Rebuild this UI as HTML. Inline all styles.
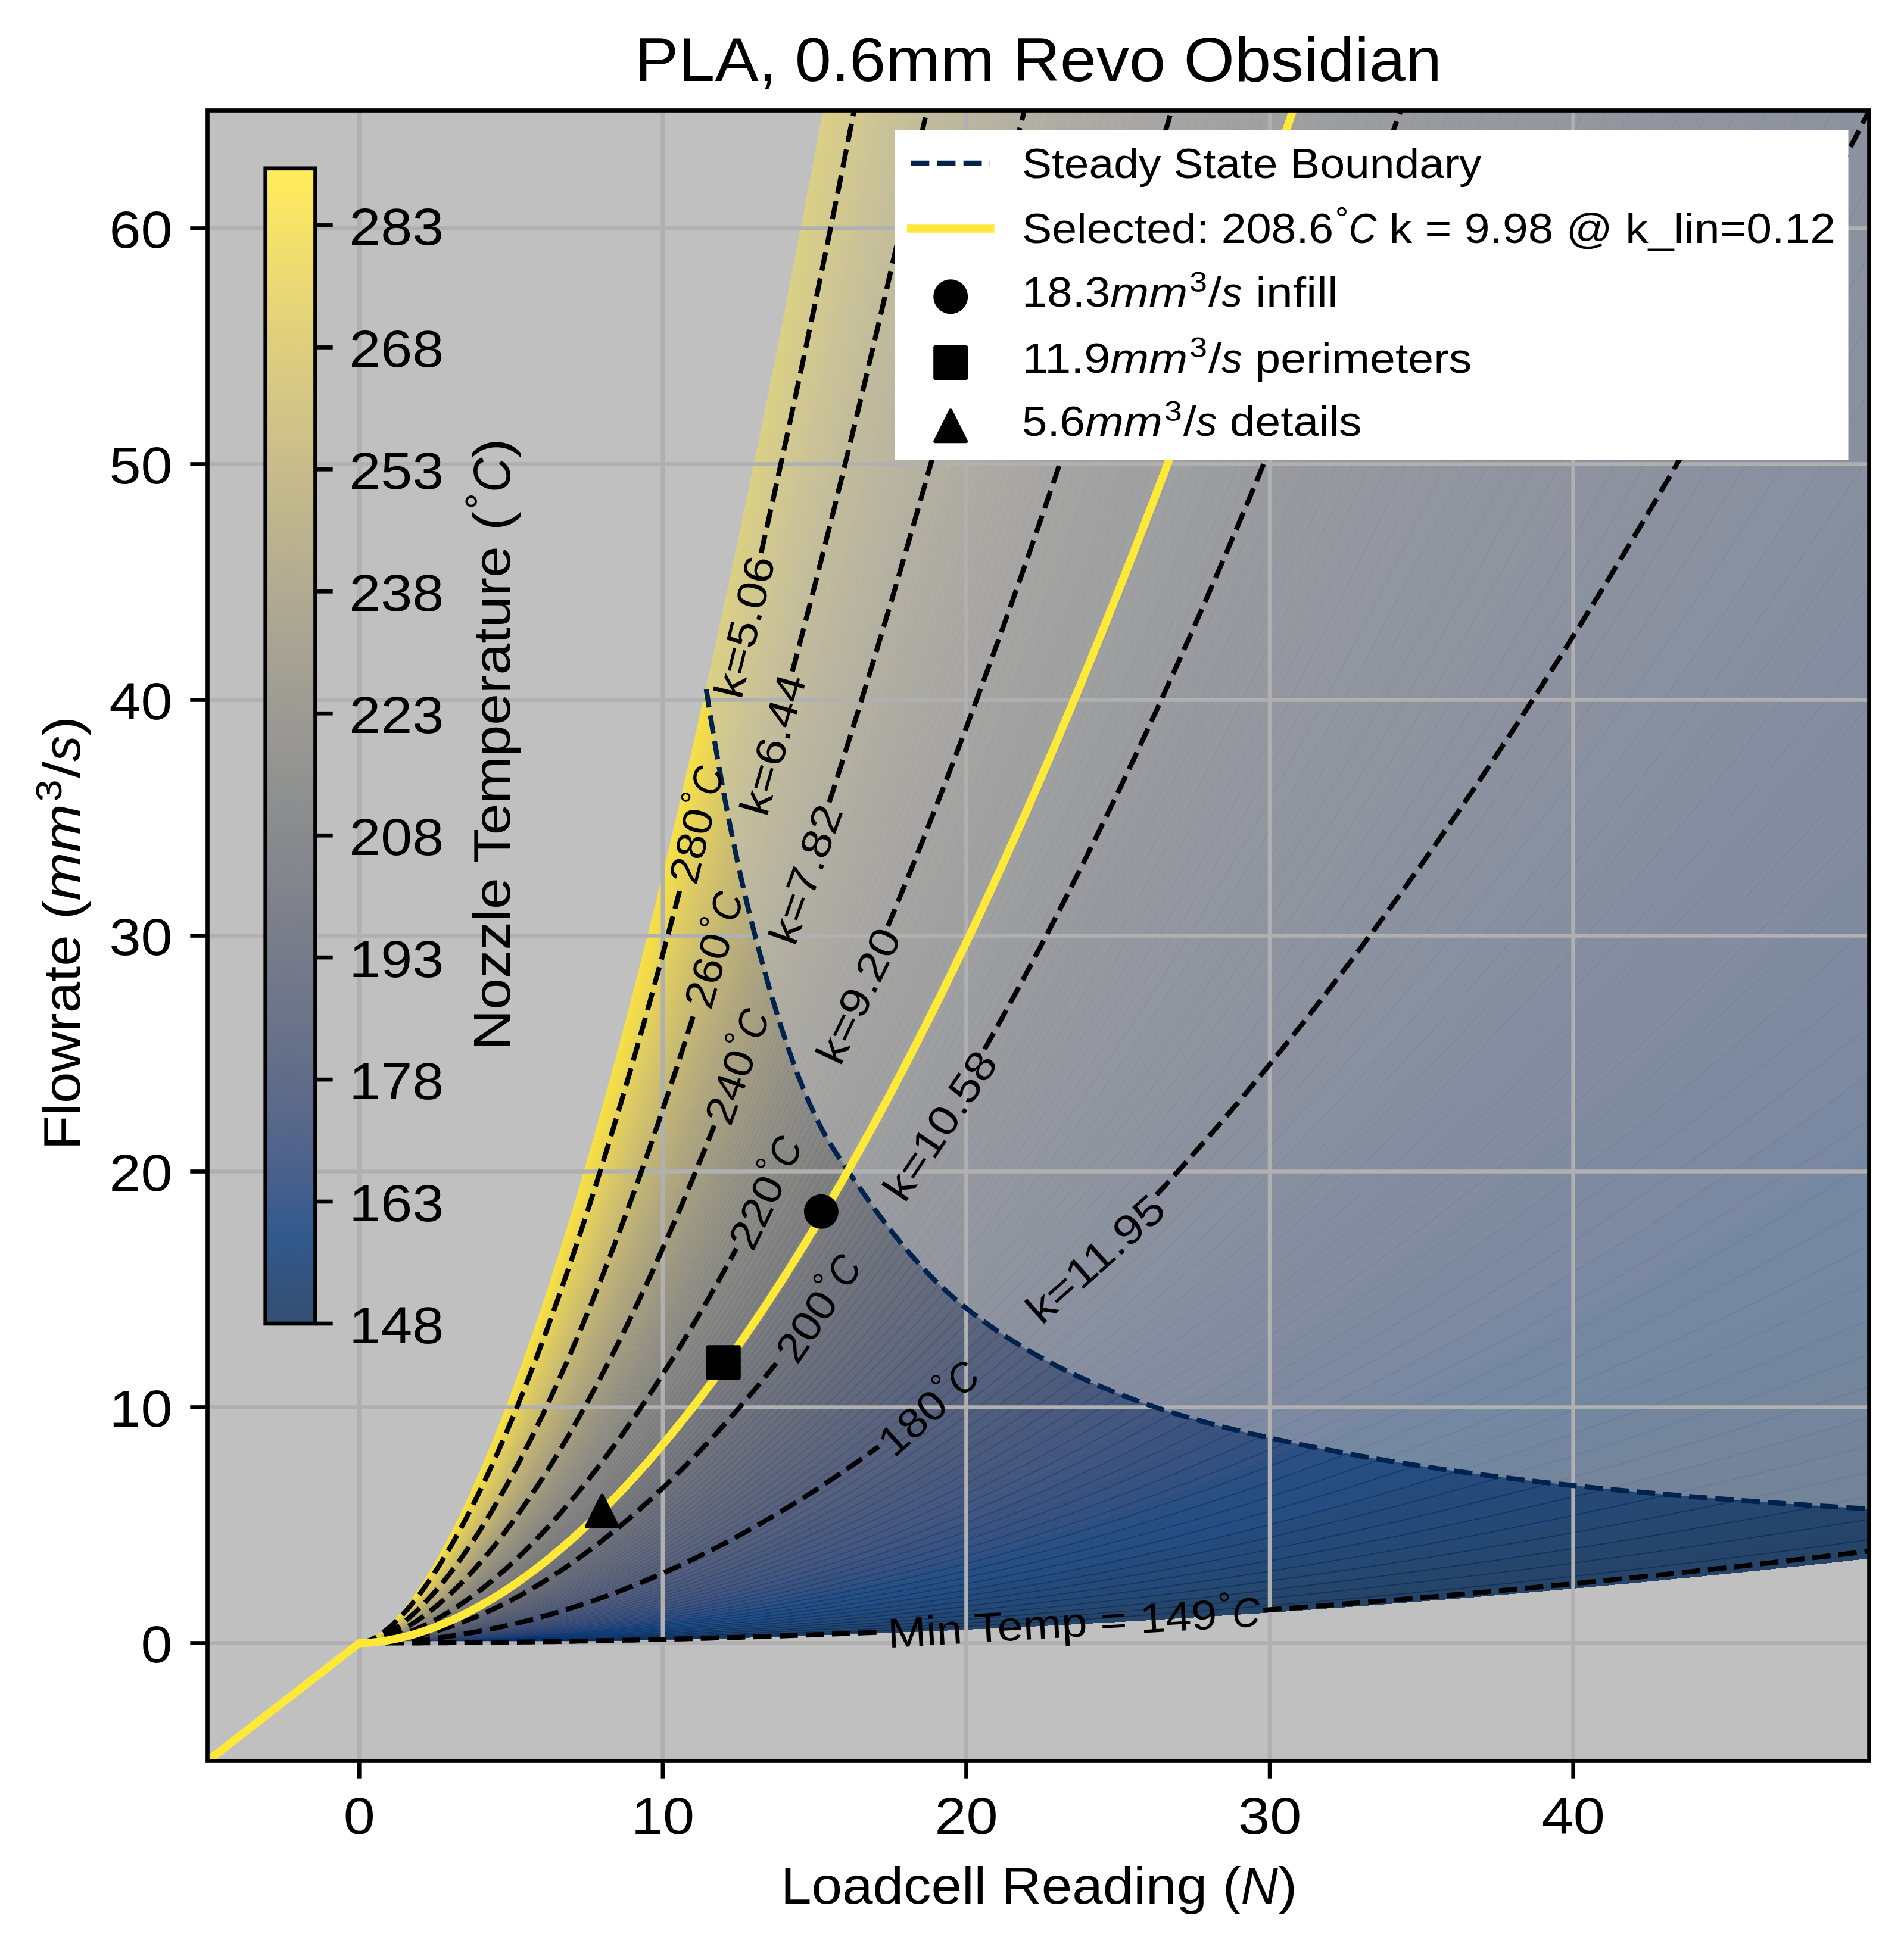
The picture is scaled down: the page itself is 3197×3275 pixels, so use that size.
<!DOCTYPE html>
<html><head><meta charset="utf-8"><title>PLA, 0.6mm Revo Obsidian</title>
<style>html,body{margin:0;padding:0;background:#fff}svg{display:block}text{font-family:"Liberation Sans", sans-serif;white-space:pre}</style></head><body>
<svg width="3197" height="3275" viewBox="0 0 3197 3275">
<rect x="0" y="0" width="3197" height="3275" fill="#fff"/>
<rect x="348.5" y="185.5" width="2790.0" height="2772.0" fill="#c0c0c0"/>
<defs>
<clipPath id="axclip"><rect x="348.5" y="185.5" width="2790.0" height="2772.0"/></clipPath>
<clipPath id="fillclip"><polygon points="603.3,2759.5 607.5,2759 613.2,2757.3 619.7,2754.6 626.6,2750.8 634,2746 641.8,2740 649.8,2733 658.1,2724.9 666.7,2715.7 675.5,2705.4 684.4,2694.1 693.6,2681.6 703,2668.1 712.5,2653.5 722.2,2637.9 732,2621.1 742,2603.3 752.1,2584.3 762.4,2564.3 772.7,2543.2 783.2,2521.1 793.8,2497.8 804.5,2473.5 815.4,2448.1 826.3,2421.6 837.3,2394 848.5,2365.4 859.7,2335.6 871,2304.8 882.4,2272.9 894,2239.9 905.5,2205.9 917.2,2170.7 929,2134.5 940.8,2097.2 952.7,2058.8 964.7,2019.4 976.8,1978.8 988.9,1937.2 1001.1,1894.5 1013.4,1850.7 1025.8,1805.8 1038.2,1759.9 1050.7,1712.8 1063.2,1664.7 1075.8,1615.5 1088.5,1565.2 1101.3,1513.9 1114.1,1461.4 1126.9,1407.9 1139.9,1353.3 1152.8,1297.6 1165.9,1240.8 1179,1183 1192.1,1124.1 1205.4,1064 1218.6,1003 1231.9,940.8 1245.3,877.5 1258.7,813.2 1272.2,747.8 1285.8,681.3 1299.3,613.7 1313,545 1326.6,475.3 1340.4,404.5 1354.1,332.6 1368,259.6 1381.8,185.5 3138.5,185.5 3138.5,2617.1 3101.9,2621.2 3065.2,2625.2 3028.6,2629.2 2991.9,2633.1 2955.2,2637 2918.6,2640.8 2881.9,2644.5 2845.3,2648.2 2808.6,2651.8 2772,2655.4 2735.3,2658.9 2698.6,2662.3 2662,2665.7 2625.3,2669 2588.6,2672.3 2551.9,2675.5 2515.3,2678.6 2478.6,2681.7 2441.9,2684.7 2405.2,2687.7 2368.6,2690.6 2331.9,2693.4 2295.2,2696.2 2258.5,2698.9 2221.8,2701.6 2185.1,2704.2 2148.4,2706.7 2111.7,2709.2 2075,2711.6 2038.3,2714 2001.6,2716.3 1964.9,2718.6 1928.2,2720.7 1891.5,2722.9 1854.8,2724.9 1818.1,2726.9 1781.4,2728.9 1744.6,2730.8 1707.9,2732.6 1671.2,2734.3 1634.5,2736.1 1597.7,2737.7 1561,2739.3 1524.3,2740.8 1487.5,2742.3 1450.8,2743.7 1414,2745 1377.2,2746.3 1340.5,2747.5 1303.7,2748.7 1266.9,2749.8 1230.2,2750.9 1193.4,2751.8 1156.6,2752.8 1119.8,2753.6 1083,2754.4 1046.2,2755.2 1009.4,2755.9 972.6,2756.5 935.7,2757.1 898.9,2757.6 862,2758 825.1,2758.4 788.3,2758.8 751.3,2759 714.4,2759.2 677.5,2759.4 640.4,2759.5 603.3,2759.5"/></clipPath>
</defs>
<g clip-path="url(#axclip)"><g clip-path="url(#fillclip)">
<rect x="348.5" y="185.5" width="2790.0" height="2772.0" fill="#f1df52"/>
<polygon points="603.3,2759.5 612,2757.8 623.6,2752.7 636.8,2744.3 651,2732.4 666.1,2717.2 681.9,2698.6 698.3,2676.6 715.2,2651.2 732.7,2622.4 750.6,2590.3 768.9,2554.7 787.6,2515.8 806.7,2473.5 826.1,2427.8 845.9,2378.7 865.9,2326.3 886.3,2270.4 906.9,2211.2 927.8,2148.6 948.9,2082.6 970.3,2013.2 991.9,1940.4 1013.8,1864.3 1035.8,1784.7 1058.1,1701.8 1080.6,1615.5 1103.3,1525.8 1126.2,1432.7 1149.2,1336.3 1172.5,1236.4 1195.9,1133.2 1219.5,1026.6 1243.3,916.6 1267.3,803.2 1291.4,686.4 1315.6,566.3 1340,442.7 1364.6,315.8 1389.3,185.5 3143.5,180.5 3143.5,2957.5 603.3,2957.5" fill="#f1dc50"/>
<polygon points="603.3,2759.5 612.1,2757.8 623.9,2752.7 637.2,2744.3 651.6,2732.4 666.8,2717.2 682.8,2698.6 699.4,2676.6 716.5,2651.2 734.2,2622.4 752.3,2590.3 770.8,2554.7 789.7,2515.8 809,2473.5 828.6,2427.8 848.5,2378.7 868.8,2326.3 889.3,2270.4 910.1,2211.2 931.2,2148.6 952.5,2082.6 974.1,2013.2 995.9,1940.4 1018,1864.3 1040.3,1784.7 1062.7,1701.8 1085.4,1615.5 1108.3,1525.8 1131.4,1432.7 1154.7,1336.3 1178.2,1236.4 1201.8,1133.2 1225.6,1026.6 1249.6,916.6 1273.8,803.2 1298.1,686.4 1322.6,566.3 1347.2,442.7 1372,315.8 1396.9,185.5 3143.5,180.5 3143.5,2957.5 603.3,2957.5" fill="#efda53"/>
<polygon points="603.3,2759.5 612.2,2757.8 624.2,2752.7 637.7,2744.3 652.2,2732.4 667.6,2717.2 683.8,2698.6 700.5,2676.6 717.9,2651.2 735.7,2622.4 754,2590.3 772.7,2554.7 791.8,2515.8 811.2,2473.5 831.1,2427.8 851.2,2378.7 871.6,2326.3 892.4,2270.4 913.4,2211.2 934.7,2148.6 956.2,2082.6 978,2013.2 1000,1940.4 1022.3,1864.3 1044.8,1784.7 1067.5,1701.8 1090.4,1615.5 1113.5,1525.8 1136.8,1432.7 1160.3,1336.3 1183.9,1236.4 1207.8,1133.2 1231.8,1026.6 1256,916.6 1280.4,803.2 1304.9,686.4 1329.6,566.3 1354.5,442.7 1379.5,315.8 1404.6,185.5 3143.5,180.5 3143.5,2957.5 603.3,2957.5" fill="#ecd858"/>
<polygon points="603.3,2759.5 612.3,2757.8 624.5,2752.7 638.1,2744.3 652.8,2732.4 668.4,2717.2 684.8,2698.6 701.7,2676.6 719.2,2651.2 737.3,2622.4 755.7,2590.3 774.6,2554.7 793.9,2515.8 813.6,2473.5 833.6,2427.8 853.9,2378.7 874.6,2326.3 895.5,2270.4 916.8,2211.2 938.3,2148.6 960,2082.6 982,2013.2 1004.2,1940.4 1026.7,1864.3 1049.4,1784.7 1072.3,1701.8 1095.4,1615.5 1118.7,1525.8 1142.2,1432.7 1165.9,1336.3 1189.8,1236.4 1213.9,1133.2 1238.1,1026.6 1262.6,916.6 1287.1,803.2 1311.9,686.4 1336.8,566.3 1361.9,442.7 1387.1,315.8 1412.5,185.5 3143.5,180.5 3143.5,2957.5 603.3,2957.5" fill="#e9d65b"/>
<polygon points="603.3,2759.5 612.5,2757.8 624.8,2752.7 638.6,2744.3 653.5,2732.4 669.3,2717.2 685.8,2698.6 702.9,2676.6 720.7,2651.2 738.9,2622.4 757.5,2590.3 776.7,2554.7 796.2,2515.8 816,2473.5 836.2,2427.8 856.8,2378.7 877.6,2326.3 898.8,2270.4 920.2,2211.2 941.9,2148.6 963.9,2082.6 986.1,2013.2 1008.5,1940.4 1031.2,1864.3 1054.1,1784.7 1077.2,1701.8 1100.6,1615.5 1124.1,1525.8 1147.8,1432.7 1171.7,1336.3 1195.8,1236.4 1220.1,1133.2 1244.6,1026.6 1269.2,916.6 1294,803.2 1319,686.4 1344.1,566.3 1369.4,442.7 1394.9,315.8 1420.5,185.5 3143.5,180.5 3143.5,2957.5 603.3,2957.5" fill="#e7d45e"/>
<polygon points="603.3,2759.5 612.6,2757.8 625.1,2752.7 639.1,2744.3 654.2,2732.4 670.2,2717.2 686.9,2698.6 704.2,2676.6 722.1,2651.2 740.5,2622.4 759.4,2590.3 778.7,2554.7 798.4,2515.8 818.5,2473.5 838.9,2427.8 859.7,2378.7 880.8,2326.3 902.1,2270.4 923.8,2211.2 945.7,2148.6 967.9,2082.6 990.3,2013.2 1013,1940.4 1035.9,1864.3 1059,1784.7 1082.3,1701.8 1105.9,1615.5 1129.6,1525.8 1153.5,1432.7 1177.7,1336.3 1202,1236.4 1226.5,1133.2 1251.2,1026.6 1276.1,916.6 1301.1,803.2 1326.3,686.4 1351.6,566.3 1377.1,442.7 1402.8,315.8 1428.6,185.5 3143.5,180.5 3143.5,2957.5 603.3,2957.5" fill="#e5d261"/>
<polygon points="603.3,2759.5 612.8,2757.8 625.4,2752.7 639.6,2744.3 654.9,2732.4 671.1,2717.2 688,2698.6 705.5,2676.6 723.7,2651.2 742.3,2622.4 761.4,2590.3 780.9,2554.7 800.8,2515.8 821.1,2473.5 841.8,2427.8 862.7,2378.7 884,2326.3 905.6,2270.4 927.4,2211.2 949.6,2148.6 972,2082.6 994.6,2013.2 1017.5,1940.4 1040.6,1864.3 1064,1784.7 1087.5,1701.8 1111.3,1615.5 1135.3,1525.8 1159.4,1432.7 1183.8,1336.3 1208.3,1236.4 1233.1,1133.2 1258,1026.6 1283,916.6 1308.3,803.2 1333.7,686.4 1359.3,566.3 1385,442.7 1410.9,315.8 1437,185.5 3143.5,180.5 3143.5,2957.5 603.3,2957.5" fill="#e2d064"/>
<polygon points="603.3,2759.5 613,2757.8 625.8,2752.7 640.2,2744.3 655.7,2732.4 672,2717.2 689.2,2698.6 706.9,2676.6 725.3,2651.2 744.1,2622.4 763.4,2590.3 783.1,2554.7 803.3,2515.8 823.8,2473.5 844.7,2427.8 865.8,2378.7 887.3,2326.3 909.1,2270.4 931.2,2211.2 953.6,2148.6 976.2,2082.6 999.1,2013.2 1022.2,1940.4 1045.5,1864.3 1069.1,1784.7 1092.8,1701.8 1116.8,1615.5 1141,1525.8 1165.4,1432.7 1190,1336.3 1214.8,1236.4 1239.7,1133.2 1264.8,1026.6 1290.1,916.6 1315.6,803.2 1341.3,686.4 1367.1,566.3 1393,442.7 1419.1,315.8 1445.4,185.5 3143.5,180.5 3143.5,2957.5 603.3,2957.5" fill="#e0ce65"/>
<polygon points="603.3,2759.5 613.1,2757.8 626.2,2752.7 640.8,2744.3 656.5,2732.4 673.1,2717.2 690.4,2698.6 708.4,2676.6 726.9,2651.2 746,2622.4 765.5,2590.3 785.5,2554.7 805.8,2515.8 826.6,2473.5 847.6,2427.8 869,2378.7 890.8,2326.3 912.8,2270.4 935.1,2211.2 957.7,2148.6 980.5,2082.6 1003.6,2013.2 1026.9,1940.4 1050.5,1864.3 1074.3,1784.7 1098.3,1701.8 1122.5,1615.5 1146.9,1525.8 1171.5,1432.7 1196.3,1336.3 1221.3,1236.4 1246.5,1133.2 1271.8,1026.6 1297.3,916.6 1323,803.2 1348.9,686.4 1374.9,566.3 1401.1,442.7 1427.4,315.8 1453.9,185.5 3143.5,180.5 3143.5,2957.5 603.3,2957.5" fill="#ddcc68"/>
<polygon points="603.3,2759.5 613.3,2757.8 626.6,2752.7 641.4,2744.3 657.3,2732.4 674.1,2717.2 691.7,2698.6 709.9,2676.6 728.6,2651.2 747.9,2622.4 767.7,2590.3 787.9,2554.7 808.5,2515.8 829.4,2473.5 850.7,2427.8 872.4,2378.7 894.3,2326.3 916.5,2270.4 939.1,2211.2 961.9,2148.6 984.9,2082.6 1008.2,2013.2 1031.8,1940.4 1055.6,1864.3 1079.6,1784.7 1103.8,1701.8 1128.2,1615.5 1152.9,1525.8 1177.7,1432.7 1202.7,1336.3 1227.9,1236.4 1253.3,1133.2 1278.9,1026.6 1304.6,916.6 1330.5,803.2 1356.6,686.4 1382.8,566.3 1409.2,442.7 1435.8,315.8 1462.4,185.5 3143.5,180.5 3143.5,2957.5 603.3,2957.5" fill="#dbca6a"/>
<polygon points="603.3,2759.5 613.5,2757.8 627,2752.7 642,2744.3 658.2,2732.4 675.2,2717.2 693,2698.6 711.4,2676.6 730.4,2651.2 750,2622.4 769.9,2590.3 790.4,2554.7 811.2,2515.8 832.3,2473.5 853.9,2427.8 875.7,2378.7 897.9,2326.3 920.4,2270.4 943.1,2211.2 966.2,2148.6 989.5,2082.6 1013,2013.2 1036.8,1940.4 1060.8,1864.3 1085,1784.7 1109.4,1701.8 1134.1,1615.5 1158.9,1525.8 1184,1432.7 1209.2,1336.3 1234.6,1236.4 1260.3,1133.2 1286,1026.6 1312,916.6 1338.1,803.2 1364.4,686.4 1390.8,566.3 1417.4,442.7 1444.2,315.8 1471.1,185.5 3143.5,180.5 3143.5,2957.5 603.3,2957.5" fill="#d8c76c"/>
<polygon points="603.3,2759.5 613.7,2757.8 627.4,2752.7 642.7,2744.3 659.1,2732.4 676.3,2717.2 694.4,2698.6 713,2676.6 732.3,2651.2 752,2622.4 772.3,2590.3 792.9,2554.7 814,2515.8 835.4,2473.5 857.1,2427.8 879.2,2378.7 901.6,2326.3 924.3,2270.4 947.3,2211.2 970.6,2148.6 994.1,2082.6 1017.8,2013.2 1041.8,1940.4 1066.1,1864.3 1090.5,1784.7 1115.2,1701.8 1140,1615.5 1165.1,1525.8 1190.4,1432.7 1215.8,1336.3 1241.5,1236.4 1267.3,1133.2 1293.3,1026.6 1319.5,916.6 1345.8,803.2 1372.3,686.4 1399,566.3 1425.8,442.7 1452.8,315.8 1479.9,185.5 3143.5,180.5 3143.5,2957.5 603.3,2957.5" fill="#d6c66e"/>
<polygon points="603.3,2759.5 613.9,2757.8 627.9,2752.7 643.4,2744.3 660,2732.4 677.5,2717.2 695.8,2698.6 714.7,2676.6 734.2,2651.2 754.2,2622.4 774.6,2590.3 795.5,2554.7 816.8,2515.8 838.5,2473.5 860.5,2427.8 882.8,2378.7 905.4,2326.3 928.4,2270.4 951.6,2211.2 975.1,2148.6 998.8,2082.6 1022.8,2013.2 1047,1940.4 1071.5,1864.3 1096.1,1784.7 1121,1701.8 1146.1,1615.5 1171.4,1525.8 1196.9,1432.7 1222.6,1336.3 1248.5,1236.4 1274.5,1133.2 1300.7,1026.6 1327.1,916.6 1353.7,803.2 1380.4,686.4 1407.2,566.3 1434.3,442.7 1461.4,315.8 1488.8,185.5 3143.5,180.5 3143.5,2957.5 603.3,2957.5" fill="#d4c470"/>
<polygon points="603.3,2759.5 614.2,2757.8 628.3,2752.7 644.1,2744.3 661,2732.4 678.7,2717.2 697.3,2698.6 716.4,2676.6 736.2,2651.2 756.4,2622.4 777.1,2590.3 798.2,2554.7 819.8,2515.8 841.6,2473.5 863.9,2427.8 886.5,2378.7 909.3,2326.3 932.5,2270.4 955.9,2211.2 979.7,2148.6 1003.6,2082.6 1027.9,2013.2 1052.3,1940.4 1077,1864.3 1101.9,1784.7 1127,1701.8 1152.3,1615.5 1177.8,1525.8 1203.6,1432.7 1229.5,1336.3 1255.5,1236.4 1281.8,1133.2 1308.2,1026.6 1334.8,916.6 1361.6,803.2 1388.5,686.4 1415.6,566.3 1442.9,442.7 1470.3,315.8 1497.8,185.5 3143.5,180.5 3143.5,2957.5 603.3,2957.5" fill="#d1c272"/>
<polygon points="603.3,2759.5 614.4,2757.8 628.8,2752.7 644.8,2744.3 662,2732.4 680,2717.2 698.8,2698.6 718.2,2676.6 738.2,2651.2 758.7,2622.4 779.6,2590.3 801,2554.7 822.8,2515.8 844.9,2473.5 867.4,2427.8 890.2,2378.7 913.3,2326.3 936.7,2270.4 960.4,2211.2 984.4,2148.6 1008.6,2082.6 1033,2013.2 1057.7,1940.4 1082.6,1864.3 1107.8,1784.7 1133.1,1701.8 1158.7,1615.5 1184.4,1525.8 1210.3,1432.7 1236.5,1336.3 1262.8,1236.4 1289.3,1133.2 1315.9,1026.6 1342.7,916.6 1369.7,803.2 1396.9,686.4 1424.2,566.3 1451.6,442.7 1479.2,315.8 1507,185.5 3143.5,180.5 3143.5,2957.5 603.3,2957.5" fill="#cfc073"/>
<polygon points="603.3,2759.5 614.6,2757.8 629.3,2752.7 645.6,2744.3 663,2732.4 681.3,2717.2 700.3,2698.6 720,2676.6 740.2,2651.2 761,2622.4 782.2,2590.3 803.8,2554.7 825.8,2515.8 848.2,2473.5 870.9,2427.8 894,2378.7 917.4,2326.3 941,2270.4 965,2211.2 989.2,2148.6 1013.6,2082.6 1038.3,2013.2 1063.2,1940.4 1088.4,1864.3 1113.7,1784.7 1139.3,1701.8 1165.1,1615.5 1191.1,1525.8 1217.3,1432.7 1243.6,1336.3 1270.2,1236.4 1296.9,1133.2 1323.7,1026.6 1350.8,916.6 1378,803.2 1405.4,686.4 1432.9,566.3 1460.6,442.7 1488.4,315.8 1516.4,185.5 3143.5,180.5 3143.5,2957.5 603.3,2957.5" fill="#cdbe74"/>
<polygon points="603.3,2759.5 614.9,2757.8 629.8,2752.7 646.4,2744.3 664,2732.4 682.6,2717.2 701.9,2698.6 721.8,2676.6 742.3,2651.2 763.3,2622.4 784.8,2590.3 806.7,2554.7 829,2515.8 851.6,2473.5 874.6,2427.8 897.9,2378.7 921.5,2326.3 945.4,2270.4 969.6,2211.2 994,2148.6 1018.7,2082.6 1043.7,2013.2 1068.9,1940.4 1094.2,1864.3 1119.9,1784.7 1145.7,1701.8 1171.7,1615.5 1197.9,1525.8 1224.3,1432.7 1250.9,1336.3 1277.7,1236.4 1304.6,1133.2 1331.7,1026.6 1359,916.6 1386.5,803.2 1414.1,686.4 1441.8,566.3 1469.7,442.7 1497.8,315.8 1526,185.5 3143.5,180.5 3143.5,2957.5 603.3,2957.5" fill="#cabc76"/>
<polygon points="603.3,2759.5 615.1,2757.8 630.3,2752.7 647.1,2744.3 665.1,2732.4 683.9,2717.2 703.5,2698.6 723.7,2676.6 744.4,2651.2 765.7,2622.4 787.4,2590.3 809.6,2554.7 832.1,2515.8 855,2473.5 878.3,2427.8 901.9,2378.7 925.7,2326.3 949.9,2270.4 974.3,2211.2 999,2148.6 1024,2082.6 1049.2,2013.2 1074.6,1940.4 1100.2,1864.3 1126.1,1784.7 1152.2,1701.8 1178.4,1615.5 1204.9,1525.8 1231.5,1432.7 1258.4,1336.3 1285.4,1236.4 1312.6,1133.2 1339.9,1026.6 1367.4,916.6 1395.1,803.2 1423,686.4 1451,566.3 1479.1,442.7 1507.4,315.8 1535.8,185.5 3143.5,180.5 3143.5,2957.5 603.3,2957.5" fill="#c8ba77"/>
<polygon points="603.3,2759.5 615.4,2757.8 630.9,2752.7 647.9,2744.3 666.1,2732.4 685.2,2717.2 705.1,2698.6 725.5,2676.6 746.6,2651.2 768.1,2622.4 790.1,2590.3 812.5,2554.7 835.4,2515.8 858.5,2473.5 882,2427.8 905.9,2378.7 930,2326.3 954.4,2270.4 979.1,2211.2 1004.1,2148.6 1029.3,2082.6 1054.8,2013.2 1080.4,1940.4 1106.3,1864.3 1132.5,1784.7 1158.8,1701.8 1185.3,1615.5 1212,1525.8 1238.9,1432.7 1266,1336.3 1293.3,1236.4 1320.7,1133.2 1348.3,1026.6 1376.1,916.6 1404,803.2 1432.1,686.4 1460.3,566.3 1488.7,442.7 1517.2,315.8 1545.9,185.5 3143.5,180.5 3143.5,2957.5 603.3,2957.5" fill="#c6b978"/>
<polygon points="603.3,2759.5 615.6,2757.8 631.4,2752.7 648.7,2744.3 667.2,2732.4 686.6,2717.2 706.7,2698.6 727.4,2676.6 748.7,2651.2 770.6,2622.4 792.8,2590.3 815.5,2554.7 838.6,2515.8 862.1,2473.5 885.9,2427.8 910,2378.7 934.4,2326.3 959.1,2270.4 984,2211.2 1009.3,2148.6 1034.7,2082.6 1060.5,2013.2 1086.4,1940.4 1112.6,1864.3 1139,1784.7 1165.5,1701.8 1192.3,1615.5 1219.3,1525.8 1246.5,1432.7 1273.8,1336.3 1301.3,1236.4 1329,1133.2 1356.9,1026.6 1384.9,916.6 1413.1,803.2 1441.5,686.4 1470,566.3 1498.6,442.7 1527.4,315.8 1556.3,185.5 3143.5,180.5 3143.5,2957.5 603.3,2957.5" fill="#c3b77a"/>
<polygon points="603.3,2759.5 615.9,2757.8 631.9,2752.7 649.5,2744.3 668.3,2732.4 687.9,2717.2 708.3,2698.6 729.3,2676.6 750.9,2651.2 773,2622.4 795.6,2590.3 818.6,2554.7 841.9,2515.8 865.7,2473.5 889.7,2427.8 914.1,2378.7 938.8,2326.3 963.8,2270.4 989,2211.2 1014.5,2148.6 1040.3,2082.6 1066.3,2013.2 1092.5,1940.4 1118.9,1864.3 1145.6,1784.7 1172.4,1701.8 1199.5,1615.5 1226.7,1525.8 1254.2,1432.7 1281.8,1336.3 1309.6,1236.4 1337.6,1133.2 1365.7,1026.6 1394,916.6 1422.4,803.2 1451.1,686.4 1479.8,566.3 1508.7,442.7 1537.8,315.8 1567,185.5 3143.5,180.5 3143.5,2957.5 603.3,2957.5" fill="#c1b57b"/>
<polygon points="603.3,2759.5 616.1,2757.8 632.4,2752.7 650.3,2744.3 669.4,2732.4 689.3,2717.2 710,2698.6 731.3,2676.6 753.2,2651.2 775.5,2622.4 798.4,2590.3 821.6,2554.7 845.3,2515.8 869.3,2473.5 893.6,2427.8 918.3,2378.7 943.3,2326.3 968.5,2270.4 994.1,2211.2 1019.8,2148.6 1045.9,2082.6 1072.1,2013.2 1098.6,1940.4 1125.4,1864.3 1152.3,1784.7 1179.4,1701.8 1206.8,1615.5 1234.3,1525.8 1262,1432.7 1289.9,1336.3 1318,1236.4 1346.2,1133.2 1374.6,1026.6 1403.2,916.6 1431.9,803.2 1460.8,686.4 1489.8,566.3 1519,442.7 1548.3,315.8 1577.8,185.5 3143.5,180.5 3143.5,2957.5 603.3,2957.5" fill="#bfb37c"/>
<polygon points="603.3,2759.5 616.4,2757.8 632.9,2752.7 651.1,2744.3 670.5,2732.4 690.7,2717.2 711.6,2698.6 733.2,2676.6 755.4,2651.2 778.1,2622.4 801.2,2590.3 824.8,2554.7 848.7,2515.8 873,2473.5 897.6,2427.8 922.6,2378.7 947.8,2326.3 973.4,2270.4 999.2,2211.2 1025.3,2148.6 1051.6,2082.6 1078.1,2013.2 1104.9,1940.4 1131.9,1864.3 1159.1,1784.7 1186.6,1701.8 1214.2,1615.5 1242,1525.8 1270,1432.7 1298.1,1336.3 1326.5,1236.4 1355,1133.2 1383.7,1026.6 1412.5,916.6 1441.5,803.2 1470.7,686.4 1500,566.3 1529.5,442.7 1559.1,315.8 1588.8,185.5 3143.5,180.5 3143.5,2957.5 603.3,2957.5" fill="#bdb17d"/>
<polygon points="603.3,2759.5 616.7,2757.8 633.5,2752.7 652,2744.3 671.6,2732.4 692.1,2717.2 713.4,2698.6 735.3,2676.6 757.7,2651.2 780.7,2622.4 804.1,2590.3 827.9,2554.7 852.2,2515.8 876.8,2473.5 901.7,2427.8 926.9,2378.7 952.5,2326.3 978.3,2270.4 1004.4,2211.2 1030.8,2148.6 1057.4,2082.6 1084.2,2013.2 1111.3,1940.4 1138.6,1864.3 1166.1,1784.7 1193.8,1701.8 1221.7,1615.5 1249.8,1525.8 1278.1,1432.7 1306.5,1336.3 1335.2,1236.4 1364,1133.2 1392.9,1026.6 1422.1,916.6 1451.4,803.2 1480.8,686.4 1510.4,566.3 1540.1,442.7 1570,315.8 1600,185.5 3143.5,180.5 3143.5,2957.5 603.3,2957.5" fill="#baaf7e"/>
<polygon points="603.3,2759.5 616.9,2757.8 634.1,2752.7 652.8,2744.3 672.7,2732.4 693.5,2717.2 715.1,2698.6 737.3,2676.6 760.1,2651.2 783.3,2622.4 807.1,2590.3 831.2,2554.7 855.7,2515.8 880.6,2473.5 905.8,2427.8 931.4,2378.7 957.2,2326.3 983.4,2270.4 1009.8,2211.2 1036.4,2148.6 1063.3,2082.6 1090.5,2013.2 1117.8,1940.4 1145.4,1864.3 1173.2,1784.7 1201.2,1701.8 1229.4,1615.5 1257.8,1525.8 1286.4,1432.7 1315.1,1336.3 1344,1236.4 1373.1,1133.2 1402.4,1026.6 1431.8,916.6 1461.4,803.2 1491.1,686.4 1521,566.3 1551,442.7 1581.2,315.8 1611.5,185.5 3143.5,180.5 3143.5,2957.5 603.3,2957.5" fill="#b9ae7f"/>
<polygon points="603.3,2759.5 617.2,2757.8 634.6,2752.7 653.7,2744.3 673.9,2732.4 695,2717.2 716.9,2698.6 739.4,2676.6 762.5,2651.2 786,2622.4 810.1,2590.3 834.5,2554.7 859.3,2515.8 884.5,2473.5 910.1,2427.8 935.9,2378.7 962.1,2326.3 988.5,2270.4 1015.2,2211.2 1042.2,2148.6 1069.4,2082.6 1096.8,2013.2 1124.5,1940.4 1152.4,1864.3 1180.5,1784.7 1208.8,1701.8 1237.3,1615.5 1266,1525.8 1294.8,1432.7 1323.9,1336.3 1353.1,1236.4 1382.5,1133.2 1412,1026.6 1441.8,916.6 1471.6,803.2 1501.6,686.4 1531.8,566.3 1562.1,442.7 1592.6,315.8 1623.2,185.5 3143.5,180.5 3143.5,2957.5 603.3,2957.5" fill="#b6ac80"/>
<polygon points="603.3,2759.5 617.5,2757.8 635.2,2752.7 654.6,2744.3 675.1,2732.4 696.5,2717.2 718.7,2698.6 741.5,2676.6 764.9,2651.2 788.8,2622.4 813.1,2590.3 837.9,2554.7 863.1,2515.8 888.6,2473.5 914.4,2427.8 940.6,2378.7 967,2326.3 993.8,2270.4 1020.8,2211.2 1048.1,2148.6 1075.6,2082.6 1103.3,2013.2 1131.3,1940.4 1159.5,1864.3 1187.9,1784.7 1216.5,1701.8 1245.3,1615.5 1274.3,1525.8 1303.5,1432.7 1332.8,1336.3 1362.4,1236.4 1392.1,1133.2 1421.9,1026.6 1451.9,916.6 1482.1,803.2 1512.4,686.4 1542.9,566.3 1573.5,442.7 1604.3,315.8 1635.2,185.5 3143.5,180.5 3143.5,2957.5 603.3,2957.5" fill="#b4aa80"/>
<polygon points="603.3,2759.5 617.8,2757.8 635.8,2752.7 655.5,2744.3 676.3,2732.4 698.1,2717.2 720.6,2698.6 743.7,2676.6 767.4,2651.2 791.6,2622.4 816.3,2590.3 841.4,2554.7 866.8,2515.8 892.7,2473.5 918.8,2427.8 945.3,2378.7 972.1,2326.3 999.2,2270.4 1026.5,2211.2 1054.1,2148.6 1081.9,2082.6 1110,2013.2 1138.3,1940.4 1166.8,1864.3 1195.5,1784.7 1224.4,1701.8 1253.6,1615.5 1282.9,1525.8 1312.4,1432.7 1342,1336.3 1371.9,1236.4 1401.9,1133.2 1432.1,1026.6 1462.4,916.6 1492.9,803.2 1523.5,686.4 1554.3,566.3 1585.2,442.7 1616.3,315.8 1647.5,185.5 3143.5,180.5 3143.5,2957.5 603.3,2957.5" fill="#b1a881"/>
<polygon points="603.3,2759.5 618.1,2757.8 636.4,2752.7 656.4,2744.3 677.6,2732.4 699.7,2717.2 722.5,2698.6 746,2676.6 770,2651.2 794.5,2622.4 819.5,2590.3 844.9,2554.7 870.7,2515.8 896.9,2473.5 923.4,2427.8 950.2,2378.7 977.3,2326.3 1004.7,2270.4 1032.4,2211.2 1060.3,2148.6 1088.4,2082.6 1116.8,2013.2 1145.5,1940.4 1174.3,1864.3 1203.3,1784.7 1232.6,1701.8 1262,1615.5 1291.7,1525.8 1321.5,1432.7 1351.5,1336.3 1381.6,1236.4 1412,1133.2 1442.5,1026.6 1473.1,916.6 1503.9,803.2 1534.9,686.4 1566,566.3 1597.2,442.7 1628.6,315.8 1660.2,185.5 3143.5,180.5 3143.5,2957.5 603.3,2957.5" fill="#afa782"/>
<polygon points="603.3,2759.5 618.4,2757.8 637,2752.7 657.4,2744.3 678.9,2732.4 701.3,2717.2 724.5,2698.6 748.3,2676.6 772.6,2651.2 797.5,2622.4 822.8,2590.3 848.6,2554.7 874.7,2515.8 901.2,2473.5 928.1,2427.8 955.2,2378.7 982.7,2326.3 1010.4,2270.4 1038.4,2211.2 1066.6,2148.6 1095.1,2082.6 1123.9,2013.2 1152.8,1940.4 1182,1864.3 1211.4,1784.7 1241,1701.8 1270.8,1615.5 1300.7,1525.8 1330.9,1432.7 1361.2,1336.3 1391.7,1236.4 1422.4,1133.2 1453.2,1026.6 1484.2,916.6 1515.3,803.2 1546.6,686.4 1578,566.3 1609.6,442.7 1641.3,315.8 1673.2,185.5 3143.5,180.5 3143.5,2957.5 603.3,2957.5" fill="#ada583"/>
<polygon points="603.3,2759.5 618.7,2757.8 637.7,2752.7 658.4,2744.3 680.2,2732.4 703,2717.2 726.5,2698.6 750.6,2676.6 775.3,2651.2 800.6,2622.4 826.2,2590.3 852.3,2554.7 878.8,2515.8 905.7,2473.5 932.9,2427.8 960.4,2378.7 988.2,2326.3 1016.2,2270.4 1044.6,2211.2 1073.2,2148.6 1102,2082.6 1131.1,2013.2 1160.4,1940.4 1190,1864.3 1219.7,1784.7 1249.6,1701.8 1279.7,1615.5 1310.1,1525.8 1340.6,1432.7 1371.2,1336.3 1402.1,1236.4 1433.1,1133.2 1464.3,1026.6 1495.6,916.6 1527.1,803.2 1558.7,686.4 1590.5,566.3 1622.4,442.7 1654.5,315.8 1686.7,185.5 3143.5,180.5 3143.5,2957.5 603.3,2957.5" fill="#aba383"/>
<polygon points="603.3,2759.5 619,2757.8 638.3,2752.7 659.4,2744.3 681.6,2732.4 704.7,2717.2 728.5,2698.6 753.1,2676.6 778.1,2651.2 803.7,2622.4 829.8,2590.3 856.2,2554.7 883.1,2515.8 910.3,2473.5 937.8,2427.8 965.7,2378.7 993.8,2326.3 1022.3,2270.4 1051,2211.2 1080,2148.6 1109.2,2082.6 1138.6,2013.2 1168.3,1940.4 1198.2,1864.3 1228.3,1784.7 1258.5,1701.8 1289,1615.5 1319.7,1525.8 1350.6,1432.7 1381.6,1336.3 1412.8,1236.4 1444.2,1133.2 1475.7,1026.6 1507.4,916.6 1539.2,803.2 1571.2,686.4 1603.4,566.3 1635.6,442.7 1668.1,315.8 1700.6,185.5 3143.5,180.5 3143.5,2957.5 603.3,2957.5" fill="#a9a284"/>
<polygon points="603.3,2759.5 619.3,2757.8 639,2752.7 660.4,2744.3 683,2732.4 706.5,2717.2 730.7,2698.6 755.6,2676.6 781,2651.2 807,2622.4 833.4,2590.3 860.2,2554.7 887.4,2515.8 915,2473.5 942.9,2427.8 971.2,2378.7 999.7,2326.3 1028.5,2270.4 1057.6,2211.2 1087,2148.6 1116.5,2082.6 1146.4,2013.2 1176.4,1940.4 1206.7,1864.3 1237.1,1784.7 1267.8,1701.8 1298.6,1615.5 1329.7,1525.8 1360.9,1432.7 1392.3,1336.3 1423.9,1236.4 1455.6,1133.2 1487.5,1026.6 1519.6,916.6 1551.8,803.2 1584.2,686.4 1616.7,566.3 1649.3,442.7 1682.1,315.8 1715.1,185.5 3143.5,180.5 3143.5,2957.5 603.3,2957.5" fill="#a7a084"/>
<polygon points="603.3,2759.5 619.6,2757.8 639.7,2752.7 661.5,2744.3 684.4,2732.4 708.3,2717.2 732.9,2698.6 758.2,2676.6 784,2651.2 810.3,2622.4 837.1,2590.3 864.3,2554.7 892,2515.8 919.9,2473.5 948.2,2427.8 976.9,2378.7 1005.8,2326.3 1035,2270.4 1064.4,2211.2 1094.2,2148.6 1124.1,2082.6 1154.4,2013.2 1184.8,1940.4 1215.4,1864.3 1246.3,1784.7 1277.3,1701.8 1308.6,1615.5 1340,1525.8 1371.6,1432.7 1403.4,1336.3 1435.4,1236.4 1467.5,1133.2 1499.8,1026.6 1532.3,916.6 1564.9,803.2 1597.6,686.4 1630.5,566.3 1663.5,442.7 1696.7,315.8 1730,185.5 3143.5,180.5 3143.5,2957.5 603.3,2957.5" fill="#a49e85"/>
<polygon points="603.3,2759.5 620,2757.8 640.4,2752.7 662.6,2744.3 685.9,2732.4 710.1,2717.2 735.1,2698.6 760.8,2676.6 787,2651.2 813.7,2622.4 840.9,2590.3 868.6,2554.7 896.6,2515.8 924.9,2473.5 953.6,2427.8 982.6,2378.7 1012,2326.3 1041.6,2270.4 1071.4,2211.2 1101.6,2148.6 1131.9,2082.6 1162.5,2013.2 1193.4,1940.4 1224.4,1864.3 1255.7,1784.7 1287.1,1701.8 1318.8,1615.5 1350.6,1525.8 1382.6,1432.7 1414.8,1336.3 1447.2,1236.4 1479.7,1133.2 1512.4,1026.6 1545.3,916.6 1578.3,803.2 1611.4,686.4 1644.7,566.3 1678.1,442.7 1711.7,315.8 1745.4,185.5 3143.5,180.5 3143.5,2957.5 603.3,2957.5" fill="#a39d85"/>
<polygon points="603.3,2759.5 620.3,2757.8 641.1,2752.7 663.7,2744.3 687.4,2732.4 712,2717.2 737.4,2698.6 763.5,2676.6 790.1,2651.2 817.2,2622.4 844.8,2590.3 872.8,2554.7 901.3,2515.8 930,2473.5 959.1,2427.8 988.6,2378.7 1018.3,2326.3 1048.3,2270.4 1078.6,2211.2 1109.1,2148.6 1139.9,2082.6 1170.9,2013.2 1202.2,1940.4 1233.6,1864.3 1265.3,1784.7 1297.2,1701.8 1329.2,1615.5 1361.5,1525.8 1393.9,1432.7 1426.5,1336.3 1459.3,1236.4 1492.2,1133.2 1525.3,1026.6 1558.6,916.6 1592,803.2 1625.6,686.4 1659.3,566.3 1693.2,442.7 1727.2,315.8 1761.3,185.5 3143.5,180.5 3143.5,2957.5 603.3,2957.5" fill="#a09b85"/>
<polygon points="603.3,2759.5 620.7,2757.8 641.9,2752.7 664.8,2744.3 688.9,2732.4 713.9,2717.2 739.7,2698.6 766.2,2676.6 793.2,2651.2 820.8,2622.4 848.8,2590.3 877.2,2554.7 906.1,2515.8 935.3,2473.5 964.8,2427.8 994.6,2378.7 1024.8,2326.3 1055.2,2270.4 1085.9,2211.2 1116.9,2148.6 1148.1,2082.6 1179.5,2013.2 1211.2,1940.4 1243.1,1864.3 1275.2,1784.7 1307.5,1701.8 1340,1615.5 1372.6,1525.8 1405.5,1432.7 1438.5,1336.3 1471.7,1236.4 1505.1,1133.2 1538.6,1026.6 1572.3,916.6 1606.2,803.2 1640.2,686.4 1674.3,566.3 1708.6,442.7 1743,315.8 1777.6,185.5 3143.5,180.5 3143.5,2957.5 603.3,2957.5" fill="#9e9986"/>
<polygon points="603.3,2759.5 621,2757.8 642.6,2752.7 665.9,2744.3 690.4,2732.4 715.9,2717.2 742.1,2698.6 769,2676.6 796.5,2651.2 824.4,2622.4 852.9,2590.3 881.7,2554.7 911,2515.8 940.6,2473.5 970.6,2427.8 1000.9,2378.7 1031.5,2326.3 1062.3,2270.4 1093.5,2211.2 1124.9,2148.6 1156.5,2082.6 1188.4,2013.2 1220.5,1940.4 1252.8,1864.3 1285.3,1784.7 1318.1,1701.8 1351,1615.5 1384.1,1525.8 1417.4,1432.7 1450.9,1336.3 1484.6,1236.4 1518.4,1133.2 1552.3,1026.6 1586.5,916.6 1620.8,803.2 1655.2,686.4 1689.8,566.3 1724.5,442.7 1759.4,315.8 1794.4,185.5 3143.5,180.5 3143.5,2957.5 603.3,2957.5" fill="#9c9786"/>
<polygon points="603.3,2759.5 621.4,2757.8 643.4,2752.7 667.1,2744.3 692,2732.4 717.9,2717.2 744.6,2698.6 771.9,2676.6 799.8,2651.2 828.2,2622.4 857.1,2590.3 886.4,2554.7 916.1,2515.8 946.2,2473.5 976.6,2427.8 1007.3,2378.7 1038.3,2326.3 1069.6,2270.4 1101.2,2211.2 1133.1,2148.6 1165.2,2082.6 1197.5,2013.2 1230.1,1940.4 1262.8,1864.3 1295.8,1784.7 1329,1701.8 1362.4,1615.5 1396,1525.8 1429.7,1432.7 1463.7,1336.3 1497.8,1236.4 1532,1133.2 1566.5,1026.6 1601.1,916.6 1635.8,803.2 1670.7,686.4 1705.8,566.3 1740.9,442.7 1776.3,315.8 1811.7,185.5 3143.5,180.5 3143.5,2957.5 603.3,2957.5" fill="#9a9686"/>
<polygon points="603.3,2759.5 621.8,2757.8 644.2,2752.7 668.3,2744.3 693.7,2732.4 720,2717.2 747.1,2698.6 774.9,2676.6 803.2,2651.2 832.1,2622.4 861.4,2590.3 891.2,2554.7 921.3,2515.8 951.9,2473.5 982.7,2427.8 1013.9,2378.7 1045.4,2326.3 1077.2,2270.4 1109.3,2211.2 1141.6,2148.6 1174.1,2082.6 1206.9,2013.2 1240,1940.4 1273.2,1864.3 1306.7,1784.7 1340.3,1701.8 1374.2,1615.5 1408.2,1525.8 1442.4,1432.7 1476.8,1336.3 1511.4,1236.4 1546.2,1133.2 1581.1,1026.6 1616.1,916.6 1651.4,803.2 1686.7,686.4 1722.2,566.3 1757.9,442.7 1793.7,315.8 1829.7,185.5 3143.5,180.5 3143.5,2957.5 603.3,2957.5" fill="#989487"/>
<polygon points="603.3,2759.5 622.2,2757.8 645,2752.7 669.6,2744.3 695.4,2732.4 722.2,2717.2 749.7,2698.6 778,2676.6 806.8,2651.2 836.1,2622.4 865.9,2590.3 896.2,2554.7 926.8,2515.8 957.8,2473.5 989.1,2427.8 1020.8,2378.7 1052.8,2326.3 1085,2270.4 1117.6,2211.2 1150.4,2148.6 1183.4,2082.6 1216.7,2013.2 1250.2,1940.4 1283.9,1864.3 1317.9,1784.7 1352,1701.8 1386.3,1615.5 1420.9,1525.8 1455.6,1432.7 1490.5,1336.3 1525.5,1236.4 1560.8,1133.2 1596.2,1026.6 1631.7,916.6 1667.4,803.2 1703.3,686.4 1739.3,566.3 1775.5,442.7 1811.7,315.8 1848.2,185.5 3143.5,180.5 3143.5,2957.5 603.3,2957.5" fill="#959287"/>
<polygon points="603.3,2759.5 622.6,2757.8 645.9,2752.7 670.9,2744.3 697.2,2732.4 724.5,2717.2 752.5,2698.6 781.2,2676.6 810.5,2651.2 840.3,2622.4 870.6,2590.3 901.3,2554.7 932.4,2515.8 963.9,2473.5 995.8,2427.8 1027.9,2378.7 1060.4,2326.3 1093.2,2270.4 1126.2,2211.2 1159.5,2148.6 1193,2082.6 1226.8,2013.2 1260.8,1940.4 1295.1,1864.3 1329.5,1784.7 1364.1,1701.8 1399,1615.5 1434,1525.8 1469.2,1432.7 1504.6,1336.3 1540.2,1236.4 1575.9,1133.2 1611.8,1026.6 1647.9,916.6 1684.1,803.2 1720.5,686.4 1757,566.3 1793.6,442.7 1830.4,315.8 1867.4,185.5 3143.5,180.5 3143.5,2957.5 603.3,2957.5" fill="#949187"/>
<polygon points="603.3,2759.5 623,2757.8 646.8,2752.7 672.3,2744.3 699.1,2732.4 726.8,2717.2 755.4,2698.6 784.6,2676.6 814.4,2651.2 844.7,2622.4 875.5,2590.3 906.7,2554.7 938.4,2515.8 970.4,2473.5 1002.7,2427.8 1035.4,2378.7 1068.4,2326.3 1101.7,2270.4 1135.2,2211.2 1169,2148.6 1203.1,2082.6 1237.4,2013.2 1271.9,1940.4 1306.6,1864.3 1341.6,1784.7 1376.8,1701.8 1412.1,1615.5 1447.7,1525.8 1483.4,1432.7 1519.3,1336.3 1555.4,1236.4 1591.7,1133.2 1628.1,1026.6 1664.7,916.6 1701.4,803.2 1738.3,686.4 1775.3,566.3 1812.5,442.7 1849.8,315.8 1887.3,185.5 3143.5,180.5 3143.5,2957.5 603.3,2957.5" fill="#928f87"/>
<polygon points="603.3,2759.5 623.5,2757.8 647.7,2752.7 673.8,2744.3 701.1,2732.4 729.3,2717.2 758.4,2698.6 788.1,2676.6 818.4,2651.2 849.3,2622.4 880.6,2590.3 912.4,2554.7 944.6,2515.8 977.1,2473.5 1010,2427.8 1043.2,2378.7 1076.7,2326.3 1110.5,2270.4 1144.6,2211.2 1178.9,2148.6 1213.5,2082.6 1248.4,2013.2 1283.4,1940.4 1318.7,1864.3 1354.2,1784.7 1389.9,1701.8 1425.8,1615.5 1461.9,1525.8 1498.2,1432.7 1534.6,1336.3 1571.2,1236.4 1608,1133.2 1645,1026.6 1682.1,916.6 1719.4,803.2 1756.8,686.4 1794.4,566.3 1832.1,442.7 1869.9,315.8 1907.9,185.5 3143.5,180.5 3143.5,2957.5 603.3,2957.5" fill="#8f8e87"/>
<polygon points="603.3,2759.5 624,2757.8 648.8,2752.7 675.3,2744.3 703.2,2732.4 732,2717.2 761.6,2698.6 791.9,2676.6 822.8,2651.2 854.2,2622.4 886,2590.3 918.4,2554.7 951.1,2515.8 984.2,2473.5 1017.6,2427.8 1051.4,2378.7 1085.5,2326.3 1119.8,2270.4 1154.5,2211.2 1189.4,2148.6 1224.5,2082.6 1259.9,2013.2 1295.5,1940.4 1331.3,1864.3 1367.4,1784.7 1403.7,1701.8 1440.1,1615.5 1476.7,1525.8 1513.6,1432.7 1550.6,1336.3 1587.8,1236.4 1625.1,1133.2 1662.6,1026.6 1700.3,916.6 1738.1,803.2 1776.1,686.4 1814.2,566.3 1852.5,442.7 1890.9,315.8 1929.4,185.5 3143.5,180.5 3143.5,2957.5 603.3,2957.5" fill="#8d8c87"/>
<polygon points="603.3,2759.5 624.5,2757.8 649.9,2752.7 677,2744.3 705.4,2732.4 734.8,2717.2 765,2698.6 795.9,2676.6 827.3,2651.2 859.3,2622.4 891.8,2590.3 924.7,2554.7 958,2515.8 991.6,2473.5 1025.7,2427.8 1060,2378.7 1094.7,2326.3 1129.6,2270.4 1164.8,2211.2 1200.3,2148.6 1236,2082.6 1272,2013.2 1308.2,1940.4 1344.6,1864.3 1381.2,1784.7 1418.1,1701.8 1455.1,1615.5 1492.3,1525.8 1529.7,1432.7 1567.3,1336.3 1605,1236.4 1642.9,1133.2 1681,1026.6 1719.3,916.6 1757.7,803.2 1796.2,686.4 1834.9,566.3 1873.7,442.7 1912.7,315.8 1951.8,185.5 3143.5,180.5 3143.5,2957.5 603.3,2957.5" fill="#8c8b87"/>
<polygon points="603.3,2759.5 625.1,2757.8 651.1,2752.7 678.8,2744.3 707.9,2732.4 737.9,2717.2 768.7,2698.6 800.1,2676.6 832.2,2651.2 864.8,2622.4 897.9,2590.3 931.4,2554.7 965.3,2515.8 999.6,2473.5 1034.2,2427.8 1069.1,2378.7 1104.4,2326.3 1139.9,2270.4 1175.8,2211.2 1211.8,2148.6 1248.2,2082.6 1284.7,2013.2 1321.5,1940.4 1358.5,1864.3 1395.8,1784.7 1433.2,1701.8 1470.8,1615.5 1508.6,1525.8 1546.6,1432.7 1584.8,1336.3 1623.1,1236.4 1661.6,1133.2 1700.3,1026.6 1739.1,916.6 1778.1,803.2 1817.2,686.4 1856.5,566.3 1895.9,442.7 1935.5,315.8 1975.2,185.5 3143.5,180.5 3143.5,2957.5 603.3,2957.5" fill="#898986"/>
<polygon points="603.3,2759.5 625.8,2757.8 652.4,2752.7 680.8,2744.3 710.5,2732.4 741.2,2717.2 772.6,2698.6 804.8,2676.6 837.5,2651.2 870.7,2622.4 904.4,2590.3 938.6,2554.7 973.1,2515.8 1008.1,2473.5 1043.3,2427.8 1078.9,2378.7 1114.8,2326.3 1151,2270.4 1187.4,2211.2 1224.1,2148.6 1261,2082.6 1298.2,2013.2 1335.6,1940.4 1373.3,1864.3 1411.1,1784.7 1449.1,1701.8 1487.4,1615.5 1525.8,1525.8 1564.4,1432.7 1603.1,1336.3 1642.1,1236.4 1681.2,1133.2 1720.5,1026.6 1759.9,916.6 1799.5,803.2 1839.2,686.4 1879.1,566.3 1919.1,442.7 1959.2,315.8 1999.5,185.5 3143.5,180.5 3143.5,2957.5 603.3,2957.5" fill="#878786"/>
<polygon points="603.3,2759.5 626.5,2757.8 653.8,2752.7 683,2744.3 713.4,2732.4 744.8,2717.2 776.9,2698.6 809.7,2676.6 843.2,2651.2 877.1,2622.4 911.5,2590.3 946.3,2554.7 981.5,2515.8 1017.1,2473.5 1053,2427.8 1089.3,2378.7 1125.8,2326.3 1162.6,2270.4 1199.7,2211.2 1237.1,2148.6 1274.6,2082.6 1312.5,2013.2 1350.5,1940.4 1388.8,1864.3 1427.2,1784.7 1465.9,1701.8 1504.7,1615.5 1543.8,1525.8 1583,1432.7 1622.4,1336.3 1661.9,1236.4 1701.6,1133.2 1741.5,1026.6 1781.6,916.6 1821.7,803.2 1862.1,686.4 1902.5,566.3 1943.1,442.7 1983.9,315.8 2024.8,185.5 3143.5,180.5 3143.5,2957.5 603.3,2957.5" fill="#868685"/>
<polygon points="603.3,2759.5 627.3,2757.8 655.4,2752.7 685.3,2744.3 716.5,2732.4 748.6,2717.2 781.5,2698.6 815.1,2676.6 849.2,2651.2 883.8,2622.4 919,2590.3 954.5,2554.7 990.4,2515.8 1026.7,2473.5 1063.3,2427.8 1100.2,2378.7 1137.4,2326.3 1174.9,2270.4 1212.7,2211.2 1250.7,2148.6 1288.9,2082.6 1327.4,2013.2 1366.1,1940.4 1405,1864.3 1444.1,1784.7 1483.4,1701.8 1522.9,1615.5 1562.5,1525.8 1602.4,1432.7 1642.4,1336.3 1682.6,1236.4 1722.9,1133.2 1763.4,1026.6 1804,916.6 1844.8,803.2 1885.8,686.4 1926.8,566.3 1968.1,442.7 2009.4,315.8 2050.9,185.5 3143.5,180.5 3143.5,2957.5 603.3,2957.5" fill="#848484"/>
<polygon points="603.3,2759.5 628.1,2757.8 657.1,2752.7 687.8,2744.3 719.8,2732.4 752.7,2717.2 786.4,2698.6 820.7,2676.6 855.6,2651.2 891,2622.4 926.8,2590.3 963.1,2554.7 999.7,2515.8 1036.7,2473.5 1074,2427.8 1111.6,2378.7 1149.5,2326.3 1187.7,2270.4 1226.2,2211.2 1264.9,2148.6 1303.8,2082.6 1342.9,2013.2 1382.3,1940.4 1421.8,1864.3 1461.6,1784.7 1501.6,1701.8 1541.7,1615.5 1582,1525.8 1622.5,1432.7 1663.2,1336.3 1704,1236.4 1744.9,1133.2 1786.1,1026.6 1827.3,916.6 1868.7,803.2 1910.3,686.4 1952,566.3 1993.8,442.7 2035.8,315.8 2077.8,185.5 3143.5,180.5 3143.5,2957.5 603.3,2957.5" fill="#828283"/>
<polygon points="603.3,2759.5 629,2757.8 658.9,2752.7 690.5,2744.3 723.3,2732.4 757,2717.2 791.4,2698.6 826.5,2676.6 862.2,2651.2 898.4,2622.4 935,2590.3 972,2554.7 1009.4,2515.8 1047.1,2473.5 1085.1,2427.8 1123.5,2378.7 1162.1,2326.3 1201,2270.4 1240.2,2211.2 1279.5,2148.6 1319.2,2082.6 1359,2013.2 1399,1940.4 1439.3,1864.3 1479.7,1784.7 1520.3,1701.8 1561.1,1615.5 1602.1,1525.8 1643.3,1432.7 1684.6,1336.3 1726,1236.4 1767.6,1133.2 1809.4,1026.6 1851.3,916.6 1893.4,803.2 1935.5,686.4 1977.9,566.3 2020.3,442.7 2062.9,315.8 2105.6,185.5 3143.5,180.5 3143.5,2957.5 603.3,2957.5" fill="#818183"/>
<polygon points="603.3,2759.5 630,2757.8 660.7,2752.7 693.2,2744.3 726.8,2732.4 761.4,2717.2 796.7,2698.6 832.6,2676.6 869,2651.2 906,2622.4 943.4,2590.3 981.2,2554.7 1019.3,2515.8 1057.8,2473.5 1096.6,2427.8 1135.7,2378.7 1175,2326.3 1214.6,2270.4 1254.5,2211.2 1294.6,2148.6 1335,2082.6 1375.5,2013.2 1416.2,1940.4 1457.2,1864.3 1498.3,1784.7 1539.6,1701.8 1581.1,1615.5 1622.7,1525.8 1664.6,1432.7 1706.5,1336.3 1748.7,1236.4 1790.9,1133.2 1833.4,1026.6 1875.9,916.6 1918.6,803.2 1961.4,686.4 2004.4,566.3 2047.5,442.7 2090.7,315.8 2134,185.5 3143.5,180.5 3143.5,2957.5 603.3,2957.5" fill="#7e8082"/>
<polygon points="603.3,2759.5 630.9,2757.8 662.6,2752.7 695.9,2744.3 730.4,2732.4 765.8,2717.2 801.9,2698.6 838.7,2676.6 876,2651.2 913.7,2622.4 951.9,2590.3 990.5,2554.7 1029.4,2515.8 1068.6,2473.5 1108.2,2427.8 1148,2378.7 1188.2,2326.3 1228.5,2270.4 1269.1,2211.2 1310,2148.6 1351,2082.6 1392.3,2013.2 1433.7,1940.4 1475.4,1864.3 1517.2,1784.7 1559.2,1701.8 1601.4,1615.5 1643.8,1525.8 1686.3,1432.7 1728.9,1336.3 1771.7,1236.4 1814.7,1133.2 1857.8,1026.6 1901,916.6 1944.3,803.2 1987.8,686.4 2031.4,566.3 2075.2,442.7 2119,315.8 2163,185.5 3143.5,180.5 3143.5,2957.5 603.3,2957.5" fill="#7c7e82"/>
<polygon points="603.3,2759.5 631.9,2757.8 664.4,2752.7 698.7,2744.3 734,2732.4 770.3,2717.2 807.3,2698.6 844.8,2676.6 882.9,2651.2 921.5,2622.4 960.5,2590.3 999.8,2554.7 1039.5,2515.8 1079.6,2473.5 1119.9,2427.8 1160.5,2378.7 1201.4,2326.3 1242.5,2270.4 1283.8,2211.2 1325.4,2148.6 1367.2,2082.6 1409.2,2013.2 1451.4,1940.4 1493.7,1864.3 1536.3,1784.7 1579,1701.8 1621.9,1615.5 1664.9,1525.8 1708.1,1432.7 1751.5,1336.3 1795,1236.4 1838.6,1133.2 1882.4,1026.6 1926.3,916.6 1970.3,803.2 2014.5,686.4 2058.7,566.3 2103.1,442.7 2147.6,315.8 2192.3,185.5 3143.5,180.5 3143.5,2957.5 603.3,2957.5" fill="#7a7c81"/>
<polygon points="603.3,2759.5 632.9,2757.8 666.4,2752.7 701.5,2744.3 737.8,2732.4 774.9,2717.2 812.7,2698.6 851.1,2676.6 890,2651.2 929.4,2622.4 969.2,2590.3 1009.3,2554.7 1049.8,2515.8 1090.6,2473.5 1131.7,2427.8 1173.1,2378.7 1214.7,2326.3 1256.5,2270.4 1298.6,2211.2 1340.9,2148.6 1383.5,2082.6 1426.2,2013.2 1469.1,1940.4 1512.1,1864.3 1555.4,1784.7 1598.8,1701.8 1642.4,1615.5 1686.1,1525.8 1730,1432.7 1774,1336.3 1818.2,1236.4 1862.5,1133.2 1907,1026.6 1951.5,916.6 1996.2,803.2 2041,686.4 2086,566.3 2131,442.7 2176.2,315.8 2221.5,185.5 3143.5,180.5 3143.5,2957.5 603.3,2957.5" fill="#797b80"/>
<polygon points="603.3,2759.5 633.9,2757.8 668.3,2752.7 704.4,2744.3 741.6,2732.4 779.6,2717.2 818.3,2698.6 857.5,2676.6 897.3,2651.2 937.5,2622.4 978.1,2590.3 1019,2554.7 1060.3,2515.8 1101.9,2473.5 1143.8,2427.8 1185.9,2378.7 1228.3,2326.3 1270.9,2270.4 1313.8,2211.2 1356.8,2148.6 1400.1,2082.6 1443.5,2013.2 1487.1,1940.4 1530.9,1864.3 1574.9,1784.7 1619,1701.8 1663.3,1615.5 1707.8,1525.8 1752.3,1432.7 1797.1,1336.3 1841.9,1236.4 1886.9,1133.2 1932,1026.6 1977.3,916.6 2022.6,803.2 2068.1,686.4 2113.7,566.3 2159.4,442.7 2205.2,315.8 2251.2,185.5 3143.5,180.5 3143.5,2957.5 603.3,2957.5" fill="#777980"/>
<polygon points="603.3,2759.5 635,2757.8 670.4,2752.7 707.4,2744.3 745.6,2732.4 784.5,2717.2 824.1,2698.6 864.2,2676.6 904.8,2651.2 945.9,2622.4 987.3,2590.3 1029.1,2554.7 1071.2,2515.8 1113.7,2473.5 1156.3,2427.8 1199.3,2378.7 1242.5,2326.3 1285.9,2270.4 1329.5,2211.2 1373.3,2148.6 1417.3,2082.6 1461.6,2013.2 1505.9,1940.4 1550.5,1864.3 1595.2,1784.7 1640.1,1701.8 1685.1,1615.5 1730.3,1525.8 1775.6,1432.7 1821,1336.3 1866.6,1236.4 1912.3,1133.2 1958.1,1026.6 2004.1,916.6 2050.2,803.2 2096.3,686.4 2142.6,566.3 2189,442.7 2235.5,315.8 2282.1,185.5 3143.5,180.5 3143.5,2957.5 603.3,2957.5" fill="#75787f"/>
<polygon points="603.3,2759.5 636.1,2757.8 672.5,2752.7 710.6,2744.3 749.7,2732.4 789.6,2717.2 830.1,2698.6 871.2,2676.6 912.7,2651.2 954.7,2622.4 997,2590.3 1039.7,2554.7 1082.7,2515.8 1126,2473.5 1169.6,2427.8 1213.4,2378.7 1257.4,2326.3 1301.7,2270.4 1346.1,2211.2 1390.8,2148.6 1435.6,2082.6 1480.7,2013.2 1525.9,1940.4 1571.2,1864.3 1616.8,1784.7 1662.4,1701.8 1708.3,1615.5 1754.2,1525.8 1800.3,1432.7 1846.6,1336.3 1892.9,1236.4 1939.4,1133.2 1986,1026.6 2032.7,916.6 2079.6,803.2 2126.5,686.4 2173.6,566.3 2220.7,442.7 2268,315.8 2315.3,185.5 3143.5,180.5 3143.5,2957.5 603.3,2957.5" fill="#73767f"/>
<polygon points="603.3,2759.5 637.2,2757.8 674.8,2752.7 713.9,2744.3 754,2732.4 794.9,2717.2 836.5,2698.6 878.5,2676.6 921.1,2651.2 964,2622.4 1007.4,2590.3 1051,2554.7 1095,2515.8 1139.2,2473.5 1183.7,2427.8 1228.5,2378.7 1273.5,2326.3 1318.6,2270.4 1364,2211.2 1409.6,2148.6 1455.4,2082.6 1501.4,2013.2 1547.5,1940.4 1593.7,1864.3 1640.2,1784.7 1686.8,1701.8 1733.5,1615.5 1780.3,1525.8 1827.3,1432.7 1874.4,1336.3 1921.7,1236.4 1969.1,1133.2 2016.5,1026.6 2064.1,916.6 2111.8,803.2 2159.7,686.4 2207.6,566.3 2255.6,442.7 2303.7,315.8 2351.9,185.5 3143.5,180.5 3143.5,2957.5 603.3,2957.5" fill="#71757f"/>
<polygon points="603.3,2759.5 638.4,2757.8 677.1,2752.7 717.3,2744.3 758.5,2732.4 800.5,2717.2 843.2,2698.6 886.3,2676.6 929.9,2651.2 973.9,2622.4 1018.3,2590.3 1063,2554.7 1108,2515.8 1153.3,2473.5 1198.8,2427.8 1244.6,2378.7 1290.6,2326.3 1336.8,2270.4 1383.2,2211.2 1429.8,2148.6 1476.6,2082.6 1523.5,2013.2 1570.6,1940.4 1617.9,1864.3 1665.3,1784.7 1712.9,1701.8 1760.6,1615.5 1808.4,1525.8 1856.4,1432.7 1904.5,1336.3 1952.7,1236.4 2001,1133.2 2049.5,1026.6 2098,916.6 2146.7,803.2 2195.5,686.4 2244.3,566.3 2293.3,442.7 2342.4,315.8 2391.5,185.5 3143.5,180.5 3143.5,2957.5 603.3,2957.5" fill="#6f737e"/>
<polygon points="603.3,2759.5 639.6,2757.8 679.5,2752.7 720.9,2744.3 763.3,2732.4 806.4,2717.2 850.2,2698.6 894.5,2676.6 939.2,2651.2 984.3,2622.4 1029.8,2590.3 1075.6,2554.7 1121.7,2515.8 1168,2473.5 1214.6,2427.8 1261.5,2378.7 1308.5,2326.3 1355.8,2270.4 1403.3,2211.2 1450.9,2148.6 1498.7,2082.6 1546.7,2013.2 1594.9,1940.4 1643.2,1864.3 1691.6,1784.7 1740.2,1701.8 1789,1615.5 1837.8,1525.8 1886.8,1432.7 1935.9,1336.3 1985.2,1236.4 2034.5,1133.2 2084,1026.6 2133.5,916.6 2183.2,803.2 2233,686.4 2282.9,566.3 2332.8,442.7 2382.9,315.8 2433.1,185.5 3143.5,180.5 3143.5,2957.5 603.3,2957.5" fill="#6d717e"/>
<polygon points="603.3,2759.5 640.9,2757.8 682.1,2752.7 724.7,2744.3 768.3,2732.4 812.6,2717.2 857.6,2698.6 903,2676.6 948.9,2651.2 995.2,2622.4 1041.8,2590.3 1088.8,2554.7 1136,2515.8 1183.5,2473.5 1231.2,2427.8 1279.2,2378.7 1327.4,2326.3 1375.8,2270.4 1424.4,2211.2 1473.1,2148.6 1522,2082.6 1571.1,2013.2 1620.4,1940.4 1669.8,1864.3 1719.3,1784.7 1769,1701.8 1818.8,1615.5 1868.8,1525.8 1918.8,1432.7 1969,1336.3 2019.3,1236.4 2069.7,1133.2 2120.3,1026.6 2170.9,916.6 2221.6,803.2 2272.5,686.4 2323.4,566.3 2374.4,442.7 2425.5,315.8 2476.7,185.5 3143.5,180.5 3143.5,2957.5 603.3,2957.5" fill="#6b707e"/>
<polygon points="603.3,2759.5 642.3,2757.8 684.7,2752.7 728.7,2744.3 773.5,2732.4 819.2,2717.2 865.4,2698.6 912.1,2676.6 959.2,2651.2 1006.7,2622.4 1054.5,2590.3 1102.7,2554.7 1151.1,2515.8 1199.8,2473.5 1248.7,2427.8 1297.9,2378.7 1347.3,2326.3 1396.8,2270.4 1446.6,2211.2 1496.5,2148.6 1546.6,2082.6 1596.8,2013.2 1647.2,1940.4 1697.8,1864.3 1748.5,1784.7 1799.3,1701.8 1850.3,1615.5 1901.3,1525.8 1952.5,1432.7 2003.9,1336.3 2055.3,1236.4 2106.8,1133.2 2158.5,1026.6 2210.2,916.6 2262.1,803.2 2314,686.4 2366.1,566.3 2418.2,442.7 2470.5,315.8 2522.8,185.5 3143.5,180.5 3143.5,2957.5 603.3,2957.5" fill="#696f7d"/>
<polygon points="603.3,2759.5 643.7,2757.8 687.6,2752.7 732.9,2744.3 779.1,2732.4 826,2717.2 873.6,2698.6 921.6,2676.6 970,2651.2 1018.8,2622.4 1067.9,2590.3 1117.3,2554.7 1167,2515.8 1217,2473.5 1267.2,2427.8 1317.6,2378.7 1368.2,2326.3 1419,2270.4 1470,2211.2 1521.2,2148.6 1572.5,2082.6 1624,2013.2 1675.6,1940.4 1727.4,1864.3 1779.3,1784.7 1831.3,1701.8 1883.5,1615.5 1935.8,1525.8 1988.2,1432.7 2040.7,1336.3 2093.3,1236.4 2146.1,1133.2 2198.9,1026.6 2251.8,916.6 2304.9,803.2 2358,686.4 2411.2,566.3 2464.5,442.7 2517.9,315.8 2571.4,185.5 3143.5,180.5 3143.5,2957.5 603.3,2957.5" fill="#676d7d"/>
<polygon points="603.3,2759.5 645.2,2757.8 690.6,2752.7 737.3,2744.3 784.9,2732.4 833.3,2717.2 882.2,2698.6 931.6,2676.6 981.4,2651.2 1031.6,2622.4 1082.1,2590.3 1132.8,2554.7 1183.9,2515.8 1235.2,2473.5 1286.7,2427.8 1338.4,2378.7 1390.4,2326.3 1442.5,2270.4 1494.8,2211.2 1547.3,2148.6 1599.9,2082.6 1652.7,2013.2 1705.6,1940.4 1758.7,1864.3 1811.9,1784.7 1865.2,1701.8 1918.7,1615.5 1972.2,1525.8 2025.9,1432.7 2079.7,1336.3 2133.6,1236.4 2187.6,1133.2 2241.7,1026.6 2295.9,916.6 2350.2,803.2 2404.6,686.4 2459.1,566.3 2513.7,442.7 2568.3,315.8 2623.1,185.5 3143.5,180.5 3143.5,2957.5 603.3,2957.5" fill="#666c7d"/>
<polygon points="603.3,2759.5 646.8,2757.8 693.7,2752.7 742,2744.3 791.1,2732.4 841,2717.2 891.4,2698.6 942.2,2676.6 993.5,2651.2 1045.1,2622.4 1097.1,2590.3 1149.3,2554.7 1201.8,2515.8 1254.5,2473.5 1307.4,2427.8 1360.6,2378.7 1413.9,2326.3 1467.5,2270.4 1521.2,2211.2 1575,2148.6 1629,2082.6 1683.2,2013.2 1737.5,1940.4 1792,1864.3 1846.5,1784.7 1901.2,1701.8 1956.1,1615.5 2011,1525.8 2066,1432.7 2121.2,1336.3 2176.5,1236.4 2231.8,1133.2 2287.3,1026.6 2342.8,916.6 2398.5,803.2 2454.2,686.4 2510,566.3 2565.9,442.7 2621.9,315.8 2678,185.5 3143.5,180.5 3143.5,2957.5 603.3,2957.5" fill="#636a7d"/>
<polygon points="603.3,2759.5 648.5,2757.8 697.1,2752.7 746.9,2744.3 797.7,2732.4 849.1,2717.2 901.1,2698.6 953.6,2676.6 1006.4,2651.2 1059.5,2622.4 1113,2590.3 1166.8,2554.7 1220.8,2515.8 1275,2473.5 1329.5,2427.8 1384.1,2378.7 1439,2326.3 1494,2270.4 1549.2,2211.2 1604.6,2148.6 1660.1,2082.6 1715.7,2013.2 1771.5,1940.4 1827.4,1864.3 1883.5,1784.7 1939.7,1701.8 1995.9,1615.5 2052.3,1525.8 2108.8,1432.7 2165.5,1336.3 2222.2,1236.4 2279,1133.2 2335.9,1026.6 2392.9,916.6 2450,803.2 2507.2,686.4 2564.4,566.3 2621.8,442.7 2679.2,315.8 2736.7,185.5 3143.5,180.5 3143.5,2957.5 603.3,2957.5" fill="#61697d"/>
<polygon points="603.3,2759.5 650.3,2757.8 700.6,2752.7 752.2,2744.3 804.7,2732.4 857.8,2717.2 911.5,2698.6 965.6,2676.6 1020.1,2651.2 1074.9,2622.4 1130,2590.3 1185.4,2554.7 1241.1,2515.8 1296.9,2473.5 1353,2427.8 1409.3,2378.7 1465.8,2326.3 1522.4,2270.4 1579.2,2211.2 1636.2,2148.6 1693.3,2082.6 1750.5,2013.2 1807.9,1940.4 1865.4,1864.3 1923,1784.7 1980.8,1701.8 2038.6,1615.5 2096.6,1525.8 2154.7,1432.7 2212.9,1336.3 2271.1,1236.4 2329.5,1133.2 2388,1026.6 2446.5,916.6 2505.2,803.2 2563.9,686.4 2622.7,566.3 2681.6,442.7 2740.6,315.8 2799.6,185.5 3143.5,180.5 3143.5,2957.5 603.3,2957.5" fill="#5f677d"/>
<polygon points="603.3,2759.5 652.3,2757.8 704.4,2752.7 757.9,2744.3 812.2,2732.4 867.1,2717.2 922.6,2698.6 978.5,2676.6 1034.7,2651.2 1091.3,2622.4 1148.2,2590.3 1205.4,2554.7 1262.8,2515.8 1320.4,2473.5 1378.2,2427.8 1436.3,2378.7 1494.5,2326.3 1552.8,2270.4 1611.4,2211.2 1670,2148.6 1728.9,2082.6 1787.8,2013.2 1846.9,1940.4 1906.2,1864.3 1965.5,1784.7 2025,1701.8 2084.5,1615.5 2144.2,1525.8 2204,1432.7 2263.8,1336.3 2323.8,1236.4 2383.9,1133.2 2444,1026.6 2504.3,916.6 2564.6,803.2 2625,686.4 2685.5,566.3 2746.1,442.7 2806.7,315.8 2867.4,185.5 3143.5,180.5 3143.5,2957.5 603.3,2957.5" fill="#5d667d"/>
<polygon points="603.3,2759.5 654.3,2757.8 708.5,2752.7 763.9,2744.3 820.2,2732.4 877,2717.2 934.4,2698.6 992.3,2676.6 1050.5,2651.2 1109,2622.4 1167.8,2590.3 1226.8,2554.7 1286.1,2515.8 1345.7,2473.5 1405.4,2427.8 1465.3,2378.7 1525.4,2326.3 1585.6,2270.4 1646,2211.2 1706.6,2148.6 1767.3,2082.6 1828.1,2013.2 1889,1940.4 1950.1,1864.3 2011.3,1784.7 2072.6,1701.8 2134,1615.5 2195.6,1525.8 2257.2,1432.7 2318.9,1336.3 2380.7,1236.4 2442.6,1133.2 2504.6,1026.6 2566.7,916.6 2628.8,803.2 2691.1,686.4 2753.4,566.3 2815.8,442.7 2878.3,315.8 2940.8,185.5 3143.5,180.5 3143.5,2957.5 603.3,2957.5" fill="#5b647d"/>
<polygon points="603.3,2759.5 656.5,2757.8 712.8,2752.7 770.4,2744.3 828.7,2732.4 887.7,2717.2 947.2,2698.6 1007.1,2676.6 1067.4,2651.2 1128,2622.4 1188.9,2590.3 1250,2554.7 1311.3,2515.8 1372.9,2473.5 1434.7,2427.8 1496.6,2378.7 1558.8,2326.3 1621.1,2270.4 1683.5,2211.2 1746.1,2148.6 1808.8,2082.6 1871.7,2013.2 1934.7,1940.4 1997.8,1864.3 2061,1784.7 2124.3,1701.8 2187.7,1615.5 2251.3,1525.8 2314.9,1432.7 2378.7,1336.3 2442.5,1236.4 2506.4,1133.2 2570.4,1026.6 2634.5,916.6 2698.6,803.2 2762.9,686.4 2827.2,566.3 2891.6,442.7 2956,315.8 3020.6,185.5 3143.5,180.5 3143.5,2957.5 603.3,2957.5" fill="#58627d"/>
<polygon points="603.3,2759.5 658.8,2757.8 717.4,2752.7 777.3,2744.3 838,2732.4 899.2,2717.2 961,2698.6 1023.2,2676.6 1085.7,2651.2 1148.6,2622.4 1211.7,2590.3 1275.1,2554.7 1338.7,2515.8 1402.5,2473.5 1466.5,2427.8 1530.7,2378.7 1595.1,2326.3 1659.6,2270.4 1724.3,2211.2 1789.1,2148.6 1854,2082.6 1919.1,2013.2 1984.3,1940.4 2049.6,1864.3 2115.1,1784.7 2180.6,1701.8 2246.3,1615.5 2312,1525.8 2377.9,1432.7 2443.8,1336.3 2509.9,1236.4 2576,1133.2 2642.2,1026.6 2708.5,916.6 2774.8,803.2 2841.3,686.4 2907.8,566.3 2974.4,442.7 3041,315.8 3107.8,185.5 3143.5,180.5 3143.5,2957.5 603.3,2957.5" fill="#56617d"/>
<polygon points="603.3,2759.5 659.9,2757.9 719.5,2753.1 780.3,2745 841.9,2733.7 904,2719.2 966.7,2701.5 1029.7,2680.5 1093.1,2656.3 1156.8,2628.9 1220.7,2598.3 1284.9,2564.4 1349.3,2527.3 1414,2487 1478.8,2443.5 1543.8,2396.8 1608.9,2346.8 1674.2,2293.6 1739.7,2237.2 1805.2,2177.5 1871,2114.6 1936.8,2048.5 2002.8,1979.2 2068.8,1906.7 2135,1830.9 2201.3,1751.9 2267.7,1669.7 2334.2,1584.2 2400.8,1495.6 2467.4,1403.7 2534.2,1308.6 2601,1210.2 2668,1108.6 2735,1003.9 2802,895.8 2869.2,784.6 2936.4,670.1 3003.7,552.5 3071.1,431.5 3143.5,307.4 3143.5,2957.5 603.3,2957.5" fill="#54607d"/>
<polygon points="603.3,2759.5 660.3,2758 720.1,2753.5 781.1,2746 842.9,2735.6 905.2,2722.1 968,2705.7 1031.1,2686.2 1094.6,2663.8 1158.3,2638.4 1222.3,2609.9 1286.6,2578.5 1351,2544.1 1415.7,2506.8 1480.5,2466.4 1545.5,2423 1610.6,2376.6 1675.9,2327.3 1741.3,2274.9 1806.9,2219.6 1872.6,2161.3 1938.4,2100 2004.3,2035.7 2070.3,1968.4 2136.4,1898.1 2202.7,1824.8 2269,1748.5 2335.4,1669.3 2401.9,1587 2468.5,1501.8 2535.2,1413.5 2601.9,1322.3 2668.7,1228.1 2735.6,1130.9 2802.6,1030.7 2869.7,927.5 2936.8,821.3 3003.9,712.1 3071.2,599.9 3143.5,484.8 3143.5,2957.5 603.3,2957.5" fill="#515e7d"/>
<polygon points="603.3,2759.5 660.7,2758.1 720.8,2754 782,2747.1 844,2737.4 906.4,2724.9 969.3,2709.7 1032.5,2691.7 1096.1,2671 1159.9,2647.5 1224,2621.2 1288.3,2592.2 1352.7,2560.4 1417.4,2525.8 1482.2,2488.5 1547.2,2448.4 1612.4,2405.5 1677.6,2359.9 1743.1,2311.5 1808.6,2260.3 1874.2,2206.4 1940,2149.7 2005.9,2090.2 2071.8,2028 2137.9,1963 2204.1,1895.2 2270.3,1824.7 2336.6,1751.4 2403.1,1675.4 2469.6,1596.6 2536.1,1515 2602.8,1430.6 2669.5,1343.5 2736.3,1253.6 2803.2,1161 2870.1,1065.6 2937.1,967.4 3004.2,866.4 3071.3,762.7 3143.5,656.2 3143.5,2957.5 603.3,2957.5" fill="#4f5d7d"/>
<polygon points="603.3,2759.5 661.1,2758.2 721.5,2754.4 783,2748 845.1,2739.1 907.7,2727.6 970.7,2713.6 1034,2697.1 1097.7,2678 1161.5,2656.3 1225.7,2632.1 1290,2605.3 1354.5,2576 1419.2,2544.2 1484,2509.8 1549,2472.8 1614.2,2433.3 1679.4,2391.3 1744.8,2346.7 1810.3,2299.6 1875.9,2249.9 1941.7,2197.7 2007.5,2142.9 2073.4,2085.5 2139.4,2025.7 2205.5,1963.2 2271.7,1898.3 2337.9,1830.7 2404.3,1760.7 2470.7,1688 2537.2,1612.9 2603.7,1535.2 2670.3,1454.9 2737,1372.1 2803.8,1286.7 2870.6,1198.8 2937.5,1108.4 3004.4,1015.3 3071.4,919.8 3143.5,821.7 3143.5,2957.5 603.3,2957.5" fill="#4c5b7d"/>
<polygon points="603.3,2759.5 661.6,2758.3 722.3,2754.8 783.9,2749 846.2,2740.8 908.9,2730.3 972.1,2717.4 1035.5,2702.2 1099.3,2684.7 1163.2,2664.8 1227.4,2642.6 1291.8,2618 1356.3,2591.1 1421,2561.9 1485.9,2530.3 1550.9,2496.4 1616,2460.2 1681.3,2421.6 1746.6,2380.7 1812.1,2337.4 1877.7,2291.8 1943.4,2243.9 2009.1,2193.6 2075,2141 2140.9,2086 2206.9,2028.7 2273,1969.1 2339.2,1907.1 2405.5,1842.8 2471.8,1776.1 2538.2,1707.2 2604.7,1635.8 2671.2,1562.2 2737.8,1486.2 2804.4,1407.8 2871.1,1327.1 2937.9,1244.1 3004.7,1158.8 3071.6,1071.1 3143.5,981 3143.5,2957.5 603.3,2957.5" fill="#495a7e"/>
<polygon points="603.3,2759.5 662,2758.4 723,2755.2 784.9,2749.9 847.4,2742.4 910.3,2732.8 973.5,2721 1037.1,2707.1 1100.9,2691.1 1165,2672.9 1229.2,2652.6 1293.6,2630.2 1358.2,2605.6 1422.9,2578.9 1487.8,2550.1 1552.8,2519.1 1617.9,2485.9 1683.1,2450.7 1748.5,2413.3 1813.9,2373.7 1879.5,2332.1 1945.1,2288.3 2010.8,2242.3 2076.6,2194.2 2142.5,2144 2208.4,2091.6 2274.5,2037.1 2340.6,1980.5 2406.7,1921.7 2473,1860.8 2539.3,1797.8 2605.6,1732.6 2672,1665.3 2738.5,1595.8 2805.1,1524.2 2871.6,1450.5 2938.3,1374.6 3005,1296.6 3071.7,1216.5 3143.5,1134.2 3143.5,2957.5 603.3,2957.5" fill="#47587e"/>
<polygon points="603.3,2759.5 662.5,2758.5 723.8,2755.6 785.9,2750.8 848.6,2743.9 911.6,2735.2 975,2724.5 1038.7,2711.9 1102.6,2697.3 1166.7,2680.8 1231,2662.3 1295.5,2641.9 1360.1,2619.5 1424.9,2595.2 1489.7,2569 1554.7,2540.8 1619.9,2510.7 1685.1,2478.6 1750.4,2444.6 1815.8,2408.6 1881.3,2370.7 1946.9,2330.8 2012.5,2289 2078.3,2245.3 2144.1,2199.6 2210,2152 2275.9,2102.4 2341.9,2050.9 2408,1997.4 2474.2,1942 2540.4,1884.7 2606.6,1825.4 2672.9,1764.1 2739.3,1701 2805.7,1635.8 2872.2,1568.8 2938.7,1499.8 3005.2,1428.8 3071.8,1355.9 3143.5,1281 3143.5,2957.5 603.3,2957.5" fill="#44577e"/>
<polygon points="603.3,2759.5 662.9,2758.6 724.5,2756 786.9,2751.6 849.8,2745.4 913,2737.5 976.6,2727.8 1040.3,2716.4 1104.3,2703.2 1168.5,2688.2 1232.9,2671.5 1297.4,2653.1 1362.1,2632.8 1426.8,2610.8 1491.7,2587.1 1556.7,2561.6 1621.8,2534.3 1687,2505.3 1752.3,2474.5 1817.7,2441.9 1883.2,2407.6 1948.7,2371.6 2014.3,2333.7 2080,2294.2 2145.7,2252.8 2211.5,2209.7 2277.4,2164.8 2343.3,2118.2 2409.3,2069.8 2475.4,2019.7 2541.5,1967.8 2607.6,1914.1 2673.8,1858.7 2740.1,1801.5 2806.4,1742.6 2872.7,1681.9 2939.1,1619.4 3005.5,1555.2 3072,1489.2 3143.5,1421.5 3143.5,2957.5 603.3,2957.5" fill="#40557f"/>
<polygon points="603.3,2759.5 663.4,2758.7 725.4,2756.3 788,2752.4 851,2746.8 914.4,2739.7 978.1,2731 1042,2720.7 1106.1,2708.8 1170.4,2695.4 1234.8,2680.3 1299.4,2663.7 1364.1,2645.5 1428.9,2625.7 1493.8,2604.3 1558.8,2581.4 1623.9,2556.9 1689.1,2530.7 1754.3,2503 1819.7,2473.7 1885.1,2442.9 1950.6,2410.4 2016.1,2376.4 2081.7,2340.7 2147.4,2303.5 2213.1,2264.8 2278.9,2224.4 2344.8,2182.4 2410.7,2138.9 2476.6,2093.8 2542.6,2047.1 2608.7,1998.8 2674.7,1948.9 2740.9,1897.5 2807,1844.4 2873.3,1789.8 2939.5,1733.6 3005.8,1675.8 3072.1,1616.4 3143.5,1555.5 3143.5,2957.5 603.3,2957.5" fill="#3b537f"/>
<polygon points="603.3,2759.5 663.9,2758.8 726.2,2756.7 789.1,2753.1 852.3,2748.2 915.9,2741.8 979.7,2734 1043.8,2724.8 1108,2714.2 1172.3,2702.2 1236.8,2688.7 1301.4,2673.8 1366.1,2657.6 1430.9,2639.9 1495.9,2620.8 1560.9,2600.2 1626,2578.3 1691.1,2554.9 1756.4,2530.2 1821.7,2504 1887,2476.4 1952.5,2447.3 2018,2416.9 2083.5,2385 2149.1,2351.8 2214.8,2317.1 2280.5,2281 2346.2,2243.5 2412,2204.5 2477.9,2164.2 2543.8,2122.4 2609.7,2079.2 2675.7,2034.7 2741.7,1988.6 2807.7,1941.2 2873.8,1892.4 2939.9,1842.1 3006.1,1790.4 3072.3,1737.4 3143.5,1682.8 3143.5,2957.5 603.3,2957.5" fill="#385280"/>
<polygon points="603.3,2759.5 664.5,2758.9 727,2757 790.2,2753.8 853.6,2749.4 917.4,2743.8 981.4,2736.9 1045.5,2728.7 1109.8,2719.3 1174.2,2708.6 1238.8,2696.6 1303.4,2683.4 1368.2,2669 1433.1,2653.3 1498,2636.3 1563,2618.1 1628.1,2598.6 1693.2,2577.9 1758.4,2555.9 1823.7,2532.6 1889,2508.1 1954.4,2482.3 2019.8,2455.3 2085.3,2427 2150.9,2397.5 2216.4,2366.7 2282.1,2334.6 2347.7,2301.3 2413.4,2266.7 2479.2,2230.9 2545,2193.8 2610.8,2155.5 2676.6,2115.9 2742.5,2075 2808.4,2032.9 2874.4,1989.5 2940.4,1944.9 3006.4,1899 3072.4,1851.9 3143.5,1803.5 3143.5,2957.5 603.3,2957.5" fill="#325180"/>
<polygon points="603.3,2759.5 665,2758.9 727.9,2757.3 791.3,2754.5 855,2750.6 918.9,2745.7 983,2739.6 1047.3,2732.4 1111.7,2724.1 1176.2,2714.7 1240.8,2704.1 1305.5,2692.5 1370.3,2679.8 1435.2,2665.9 1500.1,2651 1565.1,2634.9 1630.2,2617.8 1695.3,2599.5 1760.5,2580.1 1825.8,2559.6 1891,2538 1956.4,2515.3 2021.7,2491.5 2087.2,2466.6 2152.6,2440.6 2218.1,2413.4 2283.7,2385.2 2349.2,2355.9 2414.8,2325.4 2480.5,2293.8 2546.1,2261.2 2611.9,2227.4 2677.6,2192.5 2743.3,2156.5 2809.1,2119.4 2875,2081.2 2940.8,2041.9 3006.7,2001.5 3072.6,1960 3143.5,1917.3 3143.5,2957.5 603.3,2957.5" fill="#2a4f80"/>
<polygon points="603.3,2759.5 665.5,2759 728.8,2757.6 792.4,2755.1 856.3,2751.8 920.4,2747.4 984.7,2742.1 1049.1,2735.8 1113.6,2728.6 1178.2,2720.3 1242.9,2711.2 1307.6,2701 1372.5,2689.9 1437.3,2677.8 1502.3,2664.7 1567.3,2650.7 1632.4,2635.7 1697.5,2619.8 1762.6,2602.9 1827.8,2585 1893.1,2566.1 1958.4,2546.3 2023.7,2525.5 2089,2503.8 2154.4,2481 2219.8,2457.4 2285.3,2432.7 2350.7,2407.1 2416.3,2380.5 2481.8,2352.9 2547.4,2324.4 2612.9,2294.9 2678.6,2264.5 2744.2,2233 2809.9,2200.7 2875.5,2167.3 2941.2,2133 3007,2097.7 3072.7,2061.4 3143.5,2024.2 3143.5,2957.5 603.3,2957.5" fill="#264e80"/>
<polygon points="603.3,2759.5 666.1,2759.1 729.7,2757.8 793.6,2755.7 857.7,2752.8 922,2749.1 986.4,2744.5 1050.9,2739 1115.5,2732.8 1180.2,2725.7 1244.9,2717.7 1309.7,2708.9 1374.6,2699.3 1439.5,2688.9 1504.5,2677.6 1569.5,2665.5 1634.5,2652.5 1699.6,2638.8 1764.8,2624.1 1829.9,2608.7 1895.1,2592.4 1960.3,2575.3 2025.6,2557.3 2090.9,2538.5 2156.2,2518.9 2221.5,2498.4 2286.9,2477.1 2352.3,2454.9 2417.7,2431.9 2483.1,2408.1 2548.6,2383.5 2614,2358 2679.5,2331.7 2745,2304.5 2810.6,2276.5 2876.1,2247.7 2941.7,2218 3007.3,2187.5 3072.9,2156.2 3143.5,2124 3143.5,2957.5 603.3,2957.5" fill="#264d7f"/>
<polygon points="603.3,2759.5 666.6,2759.1 730.5,2758.1 794.7,2756.3 859.1,2753.8 923.5,2750.6 988.1,2746.7 1052.7,2742 1117.4,2736.7 1182.2,2730.6 1247,2723.8 1311.8,2716.3 1376.7,2708.1 1441.7,2699.2 1506.6,2689.6 1571.6,2679.2 1636.7,2668.1 1701.8,2656.4 1766.8,2643.9 1832,2630.7 1897.1,2616.8 1962.3,2602.1 2027.5,2586.8 2092.7,2570.7 2157.9,2553.9 2223.2,2536.5 2288.5,2518.3 2353.8,2499.3 2419.1,2479.7 2484.4,2459.4 2549.7,2438.3 2615.1,2416.5 2680.5,2394.1 2745.9,2370.9 2811.3,2347 2876.7,2322.3 2942.1,2297 3007.6,2270.9 3073,2244.2 3143.5,2216.7 3143.5,2957.5 603.3,2957.5" fill="#264b7b"/>
<polygon points="603.3,2759.5 667.1,2759.2 731.4,2758.3 795.8,2756.8 860.4,2754.7 925,2752 989.7,2748.7 1054.5,2744.8 1119.3,2740.3 1184.1,2735.1 1249,2729.4 1313.9,2723.1 1378.8,2716.2 1443.8,2708.7 1508.7,2700.6 1573.7,2691.8 1638.8,2682.5 1703.8,2672.6 1768.9,2662.1 1834,2650.9 1899.1,2639.2 1964.2,2626.9 2029.3,2613.9 2094.5,2600.4 2159.7,2586.3 2224.8,2571.5 2290,2556.2 2355.2,2540.3 2420.4,2523.7 2485.7,2506.6 2550.9,2488.8 2616.2,2470.5 2681.4,2451.6 2746.7,2432 2812,2411.9 2877.3,2391.1 2942.6,2369.8 3007.9,2347.8 3073.2,2325.3 3143.5,2302.1 3143.5,2957.5 603.3,2957.5" fill="#264977"/>
<polygon points="603.3,2759.5 667.6,2759.3 732.2,2758.5 796.9,2757.3 861.7,2755.5 926.5,2753.3 991.3,2750.5 1056.1,2747.3 1121,2743.5 1185.9,2739.3 1250.9,2734.6 1315.8,2729.3 1380.8,2723.6 1445.8,2717.3 1510.8,2710.6 1575.8,2703.4 1640.8,2695.6 1705.8,2687.4 1770.8,2678.7 1835.9,2669.5 1901,2659.7 1966,2649.5 2031.1,2638.8 2096.2,2627.6 2161.3,2615.8 2226.4,2603.6 2291.5,2590.9 2356.6,2577.7 2421.7,2564 2486.9,2549.7 2552,2535 2617.2,2519.8 2682.3,2504.1 2747.5,2487.9 2812.6,2471.2 2877.8,2454 2943,2436.2 3008.1,2418 3073.3,2399.3 3143.5,2380.1 3143.5,2957.5 603.3,2957.5" fill="#264874"/>
<polygon points="603.3,2759.5 668.1,2759.3 733,2758.7 797.9,2757.7 862.8,2756.3 927.8,2754.4 992.7,2752.2 1057.7,2749.6 1122.7,2746.5 1187.6,2743.1 1252.6,2739.2 1317.6,2734.9 1382.6,2730.3 1447.6,2725.2 1512.6,2719.7 1577.6,2713.8 1642.6,2707.5 1707.6,2700.8 1772.6,2693.7 1837.7,2686.2 1902.7,2678.3 1967.7,2670 2032.7,2661.2 2097.8,2652.1 2162.8,2642.6 2227.8,2632.6 2292.9,2622.3 2357.9,2611.5 2422.9,2600.3 2488,2588.8 2553,2576.8 2618.1,2564.4 2683.1,2551.6 2748.2,2538.4 2813.2,2524.8 2878.3,2510.8 2943.3,2496.4 3008.4,2481.6 3073.4,2466.3 3143.5,2450.7 3143.5,2957.5 603.3,2957.5" fill="#26476f"/>
<polygon points="603.3,2759.5 668.5,2759.3 733.6,2758.9 798.7,2758 863.8,2756.9 928.9,2755.5 994,2753.7 1059,2751.6 1124,2749.2 1189.1,2746.4 1254.1,2743.3 1319.1,2739.9 1384.1,2736.2 1449.2,2732.2 1514.2,2727.8 1579.2,2723.1 1644.2,2718.1 1709.2,2712.8 1774.2,2707.1 1839.2,2701.2 1904.1,2694.9 1969.1,2688.2 2034.1,2681.3 2099.1,2674 2164.1,2666.4 2229,2658.5 2294,2650.3 2359,2641.7 2424,2632.8 2488.9,2623.6 2553.9,2614.1 2618.9,2604.2 2683.8,2594 2748.8,2583.5 2813.7,2572.7 2878.7,2561.6 2943.6,2550.1 3008.6,2538.3 3073.5,2526.2 3143.5,2513.7 3143.5,2957.5 603.3,2957.5" fill="#26456b"/>
<polygon points="603.3,2759.5 668.8,2759.4 734.1,2759 799.4,2758.4 864.6,2757.5 929.7,2756.4 994.9,2755 1060,2753.4 1125.1,2751.5 1190.1,2749.4 1255.2,2747 1320.2,2744.4 1385.3,2741.5 1450.3,2738.4 1515.3,2735 1580.3,2731.4 1645.3,2727.5 1710.3,2723.3 1775.3,2719 1840.2,2714.3 1905.2,2709.5 1970.2,2704.3 2035.1,2698.9 2100.1,2693.3 2165,2687.4 2229.9,2681.3 2294.9,2674.9 2359.8,2668.3 2424.7,2661.4 2489.6,2654.3 2554.5,2646.9 2619.4,2639.3 2684.3,2631.4 2749.2,2623.3 2814.1,2614.9 2879,2606.2 2943.9,2597.4 3008.8,2588.2 3073.6,2578.8 3143.5,2569.2 3143.5,2957.5 603.3,2957.5" fill="#264468"/>
<polygon points="603.3,2759.5 668.9,2759.4 734.3,2759.1 799.6,2758.7 864.8,2758 930,2757.2 995.2,2756.1 1060.4,2754.9 1125.5,2753.5 1190.6,2751.9 1255.6,2750.1 1320.7,2748.2 1385.7,2746 1450.8,2743.7 1515.8,2741.2 1580.8,2738.4 1645.8,2735.5 1710.8,2732.4 1775.7,2729.2 1840.7,2725.7 1905.6,2722.1 1970.6,2718.2 2035.5,2714.2 2100.5,2710 2165.4,2705.6 2230.3,2701 2295.2,2696.2 2360.1,2691.3 2425,2686.1 2489.9,2680.8 2554.8,2675.2 2619.6,2669.5 2684.5,2663.6 2749.4,2657.5 2814.3,2651.3 2879.1,2644.8 2944,2638.2 3008.8,2631.3 3073.7,2624.3 3143.5,2617.1 3143.5,2957.5 603.3,2957.5" fill="#264265"/>
<g fill="none" stroke-width="1.7" stroke-opacity="0.6">
<polyline points="603.3,2759.5 676.3,2759.4 749.1,2758.9 821.9,2758.2 894.5,2757.2 967.1,2756 1039.7,2754.4 1112.3,2752.6 1184.8,2750.4 1257.3,2748 1329.8,2745.3 1402.2,2742.4 1474.7,2739.1 1547.1,2735.6 1619.6,2731.7 1692,2727.6 1764.4,2723.2 1836.8,2718.6 1909.1,2713.6 1981.5,2708.4 2053.9,2702.9 2126.2,2697 2198.6,2691 2270.9,2684.6 2343.3,2677.9 2415.6,2671 2487.9,2663.8 2560.2,2656.3 2632.5,2648.5 2704.8,2640.4 2777.1,2632 2849.4,2623.4 2921.7,2614.5 2994,2605.3 3066.2,2595.8 3138.5,2586" stroke="#002553"/>
<polyline points="603.3,2759.5 676.2,2759.3 748.9,2758.8 821.5,2758 894.1,2756.8 966.7,2755.3 1039.2,2753.4 1111.8,2751.2 1184.3,2748.6 1256.7,2745.8 1329.2,2742.5 1401.7,2739 1474.1,2735.1 1546.6,2730.8 1619,2726.2 1691.4,2721.3 1763.8,2716 1836.2,2710.4 1908.6,2704.5 1981,2698.2 2053.4,2691.6 2125.8,2684.6 2198.1,2677.3 2270.5,2669.7 2342.9,2661.7 2415.2,2653.4 2487.6,2644.8 2559.9,2635.8 2632.2,2626.4 2704.6,2616.7 2776.9,2606.7 2849.2,2596.4 2921.6,2585.7 2993.9,2574.6 3066.2,2563.3 3138.5,2551.6" stroke="#002656"/>
<polyline points="603.3,2759.5 676,2759.3 748.5,2758.7 821.1,2757.7 893.6,2756.3 966.1,2754.5 1038.6,2752.3 1111,2749.7 1183.5,2746.7 1256,2743.2 1328.4,2739.4 1400.9,2735.2 1473.3,2730.6 1545.7,2725.6 1618.2,2720.2 1690.6,2714.4 1763,2708.1 1835.4,2701.5 1907.9,2694.5 1980.3,2687.1 2052.7,2679.3 2125.1,2671 2197.5,2662.4 2269.9,2653.4 2342.3,2643.9 2414.7,2634.1 2487.1,2623.9 2559.5,2613.2 2631.8,2602.2 2704.2,2590.8 2776.6,2578.9 2849,2566.7 2921.4,2554.1 2993.8,2541 3066.1,2527.6 3138.5,2513.7" stroke="#002859"/>
<polyline points="603.3,2759.5 675.7,2759.3 748.1,2758.6 820.5,2757.4 892.9,2755.8 965.3,2753.6 1037.7,2751.1 1110.2,2748 1182.6,2744.5 1255,2740.5 1327.4,2736.1 1399.9,2731.2 1472.3,2725.8 1544.7,2719.9 1617.2,2713.6 1689.6,2706.8 1762,2699.5 1834.5,2691.8 1906.9,2683.6 1979.4,2674.9 2051.8,2665.8 2124.2,2656.2 2196.7,2646.1 2269.1,2635.6 2341.6,2624.6 2414,2613.1 2486.5,2601.1 2558.9,2588.7 2631.4,2575.9 2703.8,2562.5 2776.3,2548.7 2848.7,2534.4 2921.1,2519.6 2993.6,2504.4 3066,2488.7 3138.5,2472.5" stroke="#00295d"/>
<polyline points="603.3,2759.5 675.4,2759.2 747.6,2758.4 819.8,2757.1 892.1,2755.2 964.4,2752.7 1036.8,2749.8 1109.1,2746.2 1181.5,2742.2 1253.9,2737.6 1326.3,2732.4 1398.7,2726.8 1471.1,2720.5 1543.6,2713.8 1616,2706.5 1688.5,2698.6 1760.9,2690.2 1833.4,2681.3 1905.8,2671.8 1978.3,2661.8 2050.8,2651.3 2123.3,2640.2 2195.8,2628.5 2268.3,2616.3 2340.8,2603.6 2413.3,2590.4 2485.8,2576.6 2558.3,2562.2 2630.8,2547.3 2703.3,2531.9 2775.8,2516 2848.4,2499.4 2920.9,2482.4 2993.4,2464.8 3066,2446.7 3138.5,2428" stroke="#002a5f"/>
<polyline points="603.3,2759.5 675,2759.2 747,2758.3 819.1,2756.7 891.3,2754.5 963.5,2751.8 1035.8,2748.4 1108,2744.3 1180.4,2739.7 1252.7,2734.4 1325.1,2728.5 1397.5,2722 1469.9,2714.9 1542.3,2707.2 1614.8,2698.8 1687.2,2689.8 1759.7,2680.2 1832.2,2670 1904.7,2659.2 1977.2,2647.7 2049.7,2635.6 2122.2,2622.9 2194.8,2609.6 2267.3,2595.7 2339.9,2581.1 2412.4,2565.9 2485,2550.1 2557.6,2533.7 2630.2,2516.7 2702.8,2499 2775.4,2480.8 2848,2461.9 2920.6,2442.4 2993.2,2422.2 3065.9,2401.5 3138.5,2380.1" stroke="#002b62"/>
<polyline points="603.3,2759.5 674.6,2759.1 746.4,2758.1 818.3,2756.3 890.4,2753.9 962.5,2750.7 1034.7,2746.8 1106.9,2742.3 1179.2,2737 1251.5,2731 1323.8,2724.4 1396.2,2717 1468.6,2708.9 1541,2700.1 1613.4,2690.6 1685.9,2680.4 1758.4,2669.5 1830.9,2657.9 1903.4,2645.6 1976,2632.6 2048.5,2618.9 2121.1,2604.5 2193.7,2589.4 2266.3,2573.6 2338.9,2557 2411.6,2539.8 2484.2,2521.9 2556.9,2503.3 2629.5,2483.9 2702.2,2463.9 2774.9,2443.2 2847.6,2421.7 2920.3,2399.6 2993,2376.7 3065.8,2353.2 3138.5,2328.9" stroke="#002c66"/>
<polyline points="603.3,2759.5 674.3,2759.1 745.8,2757.9 817.6,2755.9 889.5,2753.2 961.5,2749.6 1033.5,2745.2 1105.7,2740.1 1177.9,2734.2 1250.2,2727.4 1322.5,2719.9 1394.8,2711.6 1467.2,2702.5 1539.6,2692.6 1612.1,2681.9 1684.6,2670.4 1757.1,2658.1 1829.6,2645.1 1902.2,2631.2 1974.7,2616.6 2047.3,2601.1 2120,2584.9 2192.6,2567.9 2265.3,2550 2338,2531.4 2410.7,2512 2483.4,2491.8 2556.1,2470.8 2628.9,2449.1 2701.6,2426.5 2774.4,2403.1 2847.2,2379 2920,2354 2992.8,2328.3 3065.7,2301.8 3138.5,2274.4" stroke="#002e6a"/>
<polyline points="603.3,2759.5 673.9,2759.1 745.2,2757.7 816.8,2755.5 888.5,2752.4 960.4,2748.4 1032.4,2743.5 1104.5,2737.8 1176.6,2731.1 1248.8,2723.6 1321.1,2715.2 1393.4,2705.9 1465.8,2695.7 1538.2,2684.6 1610.7,2672.7 1683.2,2659.8 1755.7,2646.1 1828.2,2631.4 1900.8,2615.9 1973.5,2599.5 2046.1,2582.3 2118.8,2564.1 2191.5,2545 2264.2,2525.1 2337,2504.3 2409.7,2482.6 2482.5,2460 2555.3,2436.5 2628.2,2412.1 2701,2386.9 2773.9,2360.7 2846.8,2333.7 2919.7,2305.8 2992.6,2277 3065.5,2247.3 3138.5,2216.7" stroke="#002f6d"/>
<polyline points="603.3,2759.5 673.5,2759 744.6,2757.5 816,2755.1 887.6,2751.6 959.3,2747.2 1031.2,2741.8 1103.2,2735.3 1175.3,2728 1247.5,2719.6 1319.7,2710.2 1392,2699.9 1464.4,2688.5 1536.8,2676.2 1609.2,2662.9 1681.7,2648.6 1754.3,2633.3 1826.9,2617.1 1899.5,2599.8 1972.2,2581.6 2044.9,2562.3 2117.6,2542.1 2190.4,2520.9 2263.1,2498.8 2336,2475.6 2408.8,2451.5 2481.7,2426.3 2554.6,2400.2 2627.5,2373.1 2700.4,2345 2773.4,2315.9 2846.4,2285.8 2919.4,2254.8 2992.4,2222.8 3065.4,2189.7 3138.5,2155.7" stroke="#00306f"/>
<polyline points="603.3,2759.5 673.1,2759 743.9,2757.3 815.1,2754.6 886.6,2750.8 958.2,2745.9 1030,2739.9 1101.9,2732.8 1174,2724.6 1246.1,2715.3 1318.3,2705 1390.6,2693.5 1462.9,2681 1535.3,2667.3 1607.8,2652.6 1680.3,2636.8 1752.9,2619.9 1825.5,2601.9 1898.2,2582.8 1970.9,2562.7 2043.6,2541.4 2116.4,2519 2189.2,2495.6 2262,2471.1 2334.9,2445.4 2407.8,2418.7 2480.8,2390.9 2553.8,2362 2626.8,2332 2699.8,2300.9 2772.9,2268.8 2845.9,2235.5 2919,2201.1 2992.2,2165.7 3065.3,2129.2 3138.5,2091.5" stroke="#003170"/>
<polyline points="603.3,2759.5 672.7,2758.9 743.3,2757.1 814.3,2754.1 885.6,2749.9 957.1,2744.5 1028.8,2737.9 1100.7,2730.1 1172.6,2721.1 1244.7,2710.9 1316.9,2699.5 1389.1,2686.9 1461.5,2673.1 1533.9,2658.1 1606.3,2641.9 1678.9,2624.4 1751.5,2605.8 1824.1,2586 1896.8,2565 1969.5,2542.8 2042.3,2519.4 2115.2,2494.8 2188,2469 2261,2442 2333.9,2413.8 2406.9,2384.3 2479.9,2353.7 2553,2321.9 2626.1,2288.9 2699.2,2254.7 2772.3,2219.3 2845.5,2182.7 2918.7,2144.9 2992,2105.8 3065.2,2065.6 3138.5,2024.2" stroke="#013271"/>
<polyline points="603.3,2759.5 672.3,2758.8 742.7,2756.9 813.5,2753.6 884.7,2749 956.1,2743.1 1027.7,2735.8 1099.4,2727.3 1171.3,2717.4 1243.3,2706.2 1315.5,2693.7 1387.7,2679.9 1460,2664.8 1532.4,2648.3 1604.9,2630.6 1677.4,2611.5 1750,2591.1 1822.7,2569.4 1895.4,2546.4 1968.2,2522 2041.1,2496.4 2114,2469.4 2186.9,2441.1 2259.9,2411.5 2332.9,2380.6 2405.9,2348.4 2479,2314.8 2552.2,2280 2625.4,2243.8 2698.6,2206.3 2771.8,2167.5 2845.1,2127.4 2918.4,2085.9 2991.7,2043.2 3065.1,1999.1 3138.5,1953.7" stroke="#083370"/>
<polyline points="603.3,2759.5 672,2758.8 742,2756.6 812.7,2753 883.7,2748 955,2741.6 1026.5,2733.7 1098.2,2724.3 1170,2713.6 1242,2701.4 1314.1,2687.7 1386.3,2672.6 1458.6,2656.1 1531,2638.2 1603.5,2618.8 1676,2598 1748.6,2575.7 1821.3,2552 1894.1,2526.9 1966.9,2500.4 2039.8,2472.4 2112.7,2442.9 2185.7,2412.1 2258.8,2379.8 2331.9,2346 2405,2310.8 2478.2,2274.2 2551.4,2236.2 2624.6,2196.7 2697.9,2155.8 2771.3,2113.4 2844.7,2069.7 2918.1,2024.4 2991.5,1977.8 3065,1929.7 3138.5,1880.1" stroke="#0f3570"/>
<polyline points="603.3,2759.5 671.6,2758.7 741.4,2756.4 811.9,2752.5 882.8,2747 953.9,2740 1025.3,2731.4 1096.9,2721.3 1168.7,2709.6 1240.6,2696.3 1312.7,2681.5 1384.9,2665.1 1457.2,2647.1 1529.5,2627.6 1602,2606.5 1674.6,2583.9 1747.2,2559.7 1820,2534 1892.8,2506.6 1965.6,2477.8 2038.6,2447.3 2111.5,2415.3 2184.6,2381.8 2257.7,2346.7 2330.8,2310 2404,2271.7 2477.3,2231.9 2550.6,2190.6 2623.9,2147.7 2697.3,2103.2 2770.8,2057.1 2844.2,2009.5 2917.7,1960.4 2991.3,1909.6 3064.9,1857.3 3138.5,1803.5" stroke="#123570"/>
<polyline points="603.3,2759.5 671.2,2758.7 740.8,2756.1 811.1,2751.9 881.8,2746 952.9,2738.4 1024.2,2729.1 1095.7,2718.1 1167.4,2705.4 1239.3,2691 1311.3,2675 1383.5,2657.2 1455.7,2637.8 1528.1,2616.6 1600.6,2593.8 1673.2,2569.3 1745.9,2543.1 1818.6,2515.2 1891.4,2485.6 1964.3,2454.3 2037.3,2421.3 2110.3,2386.7 2183.4,2350.3 2256.6,2312.3 2329.8,2272.5 2403.1,2231.1 2476.4,2188 2549.8,2143.2 2623.2,2096.7 2696.7,2048.5 2770.2,1998.6 2843.8,1947 2917.4,1893.8 2991.1,1838.8 3064.8,1782.1 3138.5,1723.8" stroke="#163770"/>
<polyline points="603.3,2759.5 670.8,2758.6 740.2,2755.8 810.3,2751.3 880.9,2744.9 951.8,2736.7 1023,2726.6 1094.5,2714.8 1166.1,2701.1 1238,2685.6 1310,2668.2 1382.1,2649 1454.3,2628 1526.7,2605.2 1599.2,2580.6 1671.8,2554.1 1744.5,2525.8 1817.3,2495.7 1890.1,2463.7 1963.1,2429.9 2036.1,2394.3 2109.2,2356.9 2182.3,2317.6 2255.5,2276.5 2328.8,2233.6 2402.2,2188.9 2475.6,2142.3 2549,2094 2622.6,2043.7 2696.1,1991.7 2769.7,1937.8 2843.4,1882.2 2917.1,1824.6 2990.9,1765.3 3064.7,1704.1 3138.5,1641.1" stroke="#1a386f"/>
<polyline points="603.3,2759.5 670.5,2758.5 739.6,2755.6 809.6,2750.7 880,2743.8 950.8,2734.9 1021.9,2724.1 1093.3,2711.3 1164.9,2696.6 1236.7,2679.9 1308.6,2661.2 1380.7,2640.6 1453,2618 1525.3,2593.4 1597.8,2566.9 1670.4,2538.4 1743.1,2507.9 1815.9,2475.4 1888.8,2441 1961.8,2404.7 2034.9,2366.4 2108,2326.1 2181.2,2283.8 2254.5,2239.6 2327.8,2193.4 2401.3,2145.2 2474.7,2095.1 2548.3,2043 2621.9,1988.9 2695.5,1932.9 2769.2,1874.9 2843,1815 2916.8,1753 2990.6,1689.2 3064.5,1623.3 3138.5,1555.5" stroke="#1e3a6f"/>
<polyline points="603.3,2759.5 670.1,2758.4 739,2755.3 808.8,2750 879.1,2742.6 949.8,2733.1 1020.8,2721.5 1092.1,2707.8 1163.6,2692 1235.4,2674 1307.3,2654 1379.4,2631.8 1451.6,2607.6 1524,2581.2 1596.5,2552.7 1669.1,2522.1 1741.8,2489.4 1814.6,2454.6 1887.5,2417.6 1960.6,2378.6 2033.7,2337.4 2106.9,2294.2 2180.1,2248.8 2253.5,2201.3 2326.9,2151.7 2400.4,2100 2473.9,2046.2 2547.5,1990.3 2621.2,1932.2 2694.9,1872.1 2768.7,1809.8 2842.6,1745.5 2916.5,1679 2990.4,1610.4 3064.4,1539.7 3138.5,1466.9" stroke="#213b6e"/>
<polyline points="603.3,2759.5 669.8,2758.4 738.5,2755 808,2749.3 878.2,2741.4 948.8,2731.3 1019.7,2718.8 1091,2704.1 1162.4,2687.2 1234.1,2668 1306,2646.5 1378,2622.8 1450.3,2596.8 1522.6,2568.6 1595.1,2538 1667.7,2505.3 1740.5,2470.3 1813.3,2433 1886.3,2393.4 1959.3,2351.6 2032.5,2307.6 2105.7,2261.2 2179,2212.6 2252.4,2161.8 2325.9,2108.7 2399.5,2053.3 2473.1,1995.7 2546.8,1935.8 2620.5,1873.7 2694.3,1809.3 2768.2,1742.6 2842.2,1673.7 2916.2,1602.5 2990.2,1529.1 3064.3,1453.4 3138.5,1375.4" stroke="#233c6e"/>
<polyline points="603.3,2759.5 669.4,2758.3 737.9,2754.7 807.3,2748.6 877.3,2740.2 947.8,2729.3 1018.7,2716.1 1089.8,2700.4 1161.2,2682.3 1232.9,2661.7 1304.7,2638.8 1376.7,2613.5 1448.9,2585.7 1521.3,2555.5 1593.8,2522.9 1666.4,2487.9 1739.2,2450.5 1812.1,2410.7 1885,2368.5 1958.1,2323.8 2031.3,2276.7 2104.6,2227.3 2178,2175.4 2251.4,2121 2325,2064.3 2398.6,2005.2 2472.3,1943.6 2546,1879.7 2619.9,1813.3 2693.8,1744.5 2767.7,1673.3 2841.8,1599.7 2915.9,1523.6 2990,1445.2 3064.2,1364.3 3138.5,1281" stroke="#263d6e"/>
<polyline points="603.3,2759.5 669.1,2758.2 737.4,2754.4 806.6,2747.9 876.5,2738.9 946.9,2727.3 1017.6,2713.2 1088.7,2696.5 1160,2677.2 1231.6,2655.3 1303.4,2630.9 1375.5,2603.9 1447.6,2574.3 1520,2542.1 1592.5,2507.4 1665.1,2470.1 1737.9,2430.2 1810.8,2387.8 1883.8,2342.8 1956.9,2295.2 2030.2,2245 2103.5,2192.3 2176.9,2137 2250.4,2079.1 2324,2018.6 2397.7,1955.6 2471.5,1890 2545.3,1821.8 2619.2,1751.1 2693.2,1677.8 2767.3,1601.9 2841.4,1523.4 2915.6,1442.4 2989.8,1358.8 3064.1,1272.6 3138.5,1183.8" stroke="#293f6e"/>
<polyline points="603.3,2759.5 668.7,2758.1 736.8,2754 805.9,2747.2 875.6,2737.6 945.9,2725.3 1016.6,2710.3 1087.6,2692.5 1158.9,2672 1230.4,2648.7 1302.2,2622.7 1374.2,2594 1446.4,2562.5 1518.7,2528.3 1591.2,2491.4 1663.9,2451.7 1736.7,2409.3 1809.6,2364.2 1882.6,2316.3 1955.8,2265.7 2029,2212.3 2102.4,2156.3 2175.9,2097.4 2249.5,2035.9 2323.1,1971.6 2396.9,1904.6 2470.7,1834.8 2544.6,1762.3 2618.6,1687.1 2692.7,1609.1 2766.8,1528.4 2841,1445 2915.3,1358.8 2989.6,1269.9 3064,1178.2 3138.5,1083.8" stroke="#2b406d"/>
<polyline points="603.3,2759.5 668.4,2758 736.3,2753.7 805.2,2746.4 874.8,2736.3 945,2723.2 1015.6,2707.2 1086.5,2688.4 1157.7,2666.6 1229.2,2641.9 1301,2614.3 1373,2583.8 1445.1,2550.4 1517.4,2514.1 1590,2474.9 1662.6,2432.8 1735.4,2387.8 1808.4,2339.9 1881.4,2289.1 1954.6,2235.4 2027.9,2178.8 2101.3,2119.3 2174.9,2056.8 2248.5,1991.5 2322.2,1923.3 2396,1852.1 2469.9,1778.1 2543.9,1701.1 2618,1621.3 2692.1,1538.5 2766.3,1452.9 2840.6,1364.3 2915,1272.9 2989.4,1178.5 3063.9,1081.2 3138.5,981" stroke="#2e416d"/>
<polyline points="603.3,2759.5 668.1,2758 735.8,2753.3 804.5,2745.7 874,2734.9 944.1,2721.1 1014.6,2704.1 1085.4,2684.1 1156.6,2661.1 1228.1,2634.9 1299.8,2605.7 1371.7,2573.4 1443.9,2538 1516.2,2499.6 1588.7,2458.1 1661.4,2413.5 1734.2,2365.8 1807.2,2315 1880.3,2261.2 1953.5,2204.3 2026.8,2144.3 2100.3,2081.3 2173.9,2015.1 2247.5,1945.9 2321.3,1873.6 2395.2,1798.3 2469.2,1719.8 2543.2,1638.3 2617.3,1553.7 2691.6,1466.1 2765.9,1375.3 2840.2,1281.5 2914.7,1184.6 2989.2,1084.7 3063.8,981.6 3138.5,875.5" stroke="#2f426d"/>
<polyline points="603.3,2759.5 667.8,2757.9 735.2,2753 803.9,2744.9 873.2,2733.5 943.2,2718.8 1013.6,2701 1084.4,2679.8 1155.5,2655.4 1226.9,2627.8 1298.6,2596.9 1370.5,2562.7 1442.7,2525.3 1515,2484.6 1587.5,2440.7 1660.2,2393.6 1733,2343.2 1806,2289.5 1879.1,2232.6 1952.4,2172.4 2025.8,2109 2099.3,2042.3 2172.9,1972.3 2246.6,1899.2 2320.4,1822.7 2394.4,1743 2468.4,1660.1 2542.5,1573.9 2616.7,1484.4 2691,1391.7 2765.4,1295.8 2839.9,1196.6 2914.4,1094.1 2989,988.4 3063.7,879.4 3138.5,767.2" stroke="#32436d"/>
<polyline points="603.3,2759.5 667.5,2757.8 734.7,2752.6 803.2,2744 872.5,2732 942.3,2716.6 1012.6,2697.7 1083.4,2675.4 1154.4,2649.6 1225.8,2620.4 1297.5,2587.8 1369.4,2551.8 1441.5,2512.3 1513.8,2469.3 1586.3,2423 1659,2373.2 1731.8,2320 1804.8,2263.3 1878,2203.2 1951.3,2139.7 2024.7,2072.7 2098.2,2002.3 2171.9,1928.5 2245.7,1851.2 2319.6,1770.5 2393.6,1686.4 2467.7,1598.8 2541.9,1507.9 2616.1,1413.4 2690.5,1315.6 2765,1214.3 2839.5,1109.5 2914.2,1001.4 2988.9,889.8 3063.6,774.7 3138.5,656.2" stroke="#34456c"/>
<polyline points="603.3,2759.5 667.2,2757.7 734.3,2752.3 802.6,2743.2 871.7,2730.5 941.4,2714.3 1011.7,2694.4 1082.3,2670.8 1153.4,2643.7 1224.7,2612.9 1296.3,2578.5 1368.2,2540.5 1440.3,2498.9 1512.6,2453.7 1585.1,2404.8 1657.8,2352.3 1730.7,2296.2 1803.7,2236.5 1876.9,2173.2 1950.2,2106.2 2023.7,2035.6 2097.2,1961.4 2171,1883.6 2244.8,1802.2 2318.7,1717.1 2392.8,1628.4 2466.9,1536.1 2541.2,1440.2 2615.6,1340.7 2690,1237.5 2764.5,1130.8 2839.2,1020.4 2913.9,906.4 2988.7,788.7 3063.5,667.5 3138.5,542.6" stroke="#36466c"/>
<polyline points="603.3,2759.5 666.9,2757.6 733.8,2751.9 801.9,2742.4 870.9,2729 940.6,2711.9 1010.8,2690.9 1081.4,2666.2 1152.3,2637.6 1223.6,2605.2 1295.2,2569 1367.1,2529 1439.1,2485.2 1511.5,2437.6 1584,2386.2 1656.7,2331 1729.5,2271.9 1802.6,2209.1 1875.8,2142.4 1949.1,2071.9 2022.6,1997.6 2096.3,1919.6 2170,1837.7 2243.9,1751.9 2317.9,1662.4 2392,1569.1 2466.2,1472 2540.6,1371 2615,1266.3 2689.5,1157.7 2764.1,1045.3 2838.8,929.1 2913.6,809.1 2988.5,685.3 3063.5,557.7 3138.5,426.3" stroke="#39486c"/>
<polyline points="603.3,2759.5 666.6,2757.5 733.3,2751.5 801.3,2741.5 870.2,2727.5 939.8,2709.5 1009.9,2687.4 1080.4,2661.4 1151.3,2631.4 1222.6,2597.4 1294.1,2559.3 1365.9,2517.3 1438,2471.3 1510.3,2421.2 1582.8,2367.2 1655.5,2309.1 1728.4,2247.1 1801.5,2181 1874.7,2110.9 1948.1,2036.9 2021.6,1958.8 2095.3,1876.7 2169.1,1790.7 2243,1700.6 2317.1,1606.5 2391.3,1508.4 2465.5,1406.3 2539.9,1300.3 2614.4,1190.2 2689,1076.1 2763.7,958 2838.5,835.9 2913.4,709.8 2988.3,579.6 3063.4,445.5 3138.5,307.4" stroke="#3a486c"/>
<polyline points="603.3,2759.5 666.3,2757.4 732.8,2751.1 800.7,2740.6 869.5,2725.9 939,2707 1009,2683.9 1079.4,2656.6 1150.3,2625 1221.5,2589.3 1293,2549.4 1364.8,2505.3 1436.9,2457 1509.2,2404.4 1581.7,2347.7 1654.4,2286.8 1727.3,2221.7 1800.4,2152.3 1873.7,2078.8 1947.1,2001.1 2020.6,1919.1 2094.4,1833 2168.2,1742.7 2242.2,1648.1 2316.3,1549.4 2390.5,1446.4 2464.8,1339.3 2539.3,1227.9 2613.9,1112.4 2688.5,992.6 2763.3,868.7 2838.1,740.5 2913.1,608.2 2988.1,471.6 3063.3,330.9 3138.5,185.9" stroke="#3c4a6c"/>
<polyline points="603.3,2759.5 664.5,2757.4 729.3,2751.1 795.4,2740.6 862.4,2725.9 930.1,2707 998.3,2683.9 1067.1,2656.5 1136.2,2625 1205.7,2589.3 1275.4,2549.4 1345.5,2505.3 1415.8,2456.9 1486.4,2404.4 1557.2,2347.7 1628.1,2286.7 1699.3,2221.6 1770.7,2152.2 1842.2,2078.7 1913.9,2001 1985.7,1919 2057.7,1832.9 2129.8,1742.5 2202.1,1648 2274.5,1549.2 2347,1446.2 2419.6,1339.1 2492.3,1227.7 2565.2,1112.1 2638.1,992.4 2711.2,868.4 2784.3,740.2 2857.5,607.8 2930.9,471.3 3004.3,330.5 3077.8,185.5" stroke="#3e4b6c"/>
<polyline points="603.3,2759.5 662.8,2757.4 725.9,2751.1 790.3,2740.6 855.6,2725.9 921.7,2707 988.3,2683.9 1055.3,2656.5 1122.8,2625 1190.6,2589.3 1258.7,2549.4 1327.2,2505.3 1395.8,2456.9 1464.8,2404.4 1533.9,2347.7 1603.2,2286.7 1672.8,2221.6 1742.5,2152.2 1812.4,2078.7 1882.5,2001 1952.7,1919 2023,1832.9 2093.5,1742.5 2164.2,1648 2234.9,1549.2 2305.8,1446.2 2376.8,1339.1 2447.9,1227.7 2519.2,1112.1 2590.5,992.4 2661.9,868.4 2733.5,740.2 2805.1,607.8 2876.8,471.3 2948.7,330.5 3020.6,185.5" stroke="#404c6c"/>
<polyline points="603.3,2759.5 661.2,2757.4 722.6,2751.1 785.4,2740.6 849.2,2725.9 913.7,2707 978.7,2683.9 1044.2,2656.5 1110.1,2625 1176.3,2589.3 1242.9,2549.4 1309.8,2505.3 1376.9,2456.9 1444.3,2404.4 1511.9,2347.7 1579.7,2286.7 1647.7,2221.6 1715.9,2152.2 1784.3,2078.7 1852.8,2001 1921.5,1919 1990.3,1832.9 2059.3,1742.5 2128.4,1648 2197.6,1549.2 2267,1446.2 2336.5,1339.1 2406.1,1227.7 2475.8,1112.1 2545.6,992.4 2615.5,868.4 2685.6,740.2 2755.7,607.8 2825.9,471.3 2896.2,330.5 2966.6,185.5" stroke="#424e6c"/>
<polyline points="603.3,2759.5 659.6,2757.4 719.5,2751.1 780.8,2740.6 843.1,2725.9 906,2707 969.6,2683.9 1033.6,2656.5 1098,2625 1162.8,2589.3 1227.9,2549.4 1293.3,2505.3 1358.9,2456.9 1424.9,2404.4 1491,2347.7 1557.4,2286.7 1623.9,2221.6 1690.7,2152.2 1757.6,2078.7 1824.7,2001 1891.9,1919 1959.3,1832.9 2026.8,1742.5 2094.5,1648 2162.3,1549.2 2230.3,1446.2 2298.3,1339.1 2366.5,1227.7 2434.8,1112.1 2503.2,992.4 2571.7,868.4 2640.3,740.2 2709,607.8 2777.8,471.3 2846.7,330.5 2915.7,185.5" stroke="#434e6c"/>
<polyline points="603.3,2759.5 658.1,2757.4 716.5,2751.1 776.4,2740.6 837.2,2725.9 898.8,2707 960.9,2683.9 1023.5,2656.5 1086.5,2625 1149.9,2589.3 1213.6,2549.4 1277.6,2505.3 1341.9,2456.9 1406.4,2404.4 1471.2,2347.7 1536.1,2286.7 1601.3,2221.6 1666.7,2152.2 1732.2,2078.7 1798,2001 1863.8,1919 1929.9,1832.9 1996.1,1742.5 2062.4,1648 2128.8,1549.2 2195.4,1446.2 2262.1,1339.1 2329,1227.7 2395.9,1112.1 2463,992.4 2530.1,868.4 2597.4,740.2 2664.8,607.8 2732.2,471.3 2799.8,330.5 2867.4,185.5" stroke="#45506c"/>
<polyline points="603.3,2759.5 656.7,2757.4 713.7,2751.1 772.2,2740.6 831.6,2725.9 891.8,2707 952.6,2683.9 1013.8,2656.5 1075.5,2625 1137.5,2589.3 1199.9,2549.4 1262.6,2505.3 1325.6,2456.9 1388.8,2404.4 1452.3,2347.7 1515.9,2286.7 1579.8,2221.6 1643.9,2152.2 1708.1,2078.7 1772.6,2001 1837.2,1919 1901.9,1832.9 1966.8,1742.5 2031.8,1648 2097,1549.2 2162.3,1446.2 2227.8,1339.1 2293.3,1227.7 2359,1112.1 2424.8,992.4 2490.7,868.4 2556.7,740.2 2622.8,607.8 2689,471.3 2755.3,330.5 2821.7,185.5" stroke="#47516c"/>
<polyline points="603.3,2759.5 655.3,2757.4 711,2751.1 768.1,2740.6 826.3,2725.9 885.2,2707 944.6,2683.9 1004.6,2656.5 1065,2625 1125.8,2589.3 1186.9,2549.4 1248.3,2505.3 1310.1,2456.9 1372,2404.4 1434.2,2347.7 1496.7,2286.7 1559.3,2221.6 1622.2,2152.2 1685.2,2078.7 1748.4,2001 1811.7,1919 1875.3,1832.9 1938.9,1742.5 2002.8,1648 2066.7,1549.2 2130.8,1446.2 2195,1339.1 2259.4,1227.7 2323.9,1112.1 2388.4,992.4 2453.1,868.4 2517.9,740.2 2582.8,607.8 2647.8,471.3 2712.9,330.5 2778.2,185.5" stroke="#49536c"/>
<polyline points="603.3,2759.5 654,2757.4 708.4,2751.1 764.3,2740.6 821.2,2725.9 878.8,2707 937,2683.9 995.8,2656.5 1055,2625 1114.5,2589.3 1174.5,2549.4 1234.7,2505.3 1295.2,2456.9 1356,2404.4 1417,2347.7 1478.3,2286.7 1539.7,2221.6 1601.4,2152.2 1663.2,2078.7 1725.3,2001 1787.5,1919 1849.8,1832.9 1912.4,1742.5 1975,1648 2037.8,1549.2 2100.8,1446.2 2163.8,1339.1 2227,1227.7 2290.4,1112.1 2353.8,992.4 2417.3,868.4 2481,740.2 2544.8,607.8 2608.7,471.3 2672.6,330.5 2736.7,185.5" stroke="#4b546c"/>
<polyline points="603.3,2759.5 652.7,2757.4 705.9,2751.1 760.5,2740.6 816.2,2725.9 872.7,2707 929.7,2683.9 987.3,2656.5 1045.4,2625 1103.8,2589.3 1162.5,2549.4 1221.6,2505.3 1281,2456.9 1340.6,2404.4 1400.5,2347.7 1460.7,2286.7 1521,2221.6 1581.5,2152.2 1642.3,2078.7 1703.2,2001 1764.3,1919 1825.5,1832.9 1886.9,1742.5 1948.5,1648 2010.2,1549.2 2072.1,1446.2 2134,1339.1 2196.1,1227.7 2258.4,1112.1 2320.7,992.4 2383.2,868.4 2445.8,740.2 2508.4,607.8 2571.2,471.3 2634.1,330.5 2697.1,185.5" stroke="#4c556c"/>
<polyline points="603.3,2759.5 651.5,2757.4 703.5,2751.1 757,2740.6 811.5,2725.9 866.8,2707 922.8,2683.9 979.2,2656.5 1036.1,2625 1093.4,2589.3 1151.1,2549.4 1209.1,2505.3 1267.4,2456.9 1325.9,2404.4 1384.7,2347.7 1443.8,2286.7 1503.1,2221.6 1562.5,2152.2 1622.2,2078.7 1682,2001 1742.1,1919 1802.3,1832.9 1862.6,1742.5 1923.1,1648 1983.8,1549.2 2044.6,1446.2 2105.5,1339.1 2166.6,1227.7 2227.8,1112.1 2289.1,992.4 2350.5,868.4 2412,740.2 2473.7,607.8 2535.5,471.3 2597.3,330.5 2659.3,185.5" stroke="#4e566c"/>
<polyline points="603.3,2759.5 650.3,2757.4 701.1,2751.1 753.5,2740.6 807,2725.9 861.2,2707 916,2683.9 971.4,2656.5 1027.3,2625 1083.5,2589.3 1140.1,2549.4 1197.1,2505.3 1254.3,2456.9 1311.8,2404.4 1369.6,2347.7 1427.6,2286.7 1485.8,2221.6 1544.3,2152.2 1602.9,2078.7 1661.8,2001 1720.8,1919 1779.9,1832.9 1839.3,1742.5 1898.8,1648 1958.4,1549.2 2018.2,1446.2 2078.2,1339.1 2138.2,1227.7 2198.4,1112.1 2258.7,992.4 2319.2,868.4 2379.7,740.2 2440.4,607.8 2501.2,471.3 2562.1,330.5 2623.1,185.5" stroke="#50576c"/>
<polyline points="603.3,2759.5 649.2,2757.4 698.9,2751.1 750.2,2740.6 802.6,2725.9 855.8,2707 909.6,2683.9 963.9,2656.5 1018.7,2625 1074,2589.3 1129.6,2549.4 1185.5,2505.3 1241.7,2456.9 1298.2,2404.4 1355,2347.7 1412,2286.7 1469.3,2221.6 1526.7,2152.2 1584.4,2078.7 1642.3,2001 1700.3,1919 1758.5,1832.9 1816.9,1742.5 1875.4,1648 1934.1,1549.2 1992.9,1446.2 2051.9,1339.1 2111,1227.7 2170.3,1112.1 2229.6,992.4 2289.1,868.4 2348.7,740.2 2408.5,607.8 2468.3,471.3 2528.2,330.5 2588.3,185.5" stroke="#52596d"/>
<polyline points="603.3,2759.5 648.1,2757.4 696.8,2751.1 747,2740.6 798.4,2725.9 850.5,2707 903.3,2683.9 956.7,2656.5 1010.5,2625 1064.8,2589.3 1119.4,2549.4 1174.3,2505.3 1229.6,2456.9 1285.2,2404.4 1341,2347.7 1397.1,2286.7 1453.4,2221.6 1509.9,2152.2 1566.6,2078.7 1623.5,2001 1680.6,1919 1737.9,1832.9 1795.3,1742.5 1853,1648 1910.7,1549.2 1968.6,1446.2 2026.7,1339.1 2084.9,1227.7 2143.2,1112.1 2201.7,992.4 2260.3,868.4 2319,740.2 2377.8,607.8 2436.7,471.3 2495.8,330.5 2554.9,185.5" stroke="#545a6d"/>
<polyline points="603.3,2759.5 647,2757.4 694.7,2751.1 744,2740.6 794.3,2725.9 845.5,2707 897.3,2683.9 949.7,2656.5 1002.6,2625 1055.9,2589.3 1109.6,2549.4 1163.6,2505.3 1218,2456.9 1272.6,2404.4 1327.5,2347.7 1382.6,2286.7 1438,2221.6 1493.6,2152.2 1549.4,2078.7 1605.5,2001 1661.7,1919 1718,1832.9 1774.6,1742.5 1831.3,1648 1888.2,1549.2 1945.2,1446.2 2002.4,1339.1 2059.7,1227.7 2117.2,1112.1 2174.7,992.4 2232.5,868.4 2290.3,740.2 2348.2,607.8 2406.3,471.3 2464.5,330.5 2522.8,185.5" stroke="#555b6d"/>
<polyline points="603.3,2759.5 646,2757.4 692.7,2751.1 741,2740.6 790.4,2725.9 840.6,2707 891.5,2683.9 943,2656.5 995,2625 1047.3,2589.3 1100.1,2549.4 1153.2,2505.3 1206.7,2456.9 1260.4,2404.4 1314.4,2347.7 1368.7,2286.7 1423.2,2221.6 1478,2152.2 1532.9,2078.7 1588,2001 1643.4,1919 1698.9,1832.9 1754.6,1742.5 1810.5,1648 1866.5,1549.2 1922.7,1446.2 1979,1339.1 2035.4,1227.7 2092.1,1112.1 2148.8,992.4 2205.7,868.4 2262.7,740.2 2319.8,607.8 2377,471.3 2434.3,330.5 2491.8,185.5" stroke="#565c6d"/>
<polyline points="603.3,2759.5 645,2757.4 690.7,2751.1 738.1,2740.6 786.6,2725.9 835.9,2707 885.9,2683.9 936.5,2656.5 987.6,2625 1039.1,2589.3 1091,2549.4 1143.2,2505.3 1195.8,2456.9 1248.7,2404.4 1301.9,2347.7 1355.3,2286.7 1408.9,2221.6 1462.8,2152.2 1516.9,2078.7 1571.2,2001 1625.7,1919 1680.4,1832.9 1735.3,1742.5 1790.3,1648 1845.5,1549.2 1900.9,1446.2 1956.4,1339.1 2012,1227.7 2067.8,1112.1 2123.7,992.4 2179.8,868.4 2236,740.2 2292.3,607.8 2348.7,471.3 2405.3,330.5 2461.9,185.5" stroke="#585e6d"/>
<polyline points="603.3,2759.5 644,2757.4 688.9,2751.1 735.3,2740.6 782.9,2725.9 831.4,2707 880.5,2683.9 930.2,2656.5 980.4,2625 1031.1,2589.3 1082.2,2549.4 1133.6,2505.3 1185.3,2456.9 1237.4,2404.4 1289.7,2347.7 1342.3,2286.7 1395.1,2221.6 1448.2,2152.2 1501.5,2078.7 1555,2001 1608.7,1919 1662.6,1832.9 1716.6,1742.5 1770.9,1648 1825.3,1549.2 1879.8,1446.2 1934.5,1339.1 1989.4,1227.7 2044.4,1112.1 2099.5,992.4 2154.8,868.4 2210.2,740.2 2265.8,607.8 2321.4,471.3 2377.2,330.5 2433.1,185.5" stroke="#5a5f6e"/>
<polyline points="603.3,2759.5 643.1,2757.4 687,2751.1 732.6,2740.6 779.4,2725.9 827,2707 875.3,2683.9 924.1,2656.5 973.5,2625 1023.4,2589.3 1073.6,2549.4 1124.2,2505.3 1175.1,2456.9 1226.4,2404.4 1277.9,2347.7 1329.7,2286.7 1381.8,2221.6 1434,2152.2 1486.5,2078.7 1539.2,2001 1592.2,1919 1645.3,1832.9 1698.6,1742.5 1752,1648 1805.7,1549.2 1859.5,1446.2 1913.4,1339.1 1967.5,1227.7 2021.8,1112.1 2076.1,992.4 2130.7,868.4 2185.3,740.2 2240.1,607.8 2295,471.3 2350,330.5 2405.2,185.5" stroke="#5c616e"/>
<polyline points="603.3,2759.5 642.2,2757.4 685.3,2751.1 730,2740.6 775.9,2725.9 822.7,2707 870.2,2683.9 918.3,2656.5 966.8,2625 1015.9,2589.3 1065.3,2549.4 1115.1,2505.3 1165.3,2456.9 1215.7,2404.4 1266.5,2347.7 1317.5,2286.7 1368.8,2221.6 1420.3,2152.2 1472.1,2078.7 1524,2001 1576.2,1919 1628.5,1832.9 1681.1,1742.5 1733.8,1648 1786.7,1549.2 1839.7,1446.2 1892.9,1339.1 1946.3,1227.7 1999.8,1112.1 2053.5,992.4 2107.3,868.4 2161.2,740.2 2215.2,607.8 2269.4,471.3 2323.7,330.5 2378.1,185.5" stroke="#5d616e"/>
<polyline points="603.3,2759.5 641.4,2757.4 683.6,2751.1 727.5,2740.6 772.6,2725.9 818.6,2707 865.3,2683.9 912.5,2656.5 960.3,2625 1008.6,2589.3 1057.3,2549.4 1106.3,2505.3 1155.7,2456.9 1205.4,2404.4 1255.4,2347.7 1305.7,2286.7 1356.2,2221.6 1407,2152.2 1458,2078.7 1509.2,2001 1560.7,1919 1612.3,1832.9 1664.1,1742.5 1716.1,1648 1768.3,1549.2 1820.6,1446.2 1873.1,1339.1 1925.7,1227.7 1978.5,1112.1 2031.5,992.4 2084.6,868.4 2137.8,740.2 2191.1,607.8 2244.6,471.3 2298.2,330.5 2351.9,185.5" stroke="#5e636f"/>
<polyline points="603.3,2759.5 640.5,2757.4 681.9,2751.1 725.1,2740.6 769.4,2725.9 814.6,2707 860.5,2683.9 907,2656.5 954.1,2625 1001.6,2589.3 1049.6,2549.4 1097.9,2505.3 1146.6,2456.9 1195.6,2404.4 1244.8,2347.7 1294.4,2286.7 1344.2,2221.6 1394.3,2152.2 1444.6,2078.7 1495.2,2001 1545.9,1919 1596.8,1832.9 1648,1742.5 1699.3,1648 1750.8,1549.2 1802.4,1446.2 1854.2,1339.1 1906.2,1227.7 1958.3,1112.1 2010.6,992.4 2063,868.4 2115.6,740.2 2168.3,607.8 2221.1,471.3 2274,330.5 2327.1,185.5" stroke="#60646f"/>
<polyline points="603.3,2759.5 639.7,2757.4 680.3,2751.1 722.7,2740.6 766.3,2725.9 810.7,2707 855.9,2683.9 901.8,2656.5 948.1,2625 995,2589.3 1042.2,2549.4 1089.8,2505.3 1137.8,2456.9 1186.2,2404.4 1234.8,2347.7 1283.7,2286.7 1332.9,2221.6 1382.3,2152.2 1432,2078.7 1481.8,2001 1531.9,1919 1582.2,1832.9 1632.7,1742.5 1683.4,1648 1734.3,1549.2 1785.3,1446.2 1836.5,1339.1 1887.9,1227.7 1939.4,1112.1 1991.1,992.4 2042.9,868.4 2094.8,740.2 2146.9,607.8 2199.1,471.3 2251.5,330.5 2304,185.5" stroke="#62656f"/>
<polyline points="603.3,2759.5 638.9,2757.4 678.8,2751.1 720.4,2740.6 763.3,2725.9 807,2707 851.5,2683.9 896.7,2656.5 942.4,2625 988.5,2589.3 1035.1,2549.4 1082.1,2505.3 1129.5,2456.9 1177.2,2404.4 1225.2,2347.7 1273.4,2286.7 1322,2221.6 1370.8,2152.2 1419.9,2078.7 1469.1,2001 1518.7,1919 1568.4,1832.9 1618.3,1742.5 1668.4,1648 1718.6,1549.2 1769.1,1446.2 1819.7,1339.1 1870.5,1227.7 1921.5,1112.1 1972.6,992.4 2023.8,868.4 2075.2,740.2 2126.7,607.8 2178.4,471.3 2230.2,330.5 2282.1,185.5" stroke="#646770"/>
<polyline points="603.3,2759.5 638.1,2757.4 677.2,2751.1 718.2,2740.6 760.3,2725.9 803.4,2707 847.2,2683.9 891.7,2656.5 936.8,2625 982.3,2589.3 1028.3,2549.4 1074.7,2505.3 1121.4,2456.9 1168.5,2404.4 1215.9,2347.7 1263.6,2286.7 1311.5,2221.6 1359.8,2152.2 1408.2,2078.7 1456.9,2001 1505.9,1919 1555,1832.9 1604.4,1742.5 1653.9,1648 1703.6,1549.2 1753.5,1446.2 1803.6,1339.1 1853.9,1227.7 1904.3,1112.1 1954.9,992.4 2005.6,868.4 2056.4,740.2 2107.5,607.8 2158.6,471.3 2209.9,330.5 2261.3,185.5" stroke="#656870"/>
<polyline points="603.3,2759.5 637.3,2757.4 675.7,2751.1 716,2740.6 757.4,2725.9 799.9,2707 843.1,2683.9 886.9,2656.5 931.3,2625 976.2,2589.3 1021.6,2549.4 1067.4,2505.3 1113.5,2456.9 1160,2404.4 1206.8,2347.7 1254,2286.7 1301.4,2221.6 1349,2152.2 1396.9,2078.7 1445.1,2001 1493.5,1919 1542.1,1832.9 1590.9,1742.5 1639.9,1648 1689.1,1549.2 1738.5,1446.2 1788,1339.1 1837.8,1227.7 1887.7,1112.1 1937.7,992.4 1987.9,868.4 2038.3,740.2 2088.8,607.8 2139.5,471.3 2190.2,330.5 2241.2,185.5" stroke="#666970"/>
<polyline points="603.3,2759.5 636.6,2757.4 674.3,2751.1 713.8,2740.6 754.6,2725.9 796.4,2707 839,2683.9 882.2,2656.5 926,2625 970.3,2589.3 1015.1,2549.4 1060.3,2505.3 1105.8,2456.9 1151.8,2404.4 1198,2347.7 1244.6,2286.7 1291.4,2221.6 1338.5,2152.2 1385.9,2078.7 1433.5,2001 1481.4,1919 1529.4,1832.9 1577.7,1742.5 1626.2,1648 1674.9,1549.2 1723.7,1446.2 1772.8,1339.1 1822,1227.7 1871.4,1112.1 1921,992.4 1970.7,868.4 2020.5,740.2 2070.6,607.8 2120.7,471.3 2171,330.5 2221.5,185.5" stroke="#686a71"/>
<polyline points="603.3,2759.5 635.8,2757.4 672.8,2751.1 711.7,2740.6 751.9,2725.9 793,2707 835,2683.9 877.6,2656.5 920.8,2625 964.5,2589.3 1008.7,2549.4 1053.3,2505.3 1098.3,2456.9 1143.6,2404.4 1189.3,2347.7 1235.3,2286.7 1281.6,2221.6 1328.2,2152.2 1375,2078.7 1422.1,2001 1469.4,1919 1516.9,1832.9 1564.7,1742.5 1612.7,1648 1660.8,1549.2 1709.2,1446.2 1757.7,1339.1 1806.4,1227.7 1855.3,1112.1 1904.4,992.4 1953.6,868.4 2003,740.2 2052.5,607.8 2102.2,471.3 2152,330.5 2202,185.5" stroke="#6a6c71"/>
<polyline points="603.3,2759.5 635.1,2757.4 671.4,2751.1 709.7,2740.6 749.2,2725.9 789.7,2707 831,2683.9 873,2656.5 915.6,2625 958.7,2589.3 1002.3,2549.4 1046.3,2505.3 1090.8,2456.9 1135.5,2404.4 1180.7,2347.7 1226.1,2286.7 1271.9,2221.6 1317.9,2152.2 1364.2,2078.7 1410.7,2001 1457.5,1919 1504.5,1832.9 1551.7,1742.5 1599.2,1648 1646.8,1549.2 1694.7,1446.2 1742.7,1339.1 1790.9,1227.7 1839.3,1112.1 1887.9,992.4 1936.6,868.4 1985.5,740.2 2034.5,607.8 2083.7,471.3 2133.1,330.5 2182.5,185.5" stroke="#6c6d72"/>
<polyline points="603.3,2759.5 634.4,2757.4 670.1,2751.1 707.6,2740.6 746.5,2725.9 786.4,2707 827.1,2683.9 868.5,2656.5 910.5,2625 953,2589.3 996,2549.4 1039.4,2505.3 1083.3,2456.9 1127.5,2404.4 1172.1,2347.7 1217,2286.7 1262.1,2221.6 1307.6,2152.2 1353.4,2078.7 1399.4,2001 1445.6,1919 1492.1,1832.9 1538.8,1742.5 1585.7,1648 1632.9,1549.2 1680.2,1446.2 1727.7,1339.1 1775.4,1227.7 1823.3,1112.1 1871.3,992.4 1919.6,868.4 1967.9,740.2 2016.5,607.8 2065.2,471.3 2114,330.5 2163,185.5" stroke="#6c6e72"/>
<polyline points="603.3,2759.5 633.7,2757.4 668.7,2751.1 705.6,2740.6 743.8,2725.9 783.1,2707 823.2,2683.9 864,2656.5 905.3,2625 947.3,2589.3 989.7,2549.4 1032.6,2505.3 1075.9,2456.9 1119.5,2404.4 1163.5,2347.7 1207.8,2286.7 1252.5,2221.6 1297.4,2152.2 1342.6,2078.7 1388.1,2001 1433.8,1919 1479.7,1832.9 1525.9,1742.5 1572.3,1648 1618.9,1549.2 1665.7,1446.2 1712.7,1339.1 1759.9,1227.7 1807.3,1112.1 1854.9,992.4 1902.6,868.4 1950.5,740.2 1998.5,607.8 2046.7,471.3 2095.1,330.5 2143.6,185.5" stroke="#6e6f73"/>
<polyline points="603.3,2759.5 633,2757.4 667.3,2751.1 703.6,2740.6 741.2,2725.9 779.8,2707 819.3,2683.9 859.5,2656.5 900.3,2625 941.6,2589.3 983.5,2549.4 1025.8,2505.3 1068.5,2456.9 1111.6,2404.4 1155,2347.7 1198.8,2286.7 1242.9,2221.6 1287.3,2152.2 1331.9,2078.7 1376.9,2001 1422.1,1919 1467.5,1832.9 1513.2,1742.5 1559.1,1648 1605.2,1549.2 1651.5,1446.2 1698,1339.1 1744.7,1227.7 1791.5,1112.1 1838.6,992.4 1885.8,868.4 1933.2,740.2 1980.8,607.8 2028.5,471.3 2076.4,330.5 2124.4,185.5" stroke="#707173"/>
<polyline points="603.3,2759.5 632.3,2757.4 666,2751.1 701.6,2740.6 738.6,2725.9 776.6,2707 815.4,2683.9 855,2656.5 895.2,2625 936,2589.3 977.3,2549.4 1019,2505.3 1061.2,2456.9 1103.7,2404.4 1146.6,2347.7 1189.9,2286.7 1233.4,2221.6 1277.3,2152.2 1321.4,2078.7 1365.8,2001 1410.5,1919 1455.4,1832.9 1500.6,1742.5 1546,1648 1591.6,1549.2 1637.4,1446.2 1683.4,1339.1 1729.6,1227.7 1776,1112.1 1822.6,992.4 1869.3,868.4 1916.2,740.2 1963.3,607.8 2010.6,471.3 2058,330.5 2105.6,185.5" stroke="#727274"/>
<polyline points="603.3,2759.5 631.7,2757.4 664.6,2751.1 699.6,2740.6 736,2725.9 773.4,2707 811.7,2683.9 850.7,2656.5 890.3,2625 930.5,2589.3 971.2,2549.4 1012.4,2505.3 1054,2456.9 1096,2404.4 1138.4,2347.7 1181.1,2286.7 1224.1,2221.6 1267.5,2152.2 1311.1,2078.7 1355,2001 1399.2,1919 1443.6,1832.9 1488.2,1742.5 1533.1,1648 1578.2,1549.2 1623.5,1446.2 1669.1,1339.1 1714.8,1227.7 1760.7,1112.1 1806.8,992.4 1853.1,868.4 1899.5,740.2 1946.1,607.8 1992.9,471.3 2039.9,330.5 2087,185.5" stroke="#737475"/>
<polyline points="603.3,2759.5 631,2757.4 663.4,2751.1 697.7,2740.6 733.5,2725.9 770.3,2707 808,2683.9 846.4,2656.5 885.5,2625 925.2,2589.3 965.3,2549.4 1006,2505.3 1047,2456.9 1088.5,2404.4 1130.3,2347.7 1172.5,2286.7 1215,2221.6 1257.9,2152.2 1301,2078.7 1344.4,2001 1388,1919 1432,1832.9 1476.1,1742.5 1520.5,1648 1565.1,1549.2 1610,1446.2 1655,1339.1 1700.2,1227.7 1745.7,1112.1 1791.3,992.4 1837.1,868.4 1883.1,740.2 1929.3,607.8 1975.6,471.3 2022.1,330.5 2068.8,185.5" stroke="#747475"/>
<polyline points="603.3,2759.5 630.4,2757.4 662.1,2751.1 695.9,2740.6 731.1,2725.9 767.3,2707 804.5,2683.9 842.3,2656.5 880.9,2625 920,2589.3 959.6,2549.4 999.7,2505.3 1040.2,2456.9 1081.2,2404.4 1122.5,2347.7 1164.2,2286.7 1206.2,2221.6 1248.5,2152.2 1291.1,2078.7 1334,2001 1377.2,1919 1420.6,1832.9 1464.3,1742.5 1508.2,1648 1552.3,1549.2 1596.7,1446.2 1641.3,1339.1 1686,1227.7 1731,1112.1 1776.2,992.4 1821.5,868.4 1867,740.2 1912.8,607.8 1958.6,471.3 2004.7,330.5 2050.9,185.5" stroke="#767676"/>
<polyline points="603.3,2759.5 629.8,2757.4 660.9,2751.1 694.2,2740.6 728.8,2725.9 764.5,2707 801,2683.9 838.4,2656.5 876.3,2625 914.9,2589.3 954,2549.4 993.6,2505.3 1033.6,2456.9 1074.1,2404.4 1114.9,2347.7 1156,2286.7 1197.5,2221.6 1239.4,2152.2 1281.5,2078.7 1323.9,2001 1366.6,1919 1409.5,1832.9 1452.7,1742.5 1496.2,1648 1539.8,1549.2 1583.7,1446.2 1627.8,1339.1 1672.1,1227.7 1716.6,1112.1 1761.4,992.4 1806.2,868.4 1851.3,740.2 1896.6,607.8 1942,471.3 1987.6,330.5 2033.4,185.5" stroke="#777777"/>
<polyline points="603.3,2759.5 629.2,2757.4 659.8,2751.1 692.5,2740.6 726.5,2725.9 761.7,2707 797.7,2683.9 834.5,2656.5 872,2625 910.1,2589.3 948.7,2549.4 987.7,2505.3 1027.3,2456.9 1067.2,2404.4 1107.5,2347.7 1148.2,2286.7 1189.2,2221.6 1230.5,2152.2 1272.2,2078.7 1314.1,2001 1356.3,1919 1398.8,1832.9 1441.5,1742.5 1484.5,1648 1527.7,1549.2 1571.1,1446.2 1614.8,1339.1 1658.6,1227.7 1702.7,1112.1 1746.9,992.4 1791.4,868.4 1836,740.2 1880.8,607.8 1925.8,471.3 1970.9,330.5 2016.2,185.5" stroke="#797977"/>
<polyline points="603.3,2759.5 628.7,2757.4 658.8,2751.1 690.9,2740.6 724.4,2725.9 759.1,2707 794.6,2683.9 830.9,2656.5 867.9,2625 905.4,2589.3 943.5,2549.4 982.1,2505.3 1021.1,2456.9 1060.6,2404.4 1100.4,2347.7 1140.6,2286.7 1181.1,2221.6 1222,2152.2 1263.2,2078.7 1304.6,2001 1346.4,1919 1388.4,1832.9 1430.6,1742.5 1473.1,1648 1515.9,1549.2 1558.9,1446.2 1602,1339.1 1645.4,1227.7 1689,1112.1 1732.8,992.4 1776.8,868.4 1821,740.2 1865.4,607.8 1909.9,471.3 1954.6,330.5 1999.5,185.5" stroke="#7b7a78"/>
<polyline points="603.3,2759.5 628.2,2757.4 657.8,2751.1 689.4,2740.6 722.4,2725.9 756.6,2707 791.6,2683.9 827.4,2656.5 863.9,2625 901,2589.3 938.6,2549.4 976.7,2505.3 1015.2,2456.9 1054.2,2404.4 1093.6,2347.7 1133.3,2286.7 1173.4,2221.6 1213.8,2152.2 1254.5,2078.7 1295.5,2001 1336.8,1919 1378.3,1832.9 1420.1,1742.5 1462.2,1648 1504.4,1549.2 1547,1446.2 1589.7,1339.1 1632.7,1227.7 1675.8,1112.1 1719.2,992.4 1762.7,868.4 1806.5,740.2 1850.4,607.8 1894.5,471.3 1938.8,330.5 1983.2,185.5" stroke="#7d7c78"/>
<polyline points="603.3,2759.5 627.7,2757.4 656.8,2751.1 688,2740.6 720.5,2725.9 754.2,2707 788.8,2683.9 824.1,2656.5 860.1,2625 896.7,2589.3 933.9,2549.4 971.5,2505.3 1009.6,2456.9 1048.1,2404.4 1087,2347.7 1126.3,2286.7 1165.9,2221.6 1205.9,2152.2 1246.1,2078.7 1286.7,2001 1327.5,1919 1368.6,1832.9 1409.9,1742.5 1451.6,1648 1493.4,1549.2 1535.5,1446.2 1577.8,1339.1 1620.3,1227.7 1663,1112.1 1705.9,992.4 1749,868.4 1792.3,740.2 1835.8,607.8 1879.5,471.3 1923.3,330.5 1967.3,185.5" stroke="#7e7c78"/>
<polyline points="603.3,2759.5 627.3,2757.4 655.9,2751.1 686.6,2740.6 718.8,2725.9 752,2707 786.1,2683.9 821,2656.5 856.6,2625 892.7,2589.3 929.4,2549.4 966.6,2505.3 1004.2,2456.9 1042.3,2404.4 1080.8,2347.7 1119.6,2286.7 1158.8,2221.6 1198.3,2152.2 1238.1,2078.7 1278.2,2001 1318.6,1919 1359.2,1832.9 1400.1,1742.5 1441.3,1648 1482.7,1549.2 1524.3,1446.2 1566.2,1339.1 1608.3,1227.7 1650.5,1112.1 1693,992.4 1735.7,868.4 1778.6,740.2 1821.6,607.8 1864.9,471.3 1908.3,330.5 1951.8,185.5" stroke="#7f7e78"/>
<polyline points="603.3,2759.5 626.9,2757.4 655.1,2751.1 685.4,2740.6 717.1,2725.9 749.9,2707 783.5,2683.9 818,2656.5 853.1,2625 888.8,2589.3 925.1,2549.4 961.9,2505.3 999.1,2456.9 1036.7,2404.4 1074.7,2347.7 1113.1,2286.7 1151.9,2221.6 1190.9,2152.2 1230.3,2078.7 1270,2001 1309.9,1919 1350.2,1832.9 1390.6,1742.5 1431.4,1648 1472.4,1549.2 1513.6,1446.2 1555,1339.1 1596.6,1227.7 1638.5,1112.1 1680.5,992.4 1722.8,868.4 1765.2,740.2 1807.9,607.8 1850.7,471.3 1893.6,330.5 1936.8,185.5" stroke="#817f78"/>
<polyline points="603.3,2759.5 626.5,2757.4 654.3,2751.1 684.2,2740.6 715.4,2725.9 747.8,2707 781.1,2683.9 815.1,2656.5 849.8,2625 885.1,2589.3 921,2549.4 957.3,2505.3 994.1,2456.9 1031.3,2404.4 1068.9,2347.7 1106.9,2286.7 1145.2,2221.6 1183.8,2152.2 1222.8,2078.7 1262,2001 1301.6,1919 1341.4,1832.9 1381.5,1742.5 1421.8,1648 1462.3,1549.2 1503.1,1446.2 1544.1,1339.1 1585.4,1227.7 1626.8,1112.1 1668.4,992.4 1710.3,868.4 1752.3,740.2 1794.5,607.8 1836.9,471.3 1879.4,330.5 1922.2,185.5" stroke="#838179"/>
<polyline points="603.3,2759.5 626.1,2757.4 653.6,2751.1 683,2740.6 713.9,2725.9 745.8,2707 778.7,2683.9 812.3,2656.5 846.6,2625 881.5,2589.3 917,2549.4 952.9,2505.3 989.3,2456.9 1026.1,2404.4 1063.3,2347.7 1100.8,2286.7 1138.7,2221.6 1177,2152.2 1215.5,2078.7 1254.4,2001 1293.5,1919 1332.9,1832.9 1372.5,1742.5 1412.5,1648 1452.6,1549.2 1493,1446.2 1533.6,1339.1 1574.4,1227.7 1615.4,1112.1 1656.6,992.4 1698.1,868.4 1739.7,740.2 1781.5,607.8 1823.5,471.3 1865.6,330.5 1907.9,185.5" stroke="#858279"/>
<polyline points="603.3,2759.5 625.8,2757.4 652.8,2751.1 681.9,2740.6 712.4,2725.9 744,2707 776.4,2683.9 809.7,2656.5 843.6,2625 878.1,2589.3 913.1,2549.4 948.6,2505.3 984.6,2456.9 1021,2404.4 1057.8,2347.7 1095,2286.7 1132.5,2221.6 1170.3,2152.2 1208.5,2078.7 1246.9,2001 1285.6,1919 1324.6,1832.9 1363.9,1742.5 1403.4,1648 1443.1,1549.2 1483.1,1446.2 1523.3,1339.1 1563.7,1227.7 1604.4,1112.1 1645.2,992.4 1686.2,868.4 1727.4,740.2 1768.8,607.8 1810.4,471.3 1852.1,330.5 1894.1,185.5" stroke="#868379"/>
<polyline points="603.3,2759.5 625.5,2757.4 652.1,2751.1 680.8,2740.6 710.9,2725.9 742.1,2707 774.2,2683.9 807.1,2656.5 840.6,2625 874.7,2589.3 909.4,2549.4 944.5,2505.3 980.1,2456.9 1016.1,2404.4 1052.5,2347.7 1089.3,2286.7 1126.4,2221.6 1163.9,2152.2 1201.6,2078.7 1239.7,2001 1278,1919 1316.6,1832.9 1355.5,1742.5 1394.6,1648 1433.9,1549.2 1473.5,1446.2 1513.3,1339.1 1553.4,1227.7 1593.6,1112.1 1634,992.4 1674.6,868.4 1715.5,740.2 1756.5,607.8 1797.7,471.3 1839,330.5 1880.6,185.5" stroke="#888578"/>
<polyline points="603.3,2759.5 625.1,2757.4 651.5,2751.1 679.8,2740.6 709.6,2725.9 740.4,2707 772.1,2683.9 804.6,2656.5 837.7,2625 871.5,2589.3 905.7,2549.4 940.5,2505.3 975.7,2456.9 1011.4,2404.4 1047.4,2347.7 1083.8,2286.7 1120.5,2221.6 1157.6,2152.2 1195,2078.7 1232.6,2001 1270.6,1919 1308.8,1832.9 1347.3,1742.5 1386,1648 1425,1549.2 1464.2,1446.2 1503.6,1339.1 1543.2,1227.7 1583.1,1112.1 1623.1,992.4 1663.4,868.4 1703.8,740.2 1744.4,607.8 1785.2,471.3 1826.2,330.5 1867.4,185.5" stroke="#8a8678"/>
<polyline points="603.3,2759.5 624.8,2757.4 650.8,2751.1 678.8,2740.6 708.2,2725.9 738.7,2707 770,2683.9 802.2,2656.5 834.9,2625 868.3,2589.3 902.2,2549.4 936.6,2505.3 971.5,2456.9 1006.7,2404.4 1042.4,2347.7 1078.4,2286.7 1114.8,2221.6 1151.5,2152.2 1188.5,2078.7 1225.8,2001 1263.4,1919 1301.2,1832.9 1339.3,1742.5 1377.7,1648 1416.3,1549.2 1455.1,1446.2 1494.1,1339.1 1533.4,1227.7 1572.9,1112.1 1612.5,992.4 1652.4,868.4 1692.5,740.2 1732.7,607.8 1773.1,471.3 1813.7,330.5 1854.5,185.5" stroke="#8c8878"/>
<polyline points="603.3,2759.5 624.5,2757.4 650.2,2751.1 677.8,2740.6 706.9,2725.9 737,2707 768,2683.9 799.8,2656.5 832.2,2625 865.3,2589.3 898.8,2549.4 932.8,2505.3 967.3,2456.9 1002.2,2404.4 1037.5,2347.7 1073.2,2286.7 1109.2,2221.6 1145.5,2152.2 1182.2,2078.7 1219.1,2001 1256.3,1919 1293.8,1832.9 1331.5,1742.5 1369.5,1648 1407.8,1549.2 1446.2,1446.2 1484.9,1339.1 1523.8,1227.7 1562.9,1112.1 1602.2,992.4 1641.7,868.4 1681.4,740.2 1721.2,607.8 1761.3,471.3 1801.5,330.5 1841.9,185.5" stroke="#8e8978"/>
<polyline points="603.3,2759.5 624.2,2757.4 649.6,2751.1 676.9,2740.6 705.6,2725.9 735.4,2707 766.1,2683.9 797.5,2656.5 829.6,2625 862.3,2589.3 895.5,2549.4 929.2,2505.3 963.3,2456.9 997.8,2404.4 1032.8,2347.7 1068.1,2286.7 1103.7,2221.6 1139.7,2152.2 1176,2078.7 1212.6,2001 1249.4,1919 1286.6,1832.9 1323.9,1742.5 1361.6,1648 1399.4,1549.2 1437.5,1446.2 1475.9,1339.1 1514.4,1227.7 1553.1,1112.1 1592.1,992.4 1631.2,868.4 1670.5,740.2 1710.1,607.8 1749.7,471.3 1789.6,330.5 1829.7,185.5" stroke="#8f8a78"/>
<polyline points="603.3,2759.5 623.9,2757.4 649,2751.1 676,2740.6 704.4,2725.9 733.8,2707 764.2,2683.9 795.3,2656.5 827,2625 859.3,2589.3 892.2,2549.4 925.6,2505.3 959.4,2456.9 993.6,2404.4 1028.2,2347.7 1063.1,2286.7 1098.4,2221.6 1134,2152.2 1170,2078.7 1206.2,2001 1242.7,1919 1279.5,1832.9 1316.5,1742.5 1353.8,1648 1391.3,1549.2 1429.1,1446.2 1467,1339.1 1505.2,1227.7 1543.6,1112.1 1582.2,992.4 1621,868.4 1660,740.2 1699.1,607.8 1738.4,471.3 1778,330.5 1817.6,185.5" stroke="#918b78"/>
<polyline points="603.3,2759.5 623.7,2757.4 648.4,2751.1 675.1,2740.6 703.2,2725.9 732.3,2707 762.3,2683.9 793.1,2656.5 824.5,2625 856.5,2589.3 889,2549.4 922,2505.3 955.5,2456.9 989.4,2404.4 1023.6,2347.7 1058.2,2286.7 1093.2,2221.6 1128.5,2152.2 1164.1,2078.7 1200,2001 1236.1,1919 1272.6,1832.9 1309.3,1742.5 1346.2,1648 1383.4,1549.2 1420.8,1446.2 1458.4,1339.1 1496.2,1227.7 1534.3,1112.1 1572.5,992.4 1611,868.4 1649.6,740.2 1688.4,607.8 1727.4,471.3 1766.6,330.5 1805.9,185.5" stroke="#928d78"/>
<polyline points="603.3,2759.5 623.4,2757.4 647.8,2751.1 674.2,2740.6 702,2725.9 730.8,2707 760.5,2683.9 790.9,2656.5 822,2625 853.7,2589.3 885.9,2549.4 918.6,2505.3 951.7,2456.9 985.3,2404.4 1019.2,2347.7 1053.5,2286.7 1088.1,2221.6 1123.1,2152.2 1158.3,2078.7 1193.9,2001 1229.7,1919 1265.8,1832.9 1302.2,1742.5 1338.8,1648 1375.6,1549.2 1412.7,1446.2 1449.9,1339.1 1487.4,1227.7 1525.2,1112.1 1563.1,992.4 1601.2,868.4 1639.4,740.2 1677.9,607.8 1716.6,471.3 1755.4,330.5 1794.4,185.5" stroke="#948e77"/>
<polyline points="603.3,2759.5 623.1,2757.4 647.3,2751.1 673.4,2740.6 700.8,2725.9 729.3,2707 758.7,2683.9 788.8,2656.5 819.6,2625 851,2589.3 882.8,2549.4 915.2,2505.3 948,2456.9 981.2,2404.4 1014.8,2347.7 1048.8,2286.7 1083.1,2221.6 1117.7,2152.2 1152.7,2078.7 1187.9,2001 1223.4,1919 1259.2,1832.9 1295.2,1742.5 1331.5,1648 1368,1549.2 1404.7,1446.2 1441.7,1339.1 1478.8,1227.7 1516.2,1112.1 1553.8,992.4 1591.6,868.4 1629.5,740.2 1667.7,607.8 1706,471.3 1744.5,330.5 1783.1,185.5" stroke="#969077"/>
<polyline points="603.3,2759.5 622.9,2757.4 646.7,2751.1 672.5,2740.6 699.7,2725.9 727.9,2707 756.9,2683.9 786.8,2656.5 817.2,2625 848.3,2589.3 879.8,2549.4 911.9,2505.3 944.4,2456.9 977.3,2404.4 1010.6,2347.7 1044.2,2286.7 1078.2,2221.6 1112.5,2152.2 1147.1,2078.7 1182,2001 1217.2,1919 1252.7,1832.9 1288.4,1742.5 1324.3,1648 1360.5,1549.2 1396.9,1446.2 1433.5,1339.1 1470.4,1227.7 1507.4,1112.1 1544.7,992.4 1582.1,868.4 1619.8,740.2 1657.6,607.8 1695.6,471.3 1733.8,330.5 1772.1,185.5" stroke="#979177"/>
<polyline points="603.3,2759.5 622.6,2757.4 646.2,2751.1 671.7,2740.6 698.5,2725.9 726.4,2707 755.2,2683.9 784.7,2656.5 814.9,2625 845.6,2589.3 876.9,2549.4 908.6,2505.3 940.8,2456.9 973.4,2404.4 1006.4,2347.7 1039.7,2286.7 1073.4,2221.6 1107.4,2152.2 1141.7,2078.7 1176.3,2001 1211.1,1919 1246.3,1832.9 1281.7,1742.5 1317.3,1648 1353.2,1549.2 1389.3,1446.2 1425.6,1339.1 1462.1,1227.7 1498.8,1112.1 1535.8,992.4 1572.9,868.4 1610.2,740.2 1647.7,607.8 1685.4,471.3 1723.3,330.5 1761.3,185.5" stroke="#999277"/>
<polyline points="603.3,2759.5 622.3,2757.4 645.6,2751.1 670.8,2740.6 697.4,2725.9 725,2707 753.5,2683.9 782.7,2656.5 812.6,2625 843,2589.3 874,2549.4 905.4,2505.3 937.3,2456.9 969.6,2404.4 1002.2,2347.7 1035.3,2286.7 1068.6,2221.6 1102.3,2152.2 1136.3,2078.7 1170.6,2001 1205.2,1919 1240,1832.9 1275.1,1742.5 1310.4,1648 1346,1549.2 1381.7,1446.2 1417.8,1339.1 1454,1227.7 1490.4,1112.1 1527,992.4 1563.9,868.4 1600.9,740.2 1638,607.8 1675.4,471.3 1713,330.5 1750.7,185.5" stroke="#9b9476"/>
<polyline points="603.3,2759.5 622.1,2757.4 645.1,2751.1 670,2740.6 696.3,2725.9 723.6,2707 751.8,2683.9 780.7,2656.5 810.3,2625 840.4,2589.3 871.1,2549.4 902.2,2505.3 933.8,2456.9 965.8,2404.4 998.2,2347.7 1030.9,2286.7 1064,2221.6 1097.4,2152.2 1131.1,2078.7 1165,2001 1199.3,1919 1233.8,1832.9 1268.6,1742.5 1303.6,1648 1338.9,1549.2 1374.4,1446.2 1410.1,1339.1 1446,1227.7 1482.1,1112.1 1518.4,992.4 1555,868.4 1591.7,740.2 1628.5,607.8 1665.6,471.3 1702.9,330.5 1740.3,185.5" stroke="#9d9576"/>
<polyline points="603.3,2759.5 621.8,2757.4 644.6,2751.1 669.2,2740.6 695.2,2725.9 722.3,2707 750.1,2683.9 778.8,2656.5 808,2625 837.9,2589.3 868.3,2549.4 899.1,2505.3 930.4,2456.9 962.1,2404.4 994.2,2347.7 1026.6,2286.7 1059.4,2221.6 1092.5,2152.2 1125.9,2078.7 1159.6,2001 1193.5,1919 1227.7,1832.9 1262.2,1742.5 1297,1648 1331.9,1549.2 1367.1,1446.2 1402.5,1339.1 1438.1,1227.7 1474,1112.1 1510,992.4 1546.2,868.4 1582.6,740.2 1619.2,607.8 1656,471.3 1692.9,330.5 1730,185.5" stroke="#9f9775"/>
<polyline points="603.3,2759.5 621.6,2757.4 644,2751.1 668.4,2740.6 694.1,2725.9 720.9,2707 748.5,2683.9 776.8,2656.5 805.8,2625 835.4,2589.3 865.5,2549.4 896,2505.3 927,2456.9 958.4,2404.4 990.2,2347.7 1022.4,2286.7 1054.8,2221.6 1087.6,2152.2 1120.8,2078.7 1154.2,2001 1187.8,1919 1221.8,1832.9 1256,1742.5 1290.4,1648 1325.1,1549.2 1360,1446.2 1395.1,1339.1 1430.4,1227.7 1466,1112.1 1501.7,992.4 1537.6,868.4 1573.7,740.2 1610,607.8 1646.5,471.3 1683.2,330.5 1720,185.5" stroke="#a09875"/>
<polyline points="603.3,2759.5 621.3,2757.4 643.5,2751.1 667.6,2740.6 693.1,2725.9 719.5,2707 746.9,2683.9 774.9,2656.5 803.6,2625 832.9,2589.3 862.7,2549.4 893,2505.3 923.7,2456.9 954.8,2404.4 986.3,2347.7 1018.2,2286.7 1050.4,2221.6 1082.9,2152.2 1115.7,2078.7 1148.9,2001 1182.2,1919 1215.9,1832.9 1249.8,1742.5 1284,1648 1318.4,1549.2 1353,1446.2 1387.8,1339.1 1422.9,1227.7 1458.1,1112.1 1493.6,992.4 1529.2,868.4 1565,740.2 1601.1,607.8 1637.3,471.3 1673.6,330.5 1710.2,185.5" stroke="#a29975"/>
<polyline points="603.3,2759.5 621.1,2757.4 643,2751.1 666.9,2740.6 692,2725.9 718.2,2707 745.3,2683.9 773.1,2656.5 801.5,2625 830.5,2589.3 860,2549.4 890,2505.3 920.5,2456.9 951.3,2404.4 982.5,2347.7 1014.1,2286.7 1046.1,2221.6 1078.3,2152.2 1110.8,2078.7 1143.7,2001 1176.8,1919 1210.2,1832.9 1243.8,1742.5 1277.7,1648 1311.8,1549.2 1346.1,1446.2 1380.7,1339.1 1415.5,1227.7 1450.5,1112.1 1485.6,992.4 1521,868.4 1556.6,740.2 1592.3,607.8 1628.2,471.3 1664.3,330.5 1700.6,185.5" stroke="#a49b74"/>
<polyline points="603.3,2759.5 620.8,2757.4 642.5,2751.1 666.1,2740.6 691,2725.9 716.9,2707 743.7,2683.9 771.3,2656.5 799.4,2625 828.1,2589.3 857.4,2549.4 887.1,2505.3 917.3,2456.9 947.9,2404.4 978.8,2347.7 1010.1,2286.7 1041.8,2221.6 1073.8,2152.2 1106.1,2078.7 1138.6,2001 1171.5,1919 1204.6,1832.9 1237.9,1742.5 1271.5,1648 1305.4,1549.2 1339.5,1446.2 1373.8,1339.1 1408.3,1227.7 1443,1112.1 1477.9,992.4 1513,868.4 1548.3,740.2 1583.8,607.8 1619.4,471.3 1655.3,330.5 1691.3,185.5" stroke="#a69c74"/>
<polyline points="603.3,2759.5 620.6,2757.4 642,2751.1 665.4,2740.6 690,2725.9 715.7,2707 742.2,2683.9 769.5,2656.5 797.4,2625 825.8,2589.3 854.8,2549.4 884.3,2505.3 914.2,2456.9 944.5,2404.4 975.2,2347.7 1006.3,2286.7 1037.6,2221.6 1069.4,2152.2 1101.4,2078.7 1133.7,2001 1166.3,1919 1199.1,1832.9 1232.2,1742.5 1265.5,1648 1299.1,1549.2 1332.9,1446.2 1367,1339.1 1401.2,1227.7 1435.7,1112.1 1470.3,992.4 1505.2,868.4 1540.2,740.2 1575.4,607.8 1610.8,471.3 1646.4,330.5 1682.1,185.5" stroke="#a89e73"/>
<polyline points="603.3,2759.5 620.4,2757.4 641.6,2751.1 664.6,2740.6 689,2725.9 714.4,2707 740.7,2683.9 767.7,2656.5 795.4,2625 823.6,2589.3 852.3,2549.4 881.5,2505.3 911.2,2456.9 941.2,2404.4 971.6,2347.7 1002.4,2286.7 1033.6,2221.6 1065,2152.2 1096.8,2078.7 1128.8,2001 1161.1,1919 1193.7,1832.9 1226.6,1742.5 1259.7,1648 1293,1549.2 1326.6,1446.2 1360.3,1339.1 1394.3,1227.7 1428.5,1112.1 1462.9,992.4 1497.5,868.4 1532.3,740.2 1567.2,607.8 1602.4,471.3 1637.7,330.5 1673.2,185.5" stroke="#a99f73"/>
<polyline points="603.3,2759.5 620.2,2757.4 641.1,2751.1 663.9,2740.6 688.1,2725.9 713.2,2707 739.2,2683.9 766,2656.5 793.4,2625 821.3,2589.3 849.8,2549.4 878.8,2505.3 908.2,2456.9 938,2404.4 968.1,2347.7 998.7,2286.7 1029.6,2221.6 1060.8,2152.2 1092.3,2078.7 1124.1,2001 1156.1,1919 1188.5,1832.9 1221.1,1742.5 1253.9,1648 1287,1549.2 1320.3,1446.2 1353.8,1339.1 1387.6,1227.7 1421.5,1112.1 1455.7,992.4 1490,868.4 1524.5,740.2 1559.3,607.8 1594.1,471.3 1629.2,330.5 1664.5,185.5" stroke="#aba072"/>
<polyline points="603.3,2759.5 619.9,2757.4 640.6,2751.1 663.2,2740.6 687.1,2725.9 712,2707 737.8,2683.9 764.3,2656.5 791.4,2625 819.2,2589.3 847.4,2549.4 876.1,2505.3 905.2,2456.9 934.8,2404.4 964.7,2347.7 995,2286.7 1025.6,2221.6 1056.6,2152.2 1087.9,2078.7 1119.4,2001 1151.2,1919 1183.3,1832.9 1215.7,1742.5 1248.3,1648 1281.1,1549.2 1314.2,1446.2 1347.4,1339.1 1380.9,1227.7 1414.6,1112.1 1448.5,992.4 1482.6,868.4 1516.9,740.2 1551.4,607.8 1586.1,471.3 1620.9,330.5 1655.9,185.5" stroke="#ada272"/>
<polyline points="603.3,2759.5 619.7,2757.4 640.2,2751.1 662.5,2740.6 686.2,2725.9 710.9,2707 736.4,2683.9 762.6,2656.5 789.5,2625 817,2589.3 845,2549.4 873.5,2505.3 902.4,2456.9 931.7,2404.4 961.4,2347.7 991.4,2286.7 1021.8,2221.6 1052.5,2152.2 1083.5,2078.7 1114.8,2001 1146.4,1919 1178.3,1832.9 1210.4,1742.5 1242.7,1648 1275.3,1549.2 1308.1,1446.2 1341.2,1339.1 1374.4,1227.7 1407.9,1112.1 1441.6,992.4 1475.4,868.4 1509.5,740.2 1543.7,607.8 1578.1,471.3 1612.7,330.5 1647.5,185.5" stroke="#afa471"/>
<polyline points="603.3,2759.5 619.5,2757.4 639.7,2751.1 661.8,2740.6 685.3,2725.9 709.7,2707 735,2683.9 761,2656.5 787.7,2625 814.9,2589.3 842.6,2549.4 870.9,2505.3 899.5,2456.9 928.6,2404.4 958,2347.7 987.9,2286.7 1018,2221.6 1048.5,2152.2 1079.3,2078.7 1110.3,2001 1141.7,1919 1173.3,1832.9 1205.2,1742.5 1237.3,1648 1269.6,1549.2 1302.2,1446.2 1335,1339.1 1368.1,1227.7 1401.3,1112.1 1434.7,992.4 1468.3,868.4 1502.2,740.2 1536.2,607.8 1570.4,471.3 1604.7,330.5 1639.3,185.5" stroke="#b1a570"/>
<polyline points="603.3,2759.5 619.3,2757.4 639.3,2751.1 661.2,2740.6 684.4,2725.9 708.6,2707 733.6,2683.9 759.4,2656.5 785.8,2625 812.8,2589.3 840.3,2549.4 868.3,2505.3 896.7,2456.9 925.6,2404.4 954.8,2347.7 984.4,2286.7 1014.3,2221.6 1044.5,2152.2 1075.1,2078.7 1105.9,2001 1137,1919 1168.4,1832.9 1200,1742.5 1231.9,1648 1264.1,1549.2 1296.4,1446.2 1329,1339.1 1361.8,1227.7 1394.8,1112.1 1428,992.4 1461.4,868.4 1495,740.2 1528.8,607.8 1562.7,471.3 1596.8,330.5 1631.2,185.5" stroke="#b3a670"/>
<polyline points="603.3,2759.5 619.1,2757.4 638.9,2751.1 660.5,2740.6 683.5,2725.9 707.4,2707 732.3,2683.9 757.8,2656.5 784,2625 810.8,2589.3 838,2549.4 865.8,2505.3 894,2456.9 922.6,2404.4 951.6,2347.7 980.9,2286.7 1010.6,2221.6 1040.6,2152.2 1070.9,2078.7 1101.5,2001 1132.4,1919 1163.6,1832.9 1195,1742.5 1226.7,1648 1258.6,1549.2 1290.7,1446.2 1323,1339.1 1355.6,1227.7 1388.4,1112.1 1421.4,992.4 1454.5,868.4 1487.9,740.2 1521.5,607.8 1555.2,471.3 1589.1,330.5 1623.2,185.5" stroke="#b5a86f"/>
<polyline points="603.3,2759.5 618.9,2757.4 638.4,2751.1 659.9,2740.6 682.6,2725.9 706.3,2707 730.9,2683.9 756.2,2656.5 782.2,2625 808.7,2589.3 835.8,2549.4 863.3,2505.3 891.3,2456.9 919.7,2404.4 948.4,2347.7 977.5,2286.7 1007,2221.6 1036.8,2152.2 1066.9,2078.7 1097.3,2001 1127.9,1919 1158.9,1832.9 1190,1742.5 1221.5,1648 1253.2,1549.2 1285.1,1446.2 1317.2,1339.1 1349.5,1227.7 1382.1,1112.1 1414.8,992.4 1447.8,868.4 1480.9,740.2 1514.3,607.8 1547.8,471.3 1581.5,330.5 1615.3,185.5" stroke="#b7a96e"/>
<polyline points="603.3,2759.5 618.7,2757.4 638,2751.1 659.2,2740.6 681.7,2725.9 705.2,2707 729.6,2683.9 754.7,2656.5 780.4,2625 806.7,2589.3 833.6,2549.4 860.9,2505.3 888.6,2456.9 916.8,2404.4 945.3,2347.7 974.2,2286.7 1003.4,2221.6 1033,2152.2 1062.9,2078.7 1093,2001 1123.5,1919 1154.2,1832.9 1185.1,1742.5 1216.4,1648 1247.8,1549.2 1279.5,1446.2 1311.4,1339.1 1343.5,1227.7 1375.9,1112.1 1408.4,992.4 1441.2,868.4 1474.1,740.2 1507.2,607.8 1540.5,471.3 1574,330.5 1607.6,185.5" stroke="#b9ab6d"/>
<polyline points="603.3,2759.5 618.5,2757.4 637.6,2751.1 658.6,2740.6 680.9,2725.9 704.2,2707 728.3,2683.9 753.2,2656.5 778.7,2625 804.8,2589.3 831.4,2549.4 858.5,2505.3 886,2456.9 913.9,2404.4 942.2,2347.7 970.9,2286.7 999.9,2221.6 1029.3,2152.2 1058.9,2078.7 1088.9,2001 1119.1,1919 1149.6,1832.9 1180.3,1742.5 1211.3,1648 1242.6,1549.2 1274,1446.2 1305.7,1339.1 1337.6,1227.7 1369.8,1112.1 1402.1,992.4 1434.6,868.4 1467.3,740.2 1500.2,607.8 1533.3,471.3 1566.6,330.5 1600,185.5" stroke="#bbad6d"/>
<polyline points="603.3,2759.5 618.3,2757.4 637.2,2751.1 658,2740.6 680,2725.9 703.1,2707 727,2683.9 751.7,2656.5 777,2625 802.8,2589.3 829.2,2549.4 856.1,2505.3 883.4,2456.9 911.1,2404.4 939.2,2347.7 967.7,2286.7 996.5,2221.6 1025.6,2152.2 1055,2078.7 1084.7,2001 1114.8,1919 1145,1832.9 1175.6,1742.5 1206.4,1648 1237.4,1549.2 1268.6,1446.2 1300.1,1339.1 1331.8,1227.7 1363.7,1112.1 1395.8,992.4 1428.1,868.4 1460.7,740.2 1493.3,607.8 1526.2,471.3 1559.3,330.5 1592.5,185.5" stroke="#bcae6c"/>
<polyline points="603.3,2759.5 618.1,2757.4 636.8,2751.1 657.3,2740.6 679.2,2725.9 702.1,2707 725.8,2683.9 750.2,2656.5 775.3,2625 800.9,2589.3 827.1,2549.4 853.7,2505.3 880.8,2456.9 908.3,2404.4 936.2,2347.7 964.5,2286.7 993,2221.6 1022,2152.2 1051.2,2078.7 1080.7,2001 1110.5,1919 1140.5,1832.9 1170.9,1742.5 1201.4,1648 1232.3,1549.2 1263.3,1446.2 1294.6,1339.1 1326.1,1227.7 1357.8,1112.1 1389.7,992.4 1421.8,868.4 1454.1,740.2 1486.6,607.8 1519.2,471.3 1552.1,330.5 1585.1,185.5" stroke="#beaf6b"/>
<polyline points="603.3,2759.5 617.9,2757.4 636.4,2751.1 656.7,2740.6 678.4,2725.9 701,2707 724.5,2683.9 748.7,2656.5 773.6,2625 799,2589.3 825,2549.4 851.4,2505.3 878.3,2456.9 905.6,2404.4 933.3,2347.7 961.3,2286.7 989.7,2221.6 1018.4,2152.2 1047.4,2078.7 1076.7,2001 1106.3,1919 1136.1,1832.9 1166.2,1742.5 1196.6,1648 1227.2,1549.2 1258,1446.2 1289.1,1339.1 1320.4,1227.7 1351.9,1112.1 1383.6,992.4 1415.5,868.4 1447.6,740.2 1479.9,607.8 1512.3,471.3 1545,330.5 1577.8,185.5" stroke="#c0b16a"/>
<polyline points="603.3,2759.5 617.7,2757.4 636,2751.1 656.1,2740.6 677.5,2725.9 700,2707 723.3,2683.9 747.3,2656.5 771.9,2625 797.2,2589.3 822.9,2549.4 849.1,2505.3 875.8,2456.9 902.9,2404.4 930.3,2347.7 958.2,2286.7 986.3,2221.6 1014.8,2152.2 1043.6,2078.7 1072.7,2001 1102.1,1919 1131.7,1832.9 1161.6,1742.5 1191.8,1648 1222.2,1549.2 1252.8,1446.2 1283.7,1339.1 1314.8,1227.7 1346.1,1112.1 1377.6,992.4 1409.3,868.4 1441.1,740.2 1473.2,607.8 1505.5,471.3 1537.9,330.5 1570.5,185.5" stroke="#c2b369"/>
<polyline points="603.3,2759.5 617.5,2757.4 635.6,2751.1 655.5,2740.6 676.7,2725.9 699,2707 722.1,2683.9 745.9,2656.5 770.3,2625 795.3,2589.3 820.8,2549.4 846.9,2505.3 873.3,2456.9 900.2,2404.4 927.4,2347.7 955.1,2286.7 983,2221.6 1011.3,2152.2 1039.9,2078.7 1068.8,2001 1097.9,1919 1127.4,1832.9 1157.1,1742.5 1187.1,1648 1217.2,1549.2 1247.7,1446.2 1278.3,1339.1 1309.2,1227.7 1340.3,1112.1 1371.6,992.4 1403.1,868.4 1434.8,740.2 1466.7,607.8 1498.7,471.3 1531,330.5 1563.4,185.5" stroke="#c4b468"/>
<polyline points="603.3,2759.5 617.3,2757.4 635.2,2751.1 654.9,2740.6 676,2725.9 698,2707 720.8,2683.9 744.4,2656.5 768.7,2625 793.5,2589.3 818.8,2549.4 844.6,2505.3 870.9,2456.9 897.5,2404.4 924.6,2347.7 952,2286.7 979.7,2221.6 1007.8,2152.2 1036.2,2078.7 1064.9,2001 1093.9,1919 1123.1,1832.9 1152.6,1742.5 1182.4,1648 1212.4,1549.2 1242.6,1446.2 1273,1339.1 1303.7,1227.7 1334.6,1112.1 1365.7,992.4 1397,868.4 1428.5,740.2 1460.2,607.8 1492,471.3 1524.1,330.5 1556.3,185.5" stroke="#c5b568"/>
<polyline points="603.3,2759.5 617.1,2757.4 634.8,2751.1 654.4,2740.6 675.2,2725.9 697,2707 719.6,2683.9 743,2656.5 767.1,2625 791.7,2589.3 816.8,2549.4 842.4,2505.3 868.4,2456.9 894.9,2404.4 921.7,2347.7 948.9,2286.7 976.5,2221.6 1004.4,2152.2 1032.6,2078.7 1061,2001 1089.8,1919 1118.9,1832.9 1148.2,1742.5 1177.7,1648 1207.5,1549.2 1237.6,1446.2 1267.8,1339.1 1298.3,1227.7 1329,1112.1 1359.9,992.4 1391,868.4 1422.3,740.2 1453.8,607.8 1485.5,471.3 1517.3,330.5 1549.3,185.5" stroke="#c7b767"/>
<polyline points="603.3,2759.5 617,2757.4 634.4,2751.1 653.8,2740.6 674.4,2725.9 696,2707 718.4,2683.9 741.6,2656.5 765.5,2625 789.9,2589.3 814.8,2549.4 840.2,2505.3 866,2456.9 892.3,2404.4 918.9,2347.7 945.9,2286.7 973.3,2221.6 1001,2152.2 1029,2078.7 1057.3,2001 1085.8,1919 1114.7,1832.9 1143.8,1742.5 1173.2,1648 1202.8,1549.2 1232.6,1446.2 1262.7,1339.1 1293,1227.7 1323.5,1112.1 1354.2,992.4 1385.1,868.4 1416.2,740.2 1447.5,607.8 1479,471.3 1510.7,330.5 1542.5,185.5" stroke="#c9b965"/>
<polyline points="603.3,2759.5 616.8,2757.4 634.1,2751.1 653.2,2740.6 673.6,2725.9 695,2707 717.3,2683.9 740.2,2656.5 763.9,2625 788.1,2589.3 812.8,2549.4 838,2505.3 863.6,2456.9 889.7,2404.4 916.1,2347.7 943,2286.7 970.1,2221.6 997.6,2152.2 1025.4,2078.7 1053.5,2001 1081.9,1919 1110.6,1832.9 1139.5,1742.5 1168.6,1648 1198.1,1549.2 1227.7,1446.2 1257.6,1339.1 1287.7,1227.7 1318,1112.1 1348.6,992.4 1379.3,868.4 1410.2,740.2 1441.3,607.8 1472.6,471.3 1504.1,330.5 1535.8,185.5" stroke="#ccba64"/>
<polyline points="603.3,2759.5 616.6,2757.4 633.7,2751.1 652.6,2740.6 672.8,2725.9 694,2707 716.1,2683.9 738.9,2656.5 762.3,2625 786.3,2589.3 810.8,2549.4 835.8,2505.3 861.3,2456.9 887.1,2404.4 913.4,2347.7 940,2286.7 967,2221.6 994.3,2152.2 1021.9,2078.7 1049.8,2001 1078,1919 1106.5,1832.9 1135.2,1742.5 1164.2,1648 1193.4,1549.2 1222.9,1446.2 1252.6,1339.1 1282.5,1227.7 1312.7,1112.1 1343,992.4 1373.6,868.4 1404.3,740.2 1435.3,607.8 1466.4,471.3 1497.7,330.5 1529.2,185.5" stroke="#cebc63"/>
<polyline points="603.3,2759.5 616.4,2757.4 633.3,2751.1 652,2740.6 672,2725.9 693,2707 714.9,2683.9 737.5,2656.5 760.7,2625 784.5,2589.3 808.9,2549.4 833.7,2505.3 858.9,2456.9 884.6,2404.4 910.7,2347.7 937.1,2286.7 963.9,2221.6 991,2152.2 1018.4,2078.7 1046.2,2001 1074.2,1919 1102.5,1832.9 1131,1742.5 1159.8,1648 1188.9,1549.2 1218.2,1446.2 1247.7,1339.1 1277.5,1227.7 1307.4,1112.1 1337.6,992.4 1368,868.4 1398.5,740.2 1429.3,607.8 1460.3,471.3 1491.4,330.5 1522.8,185.5" stroke="#cfbd62"/>
<polyline points="603.3,2759.5 616.2,2757.4 632.9,2751.1 651.4,2740.6 671.2,2725.9 692.1,2707 713.7,2683.9 736.1,2656.5 759.2,2625 782.8,2589.3 806.9,2549.4 831.5,2505.3 856.6,2456.9 882.1,2404.4 908,2347.7 934.2,2286.7 960.8,2221.6 987.8,2152.2 1015,2078.7 1042.6,2001 1070.4,1919 1098.5,1832.9 1126.9,1742.5 1155.5,1648 1184.4,1549.2 1213.5,1446.2 1242.9,1339.1 1272.4,1227.7 1302.2,1112.1 1332.2,992.4 1362.4,868.4 1392.8,740.2 1423.5,607.8 1454.2,471.3 1485.2,330.5 1516.4,185.5" stroke="#d1bf61"/>
<polyline points="603.3,2759.5 616,2757.4 632.5,2751.1 650.9,2740.6 670.5,2725.9 691.1,2707 712.6,2683.9 734.8,2656.5 757.6,2625 781.1,2589.3 805,2549.4 829.5,2505.3 854.3,2456.9 879.6,2404.4 905.3,2347.7 931.4,2286.7 957.8,2221.6 984.6,2152.2 1011.6,2078.7 1039,2001 1066.7,1919 1094.6,1832.9 1122.8,1742.5 1151.2,1648 1180,1549.2 1208.9,1446.2 1238.1,1339.1 1267.5,1227.7 1297.1,1112.1 1326.9,992.4 1357,868.4 1387.2,740.2 1417.7,607.8 1448.3,471.3 1479.1,330.5 1510.1,185.5" stroke="#d3c05f"/>
<polyline points="603.3,2759.5 615.9,2757.4 632.2,2751.1 650.3,2740.6 669.7,2725.9 690.2,2707 711.5,2683.9 733.5,2656.5 756.1,2625 779.4,2589.3 803.1,2549.4 827.4,2505.3 852.1,2456.9 877.2,2404.4 902.7,2347.7 928.6,2286.7 954.8,2221.6 981.4,2152.2 1008.3,2078.7 1035.5,2001 1063,1919 1090.7,1832.9 1118.8,1742.5 1147,1648 1175.6,1549.2 1204.4,1446.2 1233.4,1339.1 1262.6,1227.7 1292.1,1112.1 1321.7,992.4 1351.6,868.4 1381.7,740.2 1412,607.8 1442.4,471.3 1473.1,330.5 1503.9,185.5" stroke="#d5c25e"/>
<polyline points="603.3,2759.5 615.7,2757.4 631.8,2751.1 649.8,2740.6 669,2725.9 689.2,2707 710.3,2683.9 732.2,2656.5 754.6,2625 777.7,2589.3 801.3,2549.4 825.3,2505.3 849.9,2456.9 874.8,2404.4 900.1,2347.7 925.9,2286.7 951.9,2221.6 978.3,2152.2 1005,2078.7 1032,2001 1059.3,1919 1086.9,1832.9 1114.8,1742.5 1142.9,1648 1171.3,1549.2 1199.9,1446.2 1228.7,1339.1 1257.8,1227.7 1287.1,1112.1 1316.6,992.4 1346.3,868.4 1376.2,740.2 1406.3,607.8 1436.6,471.3 1467.1,330.5 1497.8,185.5" stroke="#d7c45c"/>
<polyline points="603.3,2759.5 615.5,2757.4 631.5,2751.1 649.2,2740.6 668.3,2725.9 688.3,2707 709.2,2683.9 730.9,2656.5 753.2,2625 776,2589.3 799.4,2549.4 823.3,2505.3 847.7,2456.9 872.4,2404.4 897.6,2347.7 923.1,2286.7 949,2221.6 975.2,2152.2 1001.8,2078.7 1028.6,2001 1055.8,1919 1083.2,1832.9 1110.9,1742.5 1138.8,1648 1167,1549.2 1195.5,1446.2 1224.1,1339.1 1253,1227.7 1282.2,1112.1 1311.5,992.4 1341.1,868.4 1370.8,740.2 1400.8,607.8 1430.9,471.3 1461.2,330.5 1491.8,185.5" stroke="#d9c55c"/>
<polyline points="603.3,2759.5 615.3,2757.4 631.1,2751.1 648.7,2740.6 667.6,2725.9 687.4,2707 708.2,2683.9 729.6,2656.5 751.7,2625 774.4,2589.3 797.7,2549.4 821.4,2505.3 845.5,2456.9 870.1,2404.4 895.1,2347.7 920.5,2286.7 946.2,2221.6 972.2,2152.2 998.6,2078.7 1025.3,2001 1052.2,1919 1079.5,1832.9 1107,1742.5 1134.8,1648 1162.8,1549.2 1191.1,1446.2 1219.6,1339.1 1248.3,1227.7 1277.3,1112.1 1306.5,992.4 1335.9,868.4 1365.5,740.2 1395.3,607.8 1425.2,471.3 1455.4,330.5 1485.8,185.5" stroke="#dbc75a"/>
<polyline points="603.3,2759.5 615.2,2757.4 630.8,2751.1 648.2,2740.6 666.9,2725.9 686.6,2707 707.1,2683.9 728.4,2656.5 750.3,2625 772.8,2589.3 795.9,2549.4 819.4,2505.3 843.4,2456.9 867.8,2404.4 892.6,2347.7 917.8,2286.7 943.4,2221.6 969.2,2152.2 995.4,2078.7 1021.9,2001 1048.7,1919 1075.8,1832.9 1103.2,1742.5 1130.8,1648 1158.7,1549.2 1186.8,1446.2 1215.1,1339.1 1243.7,1227.7 1272.5,1112.1 1301.5,992.4 1330.8,868.4 1360.2,740.2 1389.8,607.8 1419.7,471.3 1449.7,330.5 1479.9,185.5" stroke="#ddc858"/>
<polyline points="603.3,2759.5 615,2757.4 630.5,2751.1 647.7,2740.6 666.2,2725.9 685.7,2707 706.1,2683.9 727.2,2656.5 748.9,2625 771.3,2589.3 794.2,2549.4 817.5,2505.3 841.3,2456.9 865.6,2404.4 890.2,2347.7 915.2,2286.7 940.6,2221.6 966.3,2152.2 992.3,2078.7 1018.7,2001 1045.3,1919 1072.2,1832.9 1099.4,1742.5 1126.9,1648 1154.6,1549.2 1182.5,1446.2 1210.7,1339.1 1239.1,1227.7 1267.8,1112.1 1296.6,992.4 1325.7,868.4 1355,740.2 1384.4,607.8 1414.1,471.3 1444,330.5 1474,185.5" stroke="#dfca57"/>
<polyline points="603.3,2759.5 614.9,2757.4 630.1,2751.1 647.2,2740.6 665.5,2725.9 684.9,2707 705.1,2683.9 726,2656.5 747.6,2625 769.8,2589.3 792.5,2549.4 815.6,2505.3 839.3,2456.9 863.4,2404.4 887.8,2347.7 912.7,2286.7 937.9,2221.6 963.4,2152.2 989.3,2078.7 1015.4,2001 1041.9,1919 1068.7,1832.9 1095.7,1742.5 1123,1648 1150.5,1549.2 1178.3,1446.2 1206.3,1339.1 1234.6,1227.7 1263.1,1112.1 1291.8,992.4 1320.7,868.4 1349.8,740.2 1379.1,607.8 1408.6,471.3 1438.3,330.5 1468.2,185.5" stroke="#e1cc55"/>
<polyline points="603.3,2759.5 614.7,2757.4 629.8,2751.1 646.7,2740.6 664.9,2725.9 684.1,2707 704.1,2683.9 724.8,2656.5 746.3,2625 768.3,2589.3 790.8,2549.4 813.8,2505.3 837.3,2456.9 861.2,2404.4 885.5,2347.7 910.2,2286.7 935.2,2221.6 960.6,2152.2 986.3,2078.7 1012.3,2001 1038.6,1919 1065.1,1832.9 1092,1742.5 1119.1,1648 1146.5,1549.2 1174.1,1446.2 1202,1339.1 1230.1,1227.7 1258.4,1112.1 1286.9,992.4 1315.7,868.4 1344.7,740.2 1373.8,607.8 1403.2,471.3 1432.7,330.5 1462.4,185.5" stroke="#e2cd54"/>
<polyline points="603.3,2759.5 614.6,2757.4 629.5,2751.1 646.3,2740.6 664.3,2725.9 683.3,2707 703.1,2683.9 723.7,2656.5 745,2625 766.8,2589.3 789.2,2549.4 812,2505.3 835.3,2456.9 859.1,2404.4 883.2,2347.7 907.7,2286.7 932.6,2221.6 957.8,2152.2 983.3,2078.7 1009.1,2001 1035.3,1919 1061.7,1832.9 1088.4,1742.5 1115.3,1648 1142.6,1549.2 1170,1446.2 1197.7,1339.1 1225.6,1227.7 1253.8,1112.1 1282.2,992.4 1310.8,868.4 1339.6,740.2 1368.6,607.8 1397.8,471.3 1427.1,330.5 1456.7,185.5" stroke="#e5cf52"/>
<polyline points="603.3,2759.5 614.4,2757.4 629.2,2751.1 645.8,2740.6 663.6,2725.9 682.5,2707 702.2,2683.9 722.6,2656.5 743.7,2625 765.4,2589.3 787.6,2549.4 810.2,2505.3 833.4,2456.9 857,2404.4 880.9,2347.7 905.3,2286.7 930,2221.6 955,2152.2 980.4,2078.7 1006,2001 1032,1919 1058.3,1832.9 1084.8,1742.5 1111.6,1648 1138.6,1549.2 1165.9,1446.2 1193.5,1339.1 1221.3,1227.7 1249.2,1112.1 1277.5,992.4 1305.9,868.4 1334.5,740.2 1363.4,607.8 1392.4,471.3 1421.6,330.5 1451,185.5" stroke="#e7d150"/>
<polyline points="603.3,2759.5 614.3,2757.4 629,2751.1 645.4,2740.6 663.1,2725.9 681.7,2707 701.3,2683.9 721.5,2656.5 742.5,2625 764,2589.3 786,2549.4 808.5,2505.3 831.5,2456.9 854.9,2404.4 878.7,2347.7 902.9,2286.7 927.4,2221.6 952.3,2152.2 977.5,2078.7 1003,2001 1028.8,1919 1054.9,1832.9 1081.3,1742.5 1107.9,1648 1134.8,1549.2 1161.9,1446.2 1189.3,1339.1 1216.9,1227.7 1244.7,1112.1 1272.8,992.4 1301,868.4 1329.5,740.2 1358.2,607.8 1387.1,471.3 1416.1,330.5 1445.4,185.5" stroke="#e9d34e"/>
<polyline points="603.3,2759.5 614.2,2757.4 628.7,2751.1 645,2740.6 662.5,2725.9 681,2707 700.4,2683.9 720.5,2656.5 741.3,2625 762.6,2589.3 784.5,2549.4 806.8,2505.3 829.6,2456.9 852.9,2404.4 876.5,2347.7 900.5,2286.7 924.9,2221.6 949.6,2152.2 974.7,2078.7 1000,2001 1025.7,1919 1051.6,1832.9 1077.8,1742.5 1104.2,1648 1131,1549.2 1157.9,1446.2 1185.1,1339.1 1212.6,1227.7 1240.3,1112.1 1268.1,992.4 1296.2,868.4 1324.5,740.2 1353.1,607.8 1381.8,471.3 1410.7,330.5 1439.8,185.5" stroke="#ebd44b"/>
<polyline points="603.3,2759.5 614.1,2757.4 628.4,2751.1 644.5,2740.6 661.9,2725.9 680.3,2707 699.5,2683.9 719.5,2656.5 740.1,2625 761.3,2589.3 783,2549.4 805.2,2505.3 827.8,2456.9 850.9,2404.4 874.4,2347.7 898.2,2286.7 922.5,2221.6 947,2152.2 971.9,2078.7 997.1,2001 1022.5,1919 1048.3,1832.9 1074.3,1742.5 1100.6,1648 1127.2,1549.2 1154,1446.2 1181,1339.1 1208.3,1227.7 1235.8,1112.1 1263.5,992.4 1291.5,868.4 1319.6,740.2 1348,607.8 1376.5,471.3 1405.2,330.5 1434.2,185.5" stroke="#edd54a"/>
<polyline points="603.3,2759.5 614,2757.4 628.2,2751.1 644.2,2740.6 661.4,2725.9 679.6,2707 698.7,2683.9 718.5,2656.5 739,2625 760,2589.3 781.5,2549.4 803.6,2505.3 826.1,2456.9 849,2404.4 872.3,2347.7 896,2286.7 920,2221.6 944.4,2152.2 969.1,2078.7 994.2,2001 1019.5,1919 1045.1,1832.9 1070.9,1742.5 1097.1,1648 1123.5,1549.2 1150.1,1446.2 1177,1339.1 1204.1,1227.7 1231.4,1112.1 1259,992.4 1286.8,868.4 1314.7,740.2 1342.9,607.8 1371.3,471.3 1399.9,330.5 1428.6,185.5" stroke="#efd748"/>
<polyline points="603.3,2759.5 613.8,2757.4 627.9,2751.1 643.8,2740.6 660.9,2725.9 679,2707 697.9,2683.9 717.5,2656.5 737.8,2625 758.7,2589.3 780.1,2549.4 802,2505.3 824.3,2456.9 847.1,2404.4 870.3,2347.7 893.8,2286.7 917.7,2221.6 941.9,2152.2 966.5,2078.7 991.3,2001 1016.5,1919 1041.9,1832.9 1067.6,1742.5 1093.6,1648 1119.8,1549.2 1146.3,1446.2 1173,1339.1 1200,1227.7 1227.1,1112.1 1254.5,992.4 1282.1,868.4 1309.9,740.2 1337.9,607.8 1366.2,471.3 1394.6,330.5 1423.2,185.5" stroke="#f1d945"/>
<polyline points="603.3,2759.5 613.7,2757.4 627.7,2751.1 643.4,2740.6 660.4,2725.9 678.3,2707 697.1,2683.9 716.6,2656.5 736.8,2625 757.5,2589.3 778.7,2549.4 800.5,2505.3 822.6,2456.9 845.3,2404.4 868.3,2347.7 891.6,2286.7 915.4,2221.6 939.4,2152.2 963.8,2078.7 988.5,2001 1013.5,1919 1038.8,1832.9 1064.4,1742.5 1090.2,1648 1116.2,1549.2 1142.6,1446.2 1169.1,1339.1 1195.9,1227.7 1222.9,1112.1 1250.1,992.4 1277.6,868.4 1305.2,740.2 1333.1,607.8 1361.1,471.3 1389.4,330.5 1417.8,185.5" stroke="#f3db42"/>
<polyline points="603.3,2759.5 613.6,2757.4 627.5,2751.1 643.1,2740.6 659.9,2725.9 677.7,2707 696.3,2683.9 715.7,2656.5 735.7,2625 756.3,2589.3 777.4,2549.4 799,2505.3 821,2456.9 843.4,2404.4 866.3,2347.7 889.5,2286.7 913.1,2221.6 937,2152.2 961.3,2078.7 985.8,2001 1010.6,1919 1035.8,1832.9 1061.1,1742.5 1086.8,1648 1112.7,1549.2 1138.9,1446.2 1165.3,1339.1 1191.9,1227.7 1218.7,1112.1 1245.8,992.4 1273.1,868.4 1300.6,740.2 1328.3,607.8 1356.1,471.3 1384.2,330.5 1412.5,185.5" stroke="#f6dd3f"/>
<polyline points="603.3,2759.5 613.5,2757.4 627.3,2751.1 642.7,2740.6 659.4,2725.9 677.1,2707 695.6,2683.9 714.8,2656.5 734.7,2625 755.1,2589.3 776,2549.4 797.5,2505.3 819.4,2456.9 841.7,2404.4 864.4,2347.7 887.4,2286.7 910.9,2221.6 934.6,2152.2 958.7,2078.7 983.1,2001 1007.8,1919 1032.7,1832.9 1058,1742.5 1083.5,1648 1109.2,1549.2 1135.2,1446.2 1161.5,1339.1 1187.9,1227.7 1214.6,1112.1 1241.5,992.4 1268.6,868.4 1296,740.2 1323.5,607.8 1351.2,471.3 1379.1,330.5 1407.2,185.5" stroke="#f7de3e"/>
<polyline points="603.3,2759.5 613.4,2757.4 627,2751.1 642.4,2740.6 658.9,2725.9 676.5,2707 694.8,2683.9 713.9,2656.5 733.6,2625 753.9,2589.3 774.7,2549.4 796,2505.3 817.8,2456.9 839.9,2404.4 862.5,2347.7 885.4,2286.7 908.7,2221.6 932.3,2152.2 956.2,2078.7 980.5,2001 1005,1919 1029.8,1832.9 1054.9,1742.5 1080.2,1648 1105.8,1549.2 1131.6,1446.2 1157.7,1339.1 1184,1227.7 1210.6,1112.1 1237.3,992.4 1264.3,868.4 1291.4,740.2 1318.8,607.8 1346.4,471.3 1374.1,330.5 1402.1,185.5" stroke="#f9e03a"/>
<polyline points="603.3,2759.5 613.3,2757.4 626.8,2751.1 642,2740.6 658.5,2725.9 675.9,2707 694.1,2683.9 713.1,2656.5 732.6,2625 752.8,2589.3 773.5,2549.4 794.6,2505.3 816.2,2456.9 838.2,2404.4 860.6,2347.7 883.4,2286.7 906.5,2221.6 930,2152.2 953.8,2078.7 977.8,2001 1002.2,1919 1026.9,1832.9 1051.8,1742.5 1077,1648 1102.4,1549.2 1128.1,1446.2 1154,1339.1 1180.2,1227.7 1206.6,1112.1 1233.1,992.4 1259.9,868.4 1287,740.2 1314.2,607.8 1341.6,471.3 1369.2,330.5 1396.9,185.5" stroke="#fce236"/>
<polyline points="603.3,2759.5 613.2,2757.4 626.6,2751.1 641.7,2740.6 658,2725.9 675.3,2707 693.4,2683.9 712.2,2656.5 731.7,2625 751.7,2589.3 772.2,2549.4 793.2,2505.3 814.7,2456.9 836.5,2404.4 858.8,2347.7 881.4,2286.7 904.4,2221.6 927.7,2152.2 951.3,2078.7 975.3,2001 999.5,1919 1024,1832.9 1048.8,1742.5 1073.8,1648 1099.1,1549.2 1124.6,1446.2 1150.4,1339.1 1176.4,1227.7 1202.6,1112.1 1229,992.4 1255.7,868.4 1282.5,740.2 1309.6,607.8 1336.8,471.3 1364.2,330.5 1391.9,185.5" stroke="#fee434"/>
<polyline points="603.3,2759.5 613.2,2757.4 626.4,2751.1 641.4,2740.6 657.6,2725.9 674.7,2707 692.7,2683.9 711.4,2656.5 730.7,2625 750.6,2589.3 771,2549.4 791.8,2505.3 813.1,2456.9 834.9,2404.4 857,2347.7 879.5,2286.7 902.3,2221.6 925.5,2152.2 948.9,2078.7 972.7,2001 996.8,1919 1021.2,1832.9 1045.8,1742.5 1070.7,1648 1095.8,1549.2 1121.2,1446.2 1146.8,1339.1 1172.6,1227.7 1198.7,1112.1 1224.9,992.4 1251.4,868.4 1278.1,740.2 1305,607.8 1332.1,471.3 1359.4,330.5 1386.8,185.5" stroke="#fee636"/>
</g>
<polygon points="348.5,1157.7 985.8,1157.7 1185.8,1157.7 1200.5,1248.9 1215.5,1333.7 1231,1412.3 1246.8,1485.3 1263.1,1553 1279.7,1616.4 1296.8,1676.6 1314.3,1733.1 1332.3,1785.4 1350.7,1832.9 1369.5,1875.5 1388.9,1912.6 1408.7,1943.8 1429,1973.8 1449.9,2004.3 1471.3,2034.1 1493.2,2063.1 1515.6,2091.1 1538.6,2117.7 1562.3,2142.8 1586.5,2166.3 1611.3,2188.1 1636.7,2208.2 1662.8,2227.1 1689.6,2245.2 1717,2262.3 1745.1,2278.5 1773.9,2293.9 1803.5,2308.5 1833.7,2322.4 1864.8,2335.5 1896.6,2347.9 1929.3,2359.7 1962.8,2370.8 1997.1,2381.1 2032.3,2390.9 2068.3,2400.1 2105.3,2408.9 2143.2,2417.4 2182.1,2425.7 2221.9,2433.7 2262.8,2441.4 2304.7,2448.9 2347.6,2456.1 2391.7,2463 2436.8,2469.7 2483.1,2476.1 2530.5,2482.2 2579.2,2488.1 2629.1,2493.6 2680.2,2498.9 2732.6,2504 2786.4,2508.9 2841.5,2513.6 2898,2518.1 2955.9,2522.4 3015.3,2526.5 3076.1,2530.4 3138.6,2534.2 3143.5,2534.2 3143.5,180.5 348.5,180.5" fill="#c0c0c0" fill-opacity="0.51"/>
</g></g>
<line x1="603.3" y1="185.5" x2="603.3" y2="2957.5" stroke="#b0b0b0" stroke-width="6.67"/>
<line x1="1112.9" y1="185.5" x2="1112.9" y2="2957.5" stroke="#b0b0b0" stroke-width="6.67"/>
<line x1="1622.5" y1="185.5" x2="1622.5" y2="2957.5" stroke="#b0b0b0" stroke-width="6.67"/>
<line x1="2132.1" y1="185.5" x2="2132.1" y2="2957.5" stroke="#b0b0b0" stroke-width="6.67"/>
<line x1="2641.7" y1="185.5" x2="2641.7" y2="2957.5" stroke="#b0b0b0" stroke-width="6.67"/>
<line x1="348.5" y1="2759.5" x2="3138.5" y2="2759.5" stroke="#b0b0b0" stroke-width="6.67"/>
<line x1="348.5" y1="2363.5" x2="3138.5" y2="2363.5" stroke="#b0b0b0" stroke-width="6.67"/>
<line x1="348.5" y1="1967.5" x2="3138.5" y2="1967.5" stroke="#b0b0b0" stroke-width="6.67"/>
<line x1="348.5" y1="1571.5" x2="3138.5" y2="1571.5" stroke="#b0b0b0" stroke-width="6.67"/>
<line x1="348.5" y1="1175.5" x2="3138.5" y2="1175.5" stroke="#b0b0b0" stroke-width="6.67"/>
<line x1="348.5" y1="779.5" x2="3138.5" y2="779.5" stroke="#b0b0b0" stroke-width="6.67"/>
<line x1="348.5" y1="383.5" x2="3138.5" y2="383.5" stroke="#b0b0b0" stroke-width="6.67"/>
<g clip-path="url(#axclip)" fill="none">
<polyline points="603.3,2759.5 603.8,2759.5 604.6,2759.4 605.4,2759.4 606.3,2759.2 607.2,2759.1 608.2,2758.9 609.2,2758.7 610.3,2758.5 611.4,2758.2 612.5,2757.9 613.6,2757.5 614.8,2757.2 615.9,2756.8 617.1,2756.3 618.4,2755.9 619.6,2755.4 620.9,2754.8 622.1,2754.3 623.4,2753.7 624.7,2753 626,2752.4 627.4,2751.7 628.7,2750.9 630.1,2750.2 631.4,2749.4 632.8,2748.6 634.2,2747.7 635.6,2746.8 637,2745.9 638.4,2744.9 639.9,2744 641.3,2742.9 642.8,2741.9 644.3,2740.8 645.7,2739.7 647.2,2738.5 648.7,2737.4 650.2,2736.2 651.7,2734.9 653.3,2733.6 654.8,2732.3 656.3,2731 657.9,2729.6 659.4,2728.2 661,2726.8 662.6,2725.3 664.1,2723.8 665.7,2722.2 667.3,2720.7 668.9,2719.1 670.5,2717.4 672.1,2715.8 673.8,2714.1 675.4,2712.4 677,2710.6 678.7,2708.8 680.3,2707 682,2705.1 683.6,2703.2 685.3,2701.3 687,2699.3 688.6,2697.3 690.3,2695.3 692,2693.3 693.7,2691.2 695.4,2689.1 697.1,2686.9 698.8,2684.7 700.6,2682.5 702.3,2680.3 704,2678 705.8,2675.7 707.5,2673.3 709.3,2671 711,2668.6 712.8,2666.1 714.5,2663.6 716.3,2661.1 718.1,2658.6 719.8,2656 721.6,2653.4 723.4,2650.8 725.2,2648.1 727,2645.4 728.8,2642.7 730.6,2639.9 732.4,2637.1 734.2,2634.3 736.1,2631.4 737.9,2628.5 739.7,2625.6 741.6,2622.7 743.4,2619.7 745.2,2616.6 747.1,2613.6 748.9,2610.5 750.8,2607.4 752.7,2604.2 754.5,2601 756.4,2597.8 758.3,2594.6 760.1,2591.3 762,2588 763.9,2584.6 765.8,2581.2 767.7,2577.8 769.6,2574.4 771.5,2570.9 773.4,2567.4 775.3,2563.9 777.2,2560.3 779.1,2556.7 781.1,2553 783,2549.4 784.9,2545.7 786.8,2541.9 788.8,2538.2 790.7,2534.4 792.7,2530.5 794.6,2526.7 796.6,2522.8 798.5,2518.9 800.5,2514.9 802.4,2510.9 804.4,2506.9 806.4,2502.8 808.3,2498.7 810.3,2494.6 812.3,2490.4 814.3,2486.3 816.3,2482 818.2,2477.8 820.2,2473.5 822.2,2469.2 824.2,2464.8 826.2,2460.5 828.2,2456 830.2,2451.6 832.3,2447.1 834.3,2442.6 836.3,2438.1 838.3,2433.5 840.3,2428.9 842.4,2424.2 844.4,2419.6 846.4,2414.9 848.5,2410.1 850.5,2405.4 852.6,2400.5 854.6,2395.7 856.6,2390.8 858.7,2385.9 860.8,2381 862.8,2376.1 864.9,2371.1 866.9,2366 869,2361 871.1,2355.9 873.1,2350.8 875.2,2345.6 877.3,2340.4 879.4,2335.2 881.5,2329.9 883.6,2324.6 885.6,2319.3 887.7,2314 889.8,2308.6 891.9,2303.2 894,2297.7 896.1,2292.2 898.2,2286.7 900.4,2281.2 902.5,2275.6 904.6,2270 906.7,2264.3 908.8,2258.7 910.9,2253 913.1,2247.2 915.2,2241.5 917.3,2235.6 919.5,2229.8 921.6,2223.9 923.7,2218 925.9,2212.1 928,2206.1 930.2,2200.1 932.3,2194.1 934.5,2188 936.6,2182 938.8,2175.8 940.9,2169.7 943.1,2163.5 945.3,2157.2 947.4,2151 949.6,2144.7 951.8,2138.4 954,2132 956.1,2125.6 958.3,2119.2 960.5,2112.8 962.7,2106.3 964.9,2099.8 967.1,2093.2 969.2,2086.6 971.4,2080 973.6,2073.4 975.8,2066.7 978,2060 980.2,2053.3 982.4,2046.5 984.7,2039.7 986.9,2032.8 989.1,2026 991.3,2019.1 993.5,2012.1 995.7,2005.2 997.9,1998.2 1000.2,1991.1 1002.4,1984.1 1004.6,1977 1006.9,1969.8 1009.1,1962.7 1011.3,1955.5 1013.6,1948.2 1015.8,1941 1018,1933.7 1020.3,1926.4 1022.5,1919 1024.8,1911.6 1027,1904.2 1029.3,1896.7 1031.5,1889.3 1033.8,1881.7 1036.1,1874.2 1038.3,1866.6 1040.6,1859 1042.9,1851.3 1045.1,1843.7 1047.4,1836 1049.7,1828.2 1051.9,1820.4 1054.2,1812.6 1056.5,1804.8 1058.8,1796.9 1061.1,1789 1063.3,1781.1 1065.6,1773.1 1067.9,1765.1 1070.2,1757.1 1072.5,1749 1074.8,1740.9 1077.1,1732.8 1079.4,1724.6 1081.7,1716.4 1084,1708.2 1086.3,1699.9 1088.6,1691.6 1090.9,1683.3 1093.2,1674.9 1095.5,1666.5 1097.9,1658.1 1100.2,1649.6 1102.5,1641.2 1104.8,1632.6 1107.1,1624.1 1109.5,1615.5 1111.8,1606.9 1114.1,1598.2 1116.4,1589.5 1118.8,1580.8 1121.1,1572.1 1123.4,1563.3 1125.8,1554.5 1128.1,1545.7 1130.5,1536.8 1132.8,1527.9 1135.2,1518.9 1137.5,1510 1139.9,1500.9 1142.2,1491.9 1143.2,1488.1" stroke="#000" stroke-width="8.3" stroke-dasharray="30.8 13.3"/>
<polyline points="1278,928.6 1279.2,923.3 1281.6,912.4 1284.1,901.4 1286.6,890.5 1289,879.4 1291.5,868.4 1293.9,857.3 1296.4,846.2 1298.9,835.1 1301.3,823.9 1303.8,812.7 1306.3,801.5 1308.7,790.2 1311.2,778.9 1313.7,767.6 1316.1,756.2 1318.6,744.8 1321.1,733.4 1323.6,721.9 1326.1,710.4 1328.5,698.9 1331,687.3 1333.5,675.7 1336,664.1 1338.5,652.4 1341,640.7 1343.5,629 1346,617.3 1348.5,605.5 1350.9,593.7 1353.4,581.8 1355.9,569.9 1358.4,558 1360.9,546.1 1363.5,534.1 1366,522.1 1368.5,510 1371,498 1373.5,485.8 1376,473.7 1378.5,461.5 1381,449.3 1383.5,437.1 1386.1,424.8 1388.6,412.5 1391.1,400.2 1393.6,387.8 1396.1,375.4 1398.7,363 1401.2,350.5 1403.7,338 1406.2,325.5 1408.8,312.9 1411.3,300.3 1413.8,287.7 1416.4,275 1418.9,262.3 1421.4,249.6 1424,236.9 1426.5,224.1 1429.1,211.2 1431.6,198.4 1434.2,185.5" stroke="#000" stroke-width="8.3" stroke-dasharray="30.8 13.3"/>
<polyline points="603.3,2759.5 604.1,2759.5 605.1,2759.4 606.2,2759.4 607.3,2759.2 608.6,2759.1 609.8,2758.9 611.2,2758.7 612.5,2758.5 613.9,2758.2 615.3,2757.9 616.7,2757.5 618.2,2757.2 619.7,2756.8 621.2,2756.3 622.7,2755.9 624.3,2755.4 625.8,2754.8 627.4,2754.3 629,2753.7 630.6,2753 632.2,2752.4 633.9,2751.7 635.5,2750.9 637.2,2750.2 638.9,2749.4 640.6,2748.6 642.3,2747.7 644,2746.8 645.8,2745.9 647.5,2744.9 649.3,2744 651,2742.9 652.8,2741.9 654.6,2740.8 656.4,2739.7 658.2,2738.5 660,2737.4 661.8,2736.2 663.6,2734.9 665.5,2733.6 667.3,2732.3 669.2,2731 671.1,2729.6 672.9,2728.2 674.8,2726.8 676.7,2725.3 678.6,2723.8 680.5,2722.2 682.4,2720.7 684.3,2719.1 686.3,2717.4 688.2,2715.8 690.1,2714.1 692.1,2712.4 694,2710.6 696,2708.8 698,2707 700,2705.1 701.9,2703.2 703.9,2701.3 705.9,2699.3 707.9,2697.3 709.9,2695.3 711.9,2693.3 713.9,2691.2 716,2689.1 718,2686.9 720,2684.7 722.1,2682.5 724.1,2680.3 726.2,2678 728.2,2675.7 730.3,2673.3 732.4,2671 734.4,2668.6 736.5,2666.1 738.6,2663.6 740.7,2661.1 742.8,2658.6 744.9,2656 747,2653.4 749.1,2650.8 751.2,2648.1 753.3,2645.4 755.4,2642.7 757.5,2639.9 759.7,2637.1 761.8,2634.3 764,2631.4 766.1,2628.5 768.2,2625.6 770.4,2622.7 772.6,2619.7 774.7,2616.6 776.9,2613.6 779.1,2610.5 781.2,2607.4 783.4,2604.2 785.6,2601 787.8,2597.8 790,2594.6 792.2,2591.3 794.4,2588 796.6,2584.6 798.8,2581.2 801,2577.8 803.2,2574.4 805.4,2570.9 807.6,2567.4 809.9,2563.9 812.1,2560.3 814.3,2556.7 816.6,2553 818.8,2549.4 821.1,2545.7 823.3,2541.9 825.6,2538.2 827.8,2534.4 830.1,2530.5 832.3,2526.7 834.6,2522.8 836.9,2518.9 839.1,2514.9 841.4,2510.9 843.7,2506.9 846,2502.8 848.3,2498.7 850.6,2494.6 852.9,2490.4 855.2,2486.3 857.5,2482 859.8,2477.8 862.1,2473.5 864.4,2469.2 866.7,2464.8 869,2460.5 871.3,2456 873.7,2451.6 876,2447.1 878.3,2442.6 880.6,2438.1 883,2433.5 885.3,2428.9 887.7,2424.2 890,2419.6 892.4,2414.9 894.7,2410.1 897.1,2405.4 899.4,2400.5 901.8,2395.7 904.1,2390.8 906.5,2385.9 908.9,2381 911.2,2376.1 913.6,2371.1 916,2366 918.4,2361 920.8,2355.9 923.1,2350.8 925.5,2345.6 927.9,2340.4 930.3,2335.2 932.7,2329.9 935.1,2324.6 937.5,2319.3 939.9,2314 942.3,2308.6 944.7,2303.2 947.1,2297.7 949.6,2292.2 952,2286.7 954.4,2281.2 956.8,2275.6 959.3,2270 961.7,2264.3 964.1,2258.7 966.5,2253 969,2247.2 971.4,2241.5 973.9,2235.6 976.3,2229.8 978.8,2223.9 981.2,2218 983.7,2212.1 986.1,2206.1 988.6,2200.1 991,2194.1 993.5,2188 996,2182 998.4,2175.8 1000.9,2169.7 1003.4,2163.5 1005.8,2157.2 1008.3,2151 1010.8,2144.7 1013.3,2138.4 1015.8,2132 1018.2,2125.6 1020.7,2119.2 1023.2,2112.8 1025.7,2106.3 1028.2,2099.8 1030.7,2093.2 1033.2,2086.6 1035.7,2080 1038.2,2073.4 1040.7,2066.7 1043.2,2060 1045.7,2053.3 1048.2,2046.5 1050.8,2039.7 1053.3,2032.8 1055.8,2026 1058.3,2019.1 1060.8,2012.1 1063.4,2005.2 1065.9,1998.2 1068.4,1991.1 1071,1984.1 1073.5,1977 1076,1969.8 1078.6,1962.7 1081.1,1955.5 1083.7,1948.2 1086.2,1941 1088.8,1933.7 1091.3,1926.4 1093.9,1919 1096.4,1911.6 1099,1904.2 1101.5,1896.7 1104.1,1889.3 1106.7,1881.7 1109.2,1874.2 1111.8,1866.6 1114.4,1859 1116.9,1851.3 1119.5,1843.7 1122.1,1836 1124.6,1828.2 1127.2,1820.4 1129.8,1812.6 1132.4,1804.8 1135,1796.9 1137.6,1789 1140.2,1781.1 1142.7,1773.1 1145.3,1765.1 1147.9,1757.1 1150.5,1749 1153.1,1740.9 1155.7,1732.8 1158.3,1724.6 1160.9,1716.4 1163.5,1708.2 1166.1,1699.9 1167.2,1696.5" stroke="#000" stroke-width="8.3" stroke-dasharray="30.8 13.3"/>
<polyline points="1330.5,1127.7 1331.3,1124.5 1334.1,1114.2 1336.8,1103.9 1339.5,1093.5 1342.2,1083.1 1344.9,1072.7 1347.7,1062.2 1350.4,1051.7 1353.1,1041.2 1355.9,1030.6 1358.6,1020.1 1361.3,1009.4 1364.1,998.8 1366.8,988.1 1369.5,977.4 1372.3,966.6 1375,955.8 1377.8,945 1380.5,934.2 1383.2,923.3 1386,912.4 1388.7,901.4 1391.5,890.5 1394.2,879.4 1397,868.4 1399.8,857.3 1402.5,846.2 1405.3,835.1 1408,823.9 1410.8,812.7 1413.5,801.5 1416.3,790.2 1419.1,778.9 1421.8,767.6 1424.6,756.2 1427.4,744.8 1430.2,733.4 1432.9,721.9 1435.7,710.4 1438.5,698.9 1441.3,687.3 1444,675.7 1446.8,664.1 1449.6,652.4 1452.4,640.7 1455.2,629 1457.9,617.3 1460.7,605.5 1463.5,593.7 1466.3,581.8 1469.1,569.9 1471.9,558 1474.7,546.1 1477.5,534.1 1480.3,522.1 1483.1,510 1485.9,498 1488.7,485.8 1491.5,473.7 1494.3,461.5 1497.1,449.3 1499.9,437.1 1502.7,424.8 1505.5,412.5 1508.3,400.2 1511.1,387.8 1513.9,375.4 1516.8,363 1519.6,350.5 1522.4,338 1525.2,325.5 1528,312.9 1530.9,300.3 1533.7,287.7 1536.5,275 1539.3,262.3 1542.2,249.6 1545,236.9 1547.8,224.1 1550.6,211.2 1553.5,198.4 1556.3,185.5" stroke="#000" stroke-width="8.3" stroke-dasharray="30.8 13.3"/>
<polyline points="603.3,2759.5 604.4,2759.5 605.7,2759.4 607.2,2759.4 608.7,2759.2 610.3,2759.1 612,2758.9 613.7,2758.7 615.4,2758.5 617.2,2758.2 619,2757.9 620.8,2757.5 622.7,2757.2 624.6,2756.8 626.5,2756.3 628.4,2755.9 630.3,2755.4 632.3,2754.8 634.3,2754.3 636.3,2753.7 638.3,2753 640.3,2752.4 642.4,2751.7 644.5,2750.9 646.5,2750.2 648.6,2749.4 650.7,2748.6 652.8,2747.7 655,2746.8 657.1,2745.9 659.3,2744.9 661.4,2744 663.6,2742.9 665.8,2741.9 668,2740.8 670.2,2739.7 672.4,2738.5 674.6,2737.4 676.9,2736.2 679.1,2734.9 681.4,2733.6 683.6,2732.3 685.9,2731 688.2,2729.6 690.5,2728.2 692.8,2726.8 695.1,2725.3 697.4,2723.8 699.7,2722.2 702,2720.7 704.4,2719.1 706.7,2717.4 709,2715.8 711.4,2714.1 713.8,2712.4 716.1,2710.6 718.5,2708.8 720.9,2707 723.3,2705.1 725.7,2703.2 728.1,2701.3 730.5,2699.3 732.9,2697.3 735.3,2695.3 737.7,2693.3 740.2,2691.2 742.6,2689.1 745.1,2686.9 747.5,2684.7 750,2682.5 752.4,2680.3 754.9,2678 757.4,2675.7 759.9,2673.3 762.3,2671 764.8,2668.6 767.3,2666.1 769.8,2663.6 772.3,2661.1 774.8,2658.6 777.3,2656 779.9,2653.4 782.4,2650.8 784.9,2648.1 787.4,2645.4 790,2642.7 792.5,2639.9 795.1,2637.1 797.6,2634.3 800.2,2631.4 802.7,2628.5 805.3,2625.6 807.9,2622.7 810.5,2619.7 813,2616.6 815.6,2613.6 818.2,2610.5 820.8,2607.4 823.4,2604.2 826,2601 828.6,2597.8 831.2,2594.6 833.8,2591.3 836.4,2588 839.1,2584.6 841.7,2581.2 844.3,2577.8 846.9,2574.4 849.6,2570.9 852.2,2567.4 854.9,2563.9 857.5,2560.3 860.2,2556.7 862.8,2553 865.5,2549.4 868.1,2545.7 870.8,2541.9 873.5,2538.2 876.1,2534.4 878.8,2530.5 881.5,2526.7 884.2,2522.8 886.9,2518.9 889.6,2514.9 892.3,2510.9 895,2506.9 897.7,2502.8 900.4,2498.7 903.1,2494.6 905.8,2490.4 908.5,2486.3 911.2,2482 913.9,2477.8 916.6,2473.5 919.4,2469.2 922.1,2464.8 924.8,2460.5 927.6,2456 930.3,2451.6 933.1,2447.1 935.8,2442.6 938.6,2438.1 941.3,2433.5 944.1,2428.9 946.8,2424.2 949.6,2419.6 952.3,2414.9 955.1,2410.1 957.9,2405.4 960.7,2400.5 963.4,2395.7 966.2,2390.8 969,2385.9 971.8,2381 974.6,2376.1 977.3,2371.1 980.1,2366 982.9,2361 985.7,2355.9 988.5,2350.8 991.3,2345.6 994.1,2340.4 997,2335.2 999.8,2329.9 1002.6,2324.6 1005.4,2319.3 1008.2,2314 1011,2308.6 1013.9,2303.2 1016.7,2297.7 1019.5,2292.2 1022.4,2286.7 1025.2,2281.2 1028,2275.6 1030.9,2270 1033.7,2264.3 1036.6,2258.7 1039.4,2253 1042.3,2247.2 1045.1,2241.5 1048,2235.6 1050.8,2229.8 1053.7,2223.9 1056.6,2218 1059.4,2212.1 1062.3,2206.1 1065.2,2200.1 1068,2194.1 1070.9,2188 1073.8,2182 1076.7,2175.8 1079.6,2169.7 1082.4,2163.5 1085.3,2157.2 1088.2,2151 1091.1,2144.7 1094,2138.4 1096.9,2132 1099.8,2125.6 1102.7,2119.2 1105.6,2112.8 1108.5,2106.3 1111.4,2099.8 1114.3,2093.2 1117.3,2086.6 1120.2,2080 1123.1,2073.4 1126,2066.7 1128.9,2060 1131.9,2053.3 1134.8,2046.5 1137.7,2039.7 1140.6,2032.8 1143.6,2026 1146.5,2019.1 1149.4,2012.1 1152.4,2005.2 1155.3,1998.2 1158.3,1991.1 1161.2,1984.1 1164.2,1977 1167.1,1969.8 1170.1,1962.7 1173,1955.5 1176,1948.2 1178.9,1941 1181.9,1933.7 1184.9,1926.4 1187.8,1919 1190.8,1911.6 1193.8,1904.2 1196.7,1896.7 1199.4,1890.1" stroke="#000" stroke-width="8.3" stroke-dasharray="30.8 13.3"/>
<polyline points="1392.3,1347.6 1393.8,1342.9 1396.9,1333.3 1400,1323.7 1403.1,1314 1406.2,1304.4 1409.3,1294.6 1412.4,1284.9 1415.5,1275.1 1418.6,1265.3 1421.7,1255.4 1424.8,1245.6 1427.9,1235.7 1431,1225.7 1434.1,1215.7 1437.3,1205.7 1440.4,1195.7 1443.5,1185.6 1446.6,1175.5 1449.7,1165.4 1452.8,1155.2 1456,1145 1459.1,1134.8 1462.2,1124.5 1465.3,1114.2 1468.5,1103.9 1471.6,1093.5 1474.7,1083.1 1477.8,1072.7 1481,1062.2 1484.1,1051.7 1487.2,1041.2 1490.4,1030.6 1493.5,1020.1 1496.7,1009.4 1499.8,998.8 1503,988.1 1506.1,977.4 1509.2,966.6 1512.4,955.8 1515.5,945 1518.7,934.2 1521.8,923.3 1525,912.4 1528.1,901.4 1531.3,890.5 1534.5,879.4 1537.6,868.4 1540.8,857.3 1543.9,846.2 1547.1,835.1 1550.3,823.9 1553.4,812.7 1556.6,801.5 1559.8,790.2 1563,778.9 1566.1,767.6 1569.3,756.2 1572.5,744.8 1575.6,733.4 1578.8,721.9 1582,710.4 1585.2,698.9 1588.4,687.3 1591.6,675.7 1594.7,664.1 1597.9,652.4 1601.1,640.7 1604.3,629 1607.5,617.3 1610.7,605.5 1613.9,593.7 1617.1,581.8 1620.3,569.9 1623.5,558 1626.7,546.1 1629.9,534.1 1633.1,522.1 1636.3,510 1639.5,498 1642.7,485.8 1645.9,473.7 1649.1,461.5 1652.3,449.3 1655.5,437.1 1658.7,424.8 1661.9,412.5 1665.2,400.2 1668.4,387.8 1671.6,375.4 1674.8,363 1678,350.5 1681.2,338 1684.5,325.5 1687.7,312.9 1690.9,300.3 1694.1,287.7 1697.4,275 1700.6,262.3 1703.8,249.6 1707.1,236.9 1710.3,224.1 1713.5,211.2 1716.8,198.4 1720,185.5" stroke="#000" stroke-width="8.3" stroke-dasharray="30.8 13.3"/>
<polyline points="603.3,2759.5 604.9,2759.5 606.7,2759.4 608.7,2759.4 610.8,2759.2 612.9,2759.1 615.1,2758.9 617.4,2758.7 619.7,2758.5 622,2758.2 624.4,2757.9 626.8,2757.5 629.2,2757.2 631.6,2756.8 634.1,2756.3 636.6,2755.9 639.2,2755.4 641.7,2754.8 644.3,2754.3 646.8,2753.7 649.4,2753 652.1,2752.4 654.7,2751.7 657.4,2750.9 660,2750.2 662.7,2749.4 665.4,2748.6 668.1,2747.7 670.8,2746.8 673.6,2745.9 676.3,2744.9 679.1,2744 681.8,2742.9 684.6,2741.9 687.4,2740.8 690.2,2739.7 693,2738.5 695.9,2737.4 698.7,2736.2 701.5,2734.9 704.4,2733.6 707.3,2732.3 710.1,2731 713,2729.6 715.9,2728.2 718.8,2726.8 721.7,2725.3 724.6,2723.8 727.5,2722.2 730.5,2720.7 733.4,2719.1 736.4,2717.4 739.3,2715.8 742.3,2714.1 745.3,2712.4 748.2,2710.6 751.2,2708.8 754.2,2707 757.2,2705.1 760.2,2703.2 763.2,2701.3 766.2,2699.3 769.3,2697.3 772.3,2695.3 775.3,2693.3 778.4,2691.2 781.4,2689.1 784.5,2686.9 787.6,2684.7 790.6,2682.5 793.7,2680.3 796.8,2678 799.9,2675.7 803,2673.3 806.1,2671 809.2,2668.6 812.3,2666.1 815.4,2663.6 818.5,2661.1 821.6,2658.6 824.7,2656 827.9,2653.4 831,2650.8 834.2,2648.1 837.3,2645.4 840.5,2642.7 843.6,2639.9 846.8,2637.1 850,2634.3 853.1,2631.4 856.3,2628.5 859.5,2625.6 862.7,2622.7 865.9,2619.7 869.1,2616.6 872.3,2613.6 875.5,2610.5 878.7,2607.4 881.9,2604.2 885.1,2601 888.3,2597.8 891.6,2594.6 894.8,2591.3 898,2588 901.3,2584.6 904.5,2581.2 907.8,2577.8 911,2574.4 914.3,2570.9 917.5,2567.4 920.8,2563.9 924.1,2560.3 927.3,2556.7 930.6,2553 933.9,2549.4 937.2,2545.7 940.5,2541.9 943.7,2538.2 947,2534.4 950.3,2530.5 953.6,2526.7 956.9,2522.8 960.3,2518.9 963.6,2514.9 966.9,2510.9 970.2,2506.9 973.5,2502.8 976.8,2498.7 980.2,2494.6 983.5,2490.4 986.8,2486.3 990.2,2482 993.5,2477.8 996.9,2473.5 1000.2,2469.2 1003.6,2464.8 1006.9,2460.5 1010.3,2456 1013.7,2451.6 1017,2447.1 1020.4,2442.6 1023.8,2438.1 1027.1,2433.5 1030.5,2428.9 1033.9,2424.2 1037.3,2419.6 1040.7,2414.9 1044.1,2410.1 1047.5,2405.4 1050.8,2400.5 1054.2,2395.7 1057.7,2390.8 1061.1,2385.9 1064.5,2381 1067.9,2376.1 1071.3,2371.1 1074.7,2366 1078.1,2361 1081.6,2355.9 1085,2350.8 1088.4,2345.6 1091.8,2340.4 1095.3,2335.2 1098.7,2329.9 1102.2,2324.6 1105.6,2319.3 1109,2314 1112.5,2308.6 1115.9,2303.2 1119.4,2297.7 1122.8,2292.2 1126.3,2286.7 1129.8,2281.2 1133.2,2275.6 1136.7,2270 1140.2,2264.3 1143.6,2258.7 1147.1,2253 1150.6,2247.2 1154.1,2241.5 1157.6,2235.6 1161,2229.8 1164.5,2223.9 1168,2218 1171.5,2212.1 1175,2206.1 1178.5,2200.1 1182,2194.1 1185.5,2188 1189,2182 1192.5,2175.8 1196,2169.7 1199.5,2163.5 1203.1,2157.2 1206.6,2151 1210.1,2144.7 1213.6,2138.4 1217.1,2132 1220.7,2125.6 1224.2,2119.2 1227.7,2112.8 1231.3,2106.3 1234.8,2099.8 1236.3,2097" stroke="#000" stroke-width="8.3" stroke-dasharray="30.8 13.3"/>
<polyline points="1490.8,1555.3 1491.2,1554.5 1494.9,1545.7 1498.5,1536.8 1502.2,1527.9 1505.9,1518.9 1509.6,1510 1513.3,1500.9 1517,1491.9 1520.7,1482.8 1524.4,1473.7 1528.1,1464.6 1531.8,1455.4 1535.5,1446.2 1539.2,1437 1542.9,1427.7 1546.6,1418.4 1550.3,1409.1 1554,1399.8 1557.7,1390.4 1561.4,1380.9 1565.1,1371.5 1568.8,1362 1572.6,1352.5 1576.3,1342.9 1580,1333.3 1583.7,1323.7 1587.4,1314 1591.2,1304.4 1594.9,1294.6 1598.6,1284.9 1602.3,1275.1 1606.1,1265.3 1609.8,1255.4 1613.5,1245.6 1617.3,1235.7 1621,1225.7 1624.8,1215.7 1628.5,1205.7 1632.2,1195.7 1636,1185.6 1639.7,1175.5 1643.5,1165.4 1647.2,1155.2 1651,1145 1654.7,1134.8 1658.5,1124.5 1662.2,1114.2 1666,1103.9 1669.7,1093.5 1673.5,1083.1 1677.3,1072.7 1681,1062.2 1684.8,1051.7 1688.6,1041.2 1692.3,1030.6 1696.1,1020.1 1699.9,1009.4 1703.6,998.8 1707.4,988.1 1711.2,977.4 1715,966.6 1718.7,955.8 1722.5,945 1726.3,934.2 1730.1,923.3 1733.9,912.4 1737.6,901.4 1741.4,890.5 1745.2,879.4 1749,868.4 1752.8,857.3 1756.6,846.2 1760.4,835.1 1764.2,823.9 1768,812.7 1771.8,801.5 1775.6,790.2 1779.4,778.9 1783.2,767.6 1787,756.2 1790.8,744.8 1794.6,733.4 1798.4,721.9 1802.2,710.4 1806,698.9 1809.8,687.3 1813.6,675.7 1817.5,664.1 1821.3,652.4 1825.1,640.7 1828.9,629 1832.7,617.3 1836.6,605.5 1840.4,593.7 1844.2,581.8 1848,569.9 1851.9,558 1855.7,546.1 1859.5,534.1 1863.3,522.1 1867.2,510 1871,498 1874.8,485.8 1878.7,473.7 1882.5,461.5 1886.4,449.3 1890.2,437.1 1894,424.8 1897.9,412.5 1901.7,400.2 1905.6,387.8 1909.4,375.4 1913.3,363 1917.1,350.5 1921,338 1924.8,325.5 1928.7,312.9 1932.5,300.3 1936.4,287.7 1940.3,275 1944.1,262.3 1948,249.6 1951.8,236.9 1955.7,224.1 1959.6,211.2 1963.4,198.4 1967.3,185.5" stroke="#000" stroke-width="8.3" stroke-dasharray="30.8 13.3"/>
<polyline points="603.3,2759.5 606.1,2759.5 609.1,2759.4 612.3,2759.4 615.6,2759.2 619,2759.1 622.4,2758.9 625.8,2758.7 629.3,2758.5 632.8,2758.2 636.4,2757.9 639.9,2757.5 643.5,2757.2 647.2,2756.8 650.8,2756.3 654.5,2755.9 658.1,2755.4 661.8,2754.8 665.5,2754.3 669.3,2753.7 673,2753 676.8,2752.4 680.6,2751.7 684.3,2750.9 688.1,2750.2 692,2749.4 695.8,2748.6 699.6,2747.7 703.5,2746.8 707.3,2745.9 711.2,2744.9 715.1,2744 718.9,2742.9 722.8,2741.9 726.7,2740.8 730.7,2739.7 734.6,2738.5 738.5,2737.4 742.4,2736.2 746.4,2734.9 750.3,2733.6 754.3,2732.3 758.3,2731 762.2,2729.6 766.2,2728.2 770.2,2726.8 774.2,2725.3 778.2,2723.8 782.2,2722.2 786.2,2720.7 790.3,2719.1 794.3,2717.4 798.3,2715.8 802.4,2714.1 806.4,2712.4 810.5,2710.6 814.5,2708.8 818.6,2707 822.6,2705.1 826.7,2703.2 830.8,2701.3 834.9,2699.3 839,2697.3 843.1,2695.3 847.2,2693.3 851.3,2691.2 855.4,2689.1 859.5,2686.9 863.6,2684.7 867.7,2682.5 871.9,2680.3 876,2678 880.1,2675.7 884.3,2673.3 888.4,2671 892.6,2668.6 896.7,2666.1 900.9,2663.6 905,2661.1 909.2,2658.6 913.4,2656 917.6,2653.4 921.7,2650.8 925.9,2648.1 930.1,2645.4 934.3,2642.7 938.5,2639.9 942.7,2637.1 946.9,2634.3 951.1,2631.4 955.3,2628.5 959.5,2625.6 963.7,2622.7 967.9,2619.7 972.2,2616.6 976.4,2613.6 980.6,2610.5 984.8,2607.4 989.1,2604.2 993.3,2601 997.6,2597.8 1001.8,2594.6 1006.1,2591.3 1010.3,2588 1014.6,2584.6 1018.8,2581.2 1023.1,2577.8 1027.4,2574.4 1031.6,2570.9 1035.9,2567.4 1040.2,2563.9 1044.4,2560.3 1048.7,2556.7 1053,2553 1057.3,2549.4 1061.6,2545.7 1065.9,2541.9 1070.2,2538.2 1074.5,2534.4 1078.8,2530.5 1083.1,2526.7 1087.4,2522.8 1091.7,2518.9 1096,2514.9 1100.3,2510.9 1104.6,2506.9 1108.9,2502.8 1113.2,2498.7 1117.6,2494.6 1121.9,2490.4 1126.2,2486.3 1130.6,2482 1134.9,2477.8 1139.2,2473.5 1143.6,2469.2 1147.9,2464.8 1152.3,2460.5 1156.6,2456 1160.9,2451.6 1165.3,2447.1 1169.7,2442.6 1174,2438.1 1178.4,2433.5 1182.7,2428.9 1187.1,2424.2 1191.5,2419.6 1195.8,2414.9 1200.2,2410.1 1204.6,2405.4 1208.9,2400.5 1213.3,2395.7 1217.7,2390.8 1222.1,2385.9 1226.5,2381 1230.8,2376.1 1235.2,2371.1 1239.6,2366 1244,2361 1248.4,2355.9 1252.8,2350.8 1257.2,2345.6 1261.6,2340.4 1266,2335.2 1270.4,2329.9 1274.8,2324.6 1279.2,2319.3 1283.6,2314 1288,2308.6 1292.5,2303.2 1296.9,2297.7 1301.3,2292.2 1305.7,2286.7 1310,2281.3" stroke="#000" stroke-width="8.3" stroke-dasharray="30.8 13.3"/>
<polyline points="1653.1,1762 1655.9,1757.1 1660.5,1749 1665,1740.9 1669.6,1732.8 1674.1,1724.6 1678.7,1716.4 1683.2,1708.2 1687.8,1699.9 1692.4,1691.6 1696.9,1683.3 1701.5,1674.9 1706.1,1666.5 1710.6,1658.1 1715.2,1649.6 1719.8,1641.2 1724.3,1632.6 1728.9,1624.1 1733.5,1615.5 1738,1606.9 1742.6,1598.2 1747.2,1589.5 1751.8,1580.8 1756.4,1572.1 1760.9,1563.3 1765.5,1554.5 1770.1,1545.7 1774.7,1536.8 1779.3,1527.9 1783.9,1518.9 1788.5,1510 1793,1500.9 1797.6,1491.9 1802.2,1482.8 1806.8,1473.7 1811.4,1464.6 1816,1455.4 1820.6,1446.2 1825.2,1437 1829.8,1427.7 1834.4,1418.4 1839,1409.1 1843.6,1399.8 1848.2,1390.4 1852.8,1380.9 1857.4,1371.5 1862,1362 1866.6,1352.5 1871.3,1342.9 1875.9,1333.3 1880.5,1323.7 1885.1,1314 1889.7,1304.4 1894.3,1294.6 1898.9,1284.9 1903.6,1275.1 1908.2,1265.3 1912.8,1255.4 1917.4,1245.6 1922,1235.7 1926.7,1225.7 1931.3,1215.7 1935.9,1205.7 1940.6,1195.7 1945.2,1185.6 1949.8,1175.5 1954.4,1165.4 1959.1,1155.2 1963.7,1145 1968.3,1134.8 1973,1124.5 1977.6,1114.2 1982.3,1103.9 1986.9,1093.5 1991.5,1083.1 1996.2,1072.7 2000.8,1062.2 2005.5,1051.7 2010.1,1041.2 2014.8,1030.6 2019.4,1020.1 2024,1009.4 2028.7,998.8 2033.3,988.1 2038,977.4 2042.6,966.6 2047.3,955.8 2052,945 2056.6,934.2 2061.3,923.3 2065.9,912.4 2070.6,901.4 2075.2,890.5 2079.9,879.4 2084.6,868.4 2089.2,857.3 2093.9,846.2 2098.6,835.1 2103.2,823.9 2107.9,812.7 2112.6,801.5 2117.2,790.2 2121.9,778.9 2126.6,767.6 2131.2,756.2 2135.9,744.8 2140.6,733.4 2145.3,721.9 2149.9,710.4 2154.6,698.9 2159.3,687.3 2164,675.7 2168.7,664.1 2173.3,652.4 2178,640.7 2182.7,629 2187.4,617.3 2192.1,605.5 2196.8,593.7 2201.4,581.8 2206.1,569.9 2210.8,558 2215.5,546.1 2220.2,534.1 2224.9,522.1 2229.6,510 2234.3,498 2239,485.8 2243.7,473.7 2248.4,461.5 2253.1,449.3 2257.8,437.1 2262.5,424.8 2267.2,412.5 2271.9,400.2 2276.6,387.8 2281.3,375.4 2286,363 2290.7,350.5 2295.4,338 2300.1,325.5 2304.8,312.9 2309.5,300.3 2314.2,287.7 2318.9,275 2323.6,262.3 2328.3,249.6 2333.1,236.9 2337.8,224.1 2342.5,211.2 2347.2,198.4 2351.9,185.5" stroke="#000" stroke-width="8.3" stroke-dasharray="30.8 13.3"/>
<polyline points="603.3,2759.5 608.3,2759.5 613.6,2759.4 619,2759.4 624.5,2759.2 630.1,2759.1 635.7,2758.9 641.3,2758.7 646.9,2758.5 652.6,2758.2 658.3,2757.9 664,2757.5 669.8,2757.2 675.6,2756.8 681.3,2756.3 687.1,2755.9 693,2755.4 698.8,2754.8 704.6,2754.3 710.5,2753.7 716.3,2753 722.2,2752.4 728.1,2751.7 734,2750.9 739.9,2750.2 745.8,2749.4 751.8,2748.6 757.7,2747.7 763.7,2746.8 769.6,2745.9 775.6,2745 781.6,2744 787.5,2742.9 793.5,2741.9 799.5,2740.8 805.5,2739.7 811.5,2738.5 817.5,2737.4 823.5,2736.2 829.6,2734.9 835.6,2733.6 841.6,2732.3 847.7,2731 853.7,2729.6 859.8,2728.2 865.9,2726.8 871.9,2725.3 878,2723.8 884.1,2722.3 890.1,2720.7 896.2,2719.1 902.3,2717.5 908.4,2715.8 914.5,2714.1 920.6,2712.4 926.7,2710.6 932.8,2708.8 939,2707 945.1,2705.1 951.2,2703.2 957.3,2701.3 963.5,2699.3 969.6,2697.4 975.7,2695.3 981.9,2693.3 988,2691.2 994.2,2689.1 1000.3,2686.9 1006.5,2684.7 1012.7,2682.5 1018.8,2680.3 1025,2678 1031.2,2675.7 1037.3,2673.4 1043.5,2671 1049.7,2668.6 1055.9,2666.1 1062.1,2663.7 1068.3,2661.1 1074.5,2658.6 1080.7,2656 1086.9,2653.4 1093.1,2650.8 1099.3,2648.1 1105.5,2645.4 1111.7,2642.7 1117.9,2639.9 1124.1,2637.1 1130.4,2634.3 1136.6,2631.5 1142.8,2628.6 1149.1,2625.6 1155.3,2622.7 1161.5,2619.7 1167.8,2616.7 1174,2613.6 1180.2,2610.5 1186.5,2607.4 1192.7,2604.2 1199,2601.1 1205.2,2597.8 1211.5,2594.6 1217.8,2591.3 1224,2588 1230.3,2584.7 1236.5,2581.3 1242.8,2577.9 1249.1,2574.4 1255.4,2570.9 1261.6,2567.4 1267.9,2563.9 1274.2,2560.3 1280.5,2556.7 1286.7,2553.1 1293,2549.4 1299.3,2545.7 1305.6,2542 1311.9,2538.2 1318.2,2534.4 1324.5,2530.6 1330.8,2526.7 1337.1,2522.8 1343.4,2518.9 1349.7,2514.9 1356,2510.9 1362.3,2506.9 1368.6,2502.9 1374.9,2498.8 1381.3,2494.6 1387.6,2490.5 1393.9,2486.3 1400.2,2482.1 1406.5,2477.8 1412.9,2473.5 1419.2,2469.2 1425.5,2464.9 1431.8,2460.5 1438.2,2456.1 1444.5,2451.6 1450.8,2447.2 1457.2,2442.7 1463.5,2438.1 1469.8,2433.5 1475.2,2429.6" stroke="#000" stroke-width="8.3" stroke-dasharray="30.8 13.3"/>
<polyline points="1941.9,2006.7 1943.2,2005.3 1949.7,1998.3 1956.1,1991.2 1962.6,1984.2 1969,1977.1 1975.5,1969.9 1981.9,1962.8 1988.4,1955.6 1994.8,1948.4 2001.3,1941.1 2007.7,1933.8 2014.2,1926.5 2020.6,1919.1 2027.1,1911.8 2033.6,1904.3 2040,1896.9 2046.5,1889.4 2053,1881.9 2059.4,1874.3 2065.9,1866.7 2072.4,1859.1 2078.8,1851.5 2085.3,1843.8 2091.8,1836.1 2098.2,1828.4 2104.7,1820.6 2111.2,1812.8 2117.7,1804.9 2124.1,1797.1 2130.6,1789.2 2137.1,1781.2 2143.6,1773.2 2150.1,1765.2 2156.5,1757.2 2163,1749.1 2169.5,1741 2176,1732.9 2182.5,1724.7 2189,1716.6 2195.4,1708.3 2201.9,1700.1 2208.4,1691.8 2214.9,1683.4 2221.4,1675.1 2227.9,1666.7 2234.4,1658.3 2240.9,1649.8 2247.4,1641.3 2253.9,1632.8 2260.4,1624.3 2266.9,1615.7 2273.4,1607.1 2279.9,1598.4 2286.4,1589.7 2292.9,1581 2299.4,1572.3 2305.9,1563.5 2312.4,1554.7 2318.9,1545.8 2325.4,1537 2331.9,1528.1 2338.4,1519.1 2344.9,1510.1 2351.4,1501.1 2357.9,1492.1 2364.4,1483 2371,1473.9 2377.5,1464.8 2384,1455.6 2390.5,1446.4 2397,1437.2 2403.5,1427.9 2410.1,1418.6 2416.6,1409.3 2423.1,1400 2429.6,1390.6 2436.1,1381.1 2442.7,1371.7 2449.2,1362.2 2455.7,1352.7 2462.2,1343.1 2468.8,1333.5 2475.3,1323.9 2481.8,1314.3 2488.3,1304.6 2494.9,1294.9 2501.4,1285.1 2507.9,1275.3 2514.5,1265.5 2521,1255.7 2527.5,1245.8 2534.1,1235.9 2540.6,1226 2547.1,1216 2553.7,1206 2560.2,1195.9 2566.7,1185.9 2573.3,1175.8 2579.8,1165.6 2586.4,1155.5 2592.9,1145.3 2599.5,1135 2606,1124.8 2612.5,1114.5 2619.1,1104.1 2625.6,1093.8 2632.2,1083.4 2638.7,1072.9 2645.3,1062.5 2651.8,1052 2658.4,1041.5 2664.9,1030.9 2671.5,1020.3 2678,1009.7 2684.6,999.1 2691.1,988.4 2697.7,977.6 2704.2,966.9 2710.8,956.1 2717.4,945.3 2723.9,934.5 2730.5,923.6 2737,912.7 2743.6,901.7 2750.2,890.7 2756.7,879.7 2763.3,868.7 2769.8,857.6 2776.4,846.5 2783,835.4 2789.5,824.2 2796.1,813 2802.7,801.8 2809.2,790.5 2815.8,779.2 2822.4,767.9 2828.9,756.5 2835.5,745.1 2842.1,733.7 2848.7,722.2 2855.2,710.7 2861.8,699.2 2868.4,687.6 2874.9,676 2881.5,664.4 2888.1,652.8 2894.7,641.1 2901.3,629.4 2907.8,617.6 2914.4,605.8 2921,594 2927.6,582.2 2934.2,570.3 2940.7,558.4 2947.3,546.4 2953.9,534.4 2960.5,522.4 2967.1,510.4 2973.7,498.3 2980.2,486.2 2986.8,474.1 2993.4,461.9 3000,449.7 3006.6,437.4 3013.2,425.2 3019.8,412.9 3026.4,400.5 3032.9,388.2 3039.5,375.8 3046.1,363.3 3052.7,350.9 3059.3,338.4 3065.9,325.8 3072.5,313.3 3079.1,300.7 3085.7,288.1 3092.3,275.4 3098.9,262.7 3105.5,250 3112.1,237.2 3118.7,224.5 3125.3,211.6 3131.9,198.8 3138.5,185.9" stroke="#000" stroke-width="8.3" stroke-dasharray="30.8 13.3"/>
<polyline points="603.3,2759.5 609.8,2759.5 616.2,2759.5 622.6,2759.5 629,2759.5 635.4,2759.5 641.8,2759.5 648.2,2759.5 654.6,2759.4 661,2759.4 667.4,2759.4 673.8,2759.4 680.2,2759.4 686.6,2759.3 693,2759.3 699.4,2759.3 705.8,2759.3 712.2,2759.2 718.6,2759.2 725,2759.1 731.3,2759.1 737.7,2759.1 744.1,2759 750.5,2759 756.9,2758.9 763.3,2758.9 769.6,2758.8 776,2758.8 782.4,2758.7 788.8,2758.7 795.2,2758.6 801.5,2758.6 807.9,2758.5 814.3,2758.4 820.7,2758.4 827.1,2758.3 833.4,2758.2 839.8,2758.2 846.2,2758.1 852.6,2758 858.9,2757.9 865.3,2757.9 871.7,2757.8 878.1,2757.7 884.4,2757.6 890.8,2757.5 897.2,2757.4 903.6,2757.4 909.9,2757.3 916.3,2757.2 922.7,2757.1 929,2757 935.4,2756.9 941.8,2756.8 948.2,2756.7 954.5,2756.6 960.9,2756.5 967.3,2756.3 973.6,2756.2 980,2756.1 986.4,2756 992.7,2755.9 999.1,2755.8 1005.5,2755.6 1011.8,2755.5 1018.2,2755.4 1024.6,2755.3 1030.9,2755.1 1037.3,2755 1043.7,2754.9 1050,2754.7 1056.4,2754.6 1062.8,2754.5 1069.1,2754.3 1075.5,2754.2 1081.9,2754 1088.2,2753.9 1094.6,2753.7 1101,2753.6 1107.3,2753.4 1113.7,2753.3 1120,2753.1 1126.4,2753 1132.8,2752.8 1139.1,2752.7 1145.5,2752.5 1151.9,2752.3 1158.2,2752.2 1164.6,2752 1170.9,2751.8 1177.3,2751.6 1183.7,2751.5 1190,2751.3 1196.4,2751.1 1202.8,2750.9 1209.1,2750.7 1215.5,2750.6 1221.8,2750.4 1228.2,2750.2 1234.6,2750 1240.9,2749.8 1247.3,2749.6 1253.6,2749.4 1260,2749.2 1266.4,2749 1272.7,2748.8 1279.1,2748.6 1285.4,2748.4 1291.8,2748.2 1298.2,2748 1304.5,2747.8 1310.9,2747.5 1317.2,2747.3 1323.6,2747.1 1329.9,2746.9 1336.3,2746.7 1342.7,2746.4 1349,2746.2 1355.4,2746 1361.7,2745.8 1368.1,2745.5 1374.4,2745.3 1380.8,2745.1 1387.2,2744.8 1393.5,2744.6 1399.9,2744.3 1406.2,2744.1 1412.6,2743.9 1418.9,2743.6 1425.3,2743.4 1431.7,2743.1 1438,2742.9 1444.4,2742.6 1450.7,2742.3 1457.1,2742.1 1463.4,2741.8 1469.8,2741.6 1476.1,2741.3 1482.5,2741 1484.4,2740.9" stroke="#000" stroke-width="8.3" stroke-dasharray="30.8 13.3"/>
<polyline points="2121.3,2704.3 2123.9,2704.1 2130.2,2703.6 2136.5,2703.2 2142.9,2702.7 2149.2,2702.2 2155.6,2701.7 2161.9,2701.3 2168.3,2700.8 2174.6,2700.3 2181,2699.8 2187.3,2699.4 2193.7,2698.9 2200,2698.4 2206.3,2697.9 2212.7,2697.4 2219,2696.9 2225.4,2696.4 2231.7,2695.9 2238.1,2695.4 2244.4,2694.9 2250.8,2694.4 2257.1,2693.9 2263.4,2693.4 2269.8,2692.9 2276.1,2692.4 2282.5,2691.9 2288.8,2691.4 2295.2,2690.9 2301.5,2690.3 2307.9,2689.8 2314.2,2689.3 2320.5,2688.8 2326.9,2688.3 2333.2,2687.7 2339.6,2687.2 2345.9,2686.7 2352.3,2686.1 2358.6,2685.6 2365,2685.1 2371.3,2684.5 2377.6,2684 2384,2683.4 2390.3,2682.9 2396.7,2682.4 2403,2681.8 2409.4,2681.3 2415.7,2680.7 2422,2680.2 2428.4,2679.6 2434.7,2679 2441.1,2678.5 2447.4,2677.9 2453.8,2677.4 2460.1,2676.8 2466.4,2676.2 2472.8,2675.7 2479.1,2675.1 2485.5,2674.5 2491.8,2673.9 2498.2,2673.4 2504.5,2672.8 2510.8,2672.2 2517.2,2671.6 2523.5,2671 2529.9,2670.4 2536.2,2669.9 2542.6,2669.3 2548.9,2668.7 2555.2,2668.1 2561.6,2667.5 2567.9,2666.9 2574.3,2666.3 2580.6,2665.7 2586.9,2665.1 2593.3,2664.5 2599.6,2663.9 2606,2663.2 2612.3,2662.6 2618.7,2662 2625,2661.4 2631.3,2660.8 2637.7,2660.2 2644,2659.5 2650.4,2658.9 2656.7,2658.3 2663,2657.7 2669.4,2657 2675.7,2656.4 2682.1,2655.8 2688.4,2655.1 2694.7,2654.5 2701.1,2653.9 2707.4,2653.2 2713.8,2652.6 2720.1,2651.9 2726.5,2651.3 2732.8,2650.6 2739.1,2650 2745.5,2649.3 2751.8,2648.7 2758.2,2648 2764.5,2647.4 2770.8,2646.7 2777.2,2646 2783.5,2645.4 2789.9,2644.7 2796.2,2644 2802.5,2643.4 2808.9,2642.7 2815.2,2642 2821.6,2641.3 2827.9,2640.7 2834.2,2640 2840.6,2639.3 2846.9,2638.6 2853.3,2637.9 2859.6,2637.3 2865.9,2636.6 2872.3,2635.9 2878.6,2635.2 2885,2634.5 2891.3,2633.8 2897.6,2633.1 2904,2632.4 2910.3,2631.7 2916.7,2631 2923,2630.3 2929.3,2629.6 2935.7,2628.8 2942,2628.1 2948.3,2627.4 2954.7,2626.7 2961,2626 2967.4,2625.3 2973.7,2624.5 2980,2623.8 2986.4,2623.1 2992.7,2622.4 2999.1,2621.6 3005.4,2620.9 3011.7,2620.2 3018.1,2619.4 3024.4,2618.7 3030.8,2617.9 3037.1,2617.2 3043.4,2616.5 3049.8,2615.7 3056.1,2615 3062.4,2614.2 3068.8,2613.5 3075.1,2612.7 3081.5,2612 3087.8,2611.2 3094.1,2610.4 3100.5,2609.7 3106.8,2608.9 3113.1,2608.2 3119.5,2607.4 3125.8,2606.6 3132.2,2605.8 3138.5,2605.1" stroke="#000" stroke-width="8.3" stroke-dasharray="30.8 13.3"/>
<polyline points="1185.8,1157.7 1193,1203.8 1200.4,1248.2 1207.8,1291 1215.3,1332.3 1222.9,1372.1 1230.6,1410.4 1238.4,1447.4 1246.3,1483 1254.3,1517.3 1262.4,1550.3 1270.6,1582.1 1278.9,1613.2 1287.3,1643.6 1295.8,1673.2 1304.4,1701.8 1313.1,1729.5 1322,1756.1 1330.9,1781.6 1339.9,1806 1349.1,1829.1 1358.4,1851.1 1367.8,1871.8 1377.3,1891.2 1386.9,1909.2 1396.7,1925.4 1406.5,1940.6 1416.5,1955.3 1426.6,1970.3 1436.9,1985.4 1447.2,2000.4 1457.7,2015.4 1468.3,2030.1 1479.1,2044.7 1490,2059.1 1501,2073.1 1512.2,2086.9 1523.5,2100.4 1534.9,2113.5 1546.5,2126.3 1558.2,2138.7 1570.1,2150.7 1582.1,2162.3 1594.3,2173.5 1606.6,2184.2 1619.1,2194.5 1631.8,2204.4 1644.5,2214 1657.5,2223.4 1670.6,2232.5 1683.9,2241.5 1697.3,2250.1 1710.9,2258.6 1724.7,2266.9 1738.6,2274.9 1752.8,2282.7 1767.1,2290.4 1781.5,2297.8 1796.2,2305 1811,2312.1 1826,2318.9 1841.2,2325.6 1856.6,2332.1 1872.2,2338.5 1888,2344.6 1904,2350.6 1920.2,2356.5 1936.5,2362.2 1953.1,2367.7 1969.9,2373 1986.9,2378.2 2004.1,2383.1 2021.5,2388 2039.2,2392.7 2057,2397.3 2075.1,2401.8 2093.4,2406.1 2111.9,2410.4 2130.7,2414.7 2149.7,2418.8 2168.9,2422.9 2188.4,2427 2208.1,2430.9 2228.1,2434.9 2248.3,2438.7 2268.7,2442.5 2289.4,2446.2 2310.4,2449.9 2331.6,2453.5 2353.1,2457 2374.9,2460.4 2396.9,2463.8 2419.2,2467.2 2441.8,2470.4 2464.7,2473.6 2487.8,2476.7 2511.3,2479.8 2535,2482.8 2559,2485.7 2583.3,2488.5 2607.9,2491.3 2632.9,2494 2658.1,2496.7 2683.7,2499.3 2709.5,2501.8 2735.7,2504.3 2762.3,2506.7 2789.1,2509.1 2816.3,2511.5 2843.8,2513.8 2871.7,2516 2899.9,2518.2 2928.4,2520.4 2957.4,2522.5 2986.6,2524.5 3016.3,2526.5 3046.3,2528.5 3076.7,2530.4 3107.4,2532.3 3138.6,2534.2" stroke="#00224e" stroke-width="8.3" stroke-dasharray="30.8 13.3"/>
<polyline points="348.5,2957.5 603.3,2759.5 607.9,2759.4 613.3,2759.2 618.8,2758.9 624.6,2758.5 630.6,2757.9 636.6,2757.2 642.8,2756.3 649,2755.3 655.3,2754.2 661.7,2753 668.2,2751.6 674.7,2750.1 681.3,2748.5 687.9,2746.8 694.6,2744.9 701.3,2742.9 708.1,2740.7 714.9,2738.4 721.7,2736 728.6,2733.5 735.5,2730.8 742.4,2728 749.4,2725.1 756.4,2722.1 763.4,2718.9 770.5,2715.6 777.5,2712.1 784.6,2708.5 791.8,2704.8 798.9,2701 806.1,2697 813.3,2692.9 820.6,2688.7 827.8,2684.4 835.1,2679.9 842.4,2675.3 849.7,2670.5 857,2665.6 864.4,2660.6 871.8,2655.5 879.1,2650.2 886.6,2644.8 894,2639.3 901.4,2633.7 908.9,2627.9 916.4,2622 923.9,2615.9 931.4,2609.7 938.9,2603.4 946.4,2597 954,2590.4 961.6,2583.7 969.1,2576.9 976.7,2570 984.3,2562.9 992,2555.7 999.6,2548.3 1007.3,2540.8 1014.9,2533.2 1022.6,2525.5 1030.3,2517.6 1038,2509.6 1045.7,2501.5 1053.5,2493.3 1061.2,2484.9 1069,2476.4 1076.7,2467.7 1084.5,2458.9 1092.3,2450 1100.1,2441 1107.9,2431.8 1115.7,2422.5 1123.6,2413.1 1131.4,2403.6 1139.2,2393.9 1147.1,2384.1 1155,2374.1 1162.9,2364 1170.8,2353.8 1178.7,2343.5 1186.6,2333 1194.5,2322.5 1202.4,2311.7 1210.4,2300.9 1218.3,2289.9 1226.3,2278.8 1234.3,2267.5 1242.3,2256.2 1250.3,2244.6 1258.2,2233 1266.3,2221.2 1274.3,2209.4 1282.3,2197.3 1290.3,2185.2 1298.4,2172.9 1306.4,2160.5 1314.5,2147.9 1322.6,2135.3 1330.6,2122.5 1338.7,2109.5 1346.8,2096.5 1354.9,2083.3 1363,2069.9 1371.1,2056.5 1379.3,2042.9 1387.4,2029.2 1395.5,2015.3 1403.7,2001.4 1411.8,1987.3 1420,1973 1428.2,1958.7 1436.3,1944.2 1444.5,1929.5 1452.7,1914.8 1460.9,1899.9 1469.1,1884.9 1477.3,1869.7 1485.5,1854.5 1493.8,1839.1 1502,1823.5 1510.2,1807.9 1518.5,1792.1 1526.7,1776.1 1535,1760.1 1543.3,1743.9 1551.5,1727.6 1559.8,1711.1 1568.1,1694.6 1576.4,1677.9 1584.7,1661 1593,1644.1 1601.3,1627 1609.6,1609.7 1618,1592.4 1626.3,1574.9 1634.6,1557.3 1643,1539.5 1651.3,1521.7 1659.7,1503.7 1668,1485.5 1676.4,1467.3 1684.8,1448.9 1693.2,1430.3 1701.6,1411.7 1709.9,1392.9 1718.3,1374 1726.7,1355 1735.1,1335.8 1743.6,1316.5 1752,1297 1760.4,1277.5 1768.8,1257.8 1777.3,1238 1785.7,1218 1794.2,1197.9 1802.6,1177.7 1811.1,1157.4 1819.5,1136.9 1828,1116.3 1836.5,1095.5 1845,1074.7 1853.4,1053.7 1861.9,1032.6 1870.4,1011.3 1878.9,989.9 1887.4,968.4 1895.9,946.8 1904.5,925 1913,903.1 1921.5,881 1930,858.9 1938.6,836.6 1947.1,814.2 1955.7,791.6 1964.2,768.9 1972.8,746.1 1981.3,723.2 1989.9,700.1 1998.5,676.9 2007,653.6 2015.6,630.1 2024.2,606.5 2032.8,582.8 2041.4,558.9 2050,534.9 2058.6,510.8 2067.2,486.6 2075.8,462.2 2084.4,437.7 2093,413.1 2101.7,388.3 2110.3,363.4 2118.9,338.4 2127.6,313.2 2136.2,287.9 2144.9,262.5 2153.5,237 2162.2,211.3 2170.8,185.5" stroke="#fee838" stroke-width="13.5" stroke-linejoin="round"/>
</g>
<circle cx="1378.9" cy="2034.8" r="29" fill="#000"/>
<rect x="1185.8" y="2259.3" width="58" height="58" rx="3" fill="#000"/>
<polygon points="1011,2511.7 985,2563.7 1037,2563.7" fill="#000" stroke="#000" stroke-width="6" stroke-linejoin="round"/>
<g transform="translate(1169.5,1385.4) rotate(-76.41)" fill="#000"><text x="-100" y="24" font-size="69.67" textLength="127.2" lengthAdjust="spacingAndGlyphs" xml:space="preserve">280</text><text x="52.8" y="24" font-size="69.67" font-style="italic" textLength="46.5" lengthAdjust="spacingAndGlyphs" xml:space="preserve">C</text><circle cx="41.1" cy="-28.4" r="6.30" fill="none" stroke="#000" stroke-width="3.13"/></g>
<g transform="translate(1249.7,1052.7) rotate(-76.41)" fill="#000"><text x="-121.4" y="24.3" font-size="69.67" textLength="242.8" lengthAdjust="spacingAndGlyphs" xml:space="preserve">k=5.06</text></g>
<g transform="translate(1198.5,1595.3) rotate(-73.92)" fill="#000"><text x="-100" y="24" font-size="69.67" textLength="127.2" lengthAdjust="spacingAndGlyphs" xml:space="preserve">260</text><text x="52.8" y="24" font-size="69.67" font-style="italic" textLength="46.5" lengthAdjust="spacingAndGlyphs" xml:space="preserve">C</text><circle cx="41.1" cy="-28.4" r="6.30" fill="none" stroke="#000" stroke-width="3.13"/></g>
<g transform="translate(1297.4,1250.7) rotate(-73.92)" fill="#000"><text x="-121.4" y="24.3" font-size="69.67" textLength="242.8" lengthAdjust="spacingAndGlyphs" xml:space="preserve">k=6.44</text></g>
<g transform="translate(1237.7,1791.3) rotate(-70.33)" fill="#000"><text x="-100" y="24" font-size="69.67" textLength="127.2" lengthAdjust="spacingAndGlyphs" xml:space="preserve">240</text><text x="52.8" y="24" font-size="69.67" font-style="italic" textLength="46.5" lengthAdjust="spacingAndGlyphs" xml:space="preserve">C</text><circle cx="41.1" cy="-28.4" r="6.30" fill="none" stroke="#000" stroke-width="3.13"/></g>
<g transform="translate(1352.5,1468.5) rotate(-70.33)" fill="#000"><text x="-121.4" y="24.3" font-size="69.67" textLength="242.8" lengthAdjust="spacingAndGlyphs" xml:space="preserve">k=7.82</text></g>
<g transform="translate(1285.6,2003.1) rotate(-64.68)" fill="#000"><text x="-100" y="24" font-size="69.67" textLength="127.2" lengthAdjust="spacingAndGlyphs" xml:space="preserve">220</text><text x="52.8" y="24" font-size="69.67" font-style="italic" textLength="46.5" lengthAdjust="spacingAndGlyphs" xml:space="preserve">C</text><circle cx="41.1" cy="-28.4" r="6.30" fill="none" stroke="#000" stroke-width="3.13"/></g>
<g transform="translate(1440.9,1672.5) rotate(-64.68)" fill="#000"><text x="-121.4" y="24.3" font-size="69.67" textLength="242.8" lengthAdjust="spacingAndGlyphs" xml:space="preserve">k=9.20</text></g>
<g transform="translate(1374.4,2197.2) rotate(-56.18)" fill="#000"><text x="-100" y="24" font-size="69.67" textLength="127.2" lengthAdjust="spacingAndGlyphs" xml:space="preserve">200</text><text x="52.8" y="24" font-size="69.67" font-style="italic" textLength="46.5" lengthAdjust="spacingAndGlyphs" xml:space="preserve">C</text><circle cx="41.1" cy="-28.4" r="6.30" fill="none" stroke="#000" stroke-width="3.13"/></g>
<g transform="translate(1578.2,1890.3) rotate(-56.18)" fill="#000"><text x="-142.6" y="24.3" font-size="69.67" textLength="285.1" lengthAdjust="spacingAndGlyphs" xml:space="preserve">k=10.58</text></g>
<g transform="translate(1559.6,2365.5) rotate(-41.74)" fill="#000"><text x="-100" y="24" font-size="69.67" textLength="127.2" lengthAdjust="spacingAndGlyphs" xml:space="preserve">180</text><text x="52.8" y="24" font-size="69.67" font-style="italic" textLength="46.5" lengthAdjust="spacingAndGlyphs" xml:space="preserve">C</text><circle cx="41.1" cy="-28.4" r="6.30" fill="none" stroke="#000" stroke-width="3.13"/></g>
<g transform="translate(1839.1,2114) rotate(-41.74)" fill="#000"><text x="-142.6" y="24.3" font-size="69.67" textLength="285.1" lengthAdjust="spacingAndGlyphs" xml:space="preserve">k=11.95</text></g>
<g transform="translate(1803,2725) rotate(-3.30)" fill="#000"><text x="-313" y="24.2" font-size="69.67" textLength="553.6" lengthAdjust="spacingAndGlyphs" xml:space="preserve">Min Temp = 149</text><text x="266.3" y="24.2" font-size="69.67" font-style="italic" textLength="46.5" lengthAdjust="spacingAndGlyphs" xml:space="preserve">C</text><circle cx="254.6" cy="-28.4" r="6.30" fill="none" stroke="#000" stroke-width="3.13"/></g>
<rect x="348.5" y="185.5" width="2790.0" height="2772.0" fill="none" stroke="#000" stroke-width="6.67"/>
<line x1="603.3" y1="2957.5" x2="603.3" y2="2986.7" stroke="#000" stroke-width="6.67"/>
<g transform="translate(603.3,3080) rotate(0.00)" fill="#000"><text x="-26.5" y="0" font-size="87.08" textLength="53" lengthAdjust="spacingAndGlyphs" xml:space="preserve">0</text></g>
<line x1="1112.9" y1="2957.5" x2="1112.9" y2="2986.7" stroke="#000" stroke-width="6.67"/>
<g transform="translate(1112.9,3080) rotate(0.00)" fill="#000"><text x="-53" y="0" font-size="87.08" textLength="106.1" lengthAdjust="spacingAndGlyphs" xml:space="preserve">10</text></g>
<line x1="1622.5" y1="2957.5" x2="1622.5" y2="2986.7" stroke="#000" stroke-width="6.67"/>
<g transform="translate(1622.5,3080) rotate(0.00)" fill="#000"><text x="-53" y="0" font-size="87.08" textLength="106.1" lengthAdjust="spacingAndGlyphs" xml:space="preserve">20</text></g>
<line x1="2132.1" y1="2957.5" x2="2132.1" y2="2986.7" stroke="#000" stroke-width="6.67"/>
<g transform="translate(2132.1,3080) rotate(0.00)" fill="#000"><text x="-53" y="0" font-size="87.08" textLength="106.1" lengthAdjust="spacingAndGlyphs" xml:space="preserve">30</text></g>
<line x1="2641.7" y1="2957.5" x2="2641.7" y2="2986.7" stroke="#000" stroke-width="6.67"/>
<g transform="translate(2641.7,3080) rotate(0.00)" fill="#000"><text x="-53" y="0" font-size="87.08" textLength="106.1" lengthAdjust="spacingAndGlyphs" xml:space="preserve">40</text></g>
<line x1="319.3" y1="2759.5" x2="348.5" y2="2759.5" stroke="#000" stroke-width="6.67"/>
<g transform="translate(289.5,2791.5) rotate(0.00)" fill="#000"><text x="-53" y="0" font-size="87.08" textLength="53" lengthAdjust="spacingAndGlyphs" xml:space="preserve">0</text></g>
<line x1="319.3" y1="2363.5" x2="348.5" y2="2363.5" stroke="#000" stroke-width="6.67"/>
<g transform="translate(289.5,2395.5) rotate(0.00)" fill="#000"><text x="-106.1" y="0" font-size="87.08" textLength="106.1" lengthAdjust="spacingAndGlyphs" xml:space="preserve">10</text></g>
<line x1="319.3" y1="1967.5" x2="348.5" y2="1967.5" stroke="#000" stroke-width="6.67"/>
<g transform="translate(289.5,1999.5) rotate(0.00)" fill="#000"><text x="-106.1" y="0" font-size="87.08" textLength="106.1" lengthAdjust="spacingAndGlyphs" xml:space="preserve">20</text></g>
<line x1="319.3" y1="1571.5" x2="348.5" y2="1571.5" stroke="#000" stroke-width="6.67"/>
<g transform="translate(289.5,1603.5) rotate(0.00)" fill="#000"><text x="-106.1" y="0" font-size="87.08" textLength="106.1" lengthAdjust="spacingAndGlyphs" xml:space="preserve">30</text></g>
<line x1="319.3" y1="1175.5" x2="348.5" y2="1175.5" stroke="#000" stroke-width="6.67"/>
<g transform="translate(289.5,1207.5) rotate(0.00)" fill="#000"><text x="-106.1" y="0" font-size="87.08" textLength="106.1" lengthAdjust="spacingAndGlyphs" xml:space="preserve">40</text></g>
<line x1="319.3" y1="779.5" x2="348.5" y2="779.5" stroke="#000" stroke-width="6.67"/>
<g transform="translate(289.5,811.5) rotate(0.00)" fill="#000"><text x="-106.1" y="0" font-size="87.08" textLength="106.1" lengthAdjust="spacingAndGlyphs" xml:space="preserve">50</text></g>
<line x1="319.3" y1="383.5" x2="348.5" y2="383.5" stroke="#000" stroke-width="6.67"/>
<g transform="translate(289.5,415.5) rotate(0.00)" fill="#000"><text x="-106.1" y="0" font-size="87.08" textLength="106.1" lengthAdjust="spacingAndGlyphs" xml:space="preserve">60</text></g>
<g transform="translate(1743.5,135.5) rotate(0.00)" fill="#000"><text x="-677.4" y="0" font-size="104.50" textLength="1354.8" lengthAdjust="spacingAndGlyphs" xml:space="preserve">PLA, 0.6mm Revo Obsidian</text></g>
<g transform="translate(1745,3198) rotate(0.00)" fill="#000"><text x="-434" y="-0.9" font-size="87.08" textLength="772.6" lengthAdjust="spacingAndGlyphs" xml:space="preserve">Loadcell Reading (</text><text x="338.6" y="-0.9" font-size="87.08" font-style="italic" textLength="62.4" lengthAdjust="spacingAndGlyphs" xml:space="preserve">N</text><text x="401" y="-0.9" font-size="87.08" textLength="32.5" lengthAdjust="spacingAndGlyphs" xml:space="preserve">)</text></g>
<g transform="translate(134.5,1567) rotate(-90.00)" fill="#000"><text x="-364.5" y="-0.1" font-size="87.08" textLength="418.7" lengthAdjust="spacingAndGlyphs" xml:space="preserve">Flowrate (</text><text x="54.2" y="-0.1" font-size="87.08" font-style="italic" textLength="162.4" lengthAdjust="spacingAndGlyphs" xml:space="preserve">mm</text><text x="220.5" y="-31.9" font-size="60.96" textLength="37.1" lengthAdjust="spacingAndGlyphs" xml:space="preserve">3</text><text x="259.9" y="-0.1" font-size="87.08" textLength="28.1" lengthAdjust="spacingAndGlyphs" xml:space="preserve">/</text><text x="288" y="-0.1" font-size="87.08" font-style="italic" textLength="43.4" lengthAdjust="spacingAndGlyphs" xml:space="preserve">s</text><text x="331.4" y="-0.1" font-size="87.08" textLength="32.5" lengthAdjust="spacingAndGlyphs" xml:space="preserve">)</text></g>
<defs><linearGradient id="cb" x1="0" y1="1" x2="0" y2="0">
<stop offset="0.0000" stop-color="#334f71"/>
<stop offset="0.0156" stop-color="#335176"/>
<stop offset="0.0312" stop-color="#33537c"/>
<stop offset="0.0469" stop-color="#335582"/>
<stop offset="0.0625" stop-color="#335788"/>
<stop offset="0.0781" stop-color="#335a8d"/>
<stop offset="0.0938" stop-color="#375b8d"/>
<stop offset="0.1094" stop-color="#415e8d"/>
<stop offset="0.1250" stop-color="#48608c"/>
<stop offset="0.1406" stop-color="#4e628b"/>
<stop offset="0.1562" stop-color="#52648b"/>
<stop offset="0.1719" stop-color="#57678a"/>
<stop offset="0.1875" stop-color="#5b698a"/>
<stop offset="0.2031" stop-color="#5f6b8a"/>
<stop offset="0.2188" stop-color="#626d89"/>
<stop offset="0.2344" stop-color="#667089"/>
<stop offset="0.2500" stop-color="#697289"/>
<stop offset="0.2656" stop-color="#6c7489"/>
<stop offset="0.2812" stop-color="#6f7689"/>
<stop offset="0.2969" stop-color="#72788a"/>
<stop offset="0.3125" stop-color="#757b8a"/>
<stop offset="0.3281" stop-color="#787d8a"/>
<stop offset="0.3438" stop-color="#7b7f8b"/>
<stop offset="0.3594" stop-color="#7e818b"/>
<stop offset="0.3750" stop-color="#81848c"/>
<stop offset="0.3906" stop-color="#83868d"/>
<stop offset="0.4062" stop-color="#86888d"/>
<stop offset="0.4219" stop-color="#898a8e"/>
<stop offset="0.4375" stop-color="#8c8d8f"/>
<stop offset="0.4531" stop-color="#8e8f90"/>
<stop offset="0.4688" stop-color="#919191"/>
<stop offset="0.4844" stop-color="#949492"/>
<stop offset="0.5000" stop-color="#979693"/>
<stop offset="0.5156" stop-color="#9a9893"/>
<stop offset="0.5312" stop-color="#9d9b93"/>
<stop offset="0.5469" stop-color="#a09d93"/>
<stop offset="0.5625" stop-color="#a3a093"/>
<stop offset="0.5781" stop-color="#a6a293"/>
<stop offset="0.5938" stop-color="#a9a493"/>
<stop offset="0.6094" stop-color="#aca792"/>
<stop offset="0.6250" stop-color="#afa992"/>
<stop offset="0.6406" stop-color="#b2ac91"/>
<stop offset="0.6562" stop-color="#b6ae90"/>
<stop offset="0.6719" stop-color="#b9b18f"/>
<stop offset="0.6875" stop-color="#bcb38e"/>
<stop offset="0.7031" stop-color="#bfb68d"/>
<stop offset="0.7188" stop-color="#c3b98c"/>
<stop offset="0.7344" stop-color="#c6bb8b"/>
<stop offset="0.7500" stop-color="#c9be8a"/>
<stop offset="0.7656" stop-color="#cdc188"/>
<stop offset="0.7812" stop-color="#d0c386"/>
<stop offset="0.7969" stop-color="#d3c685"/>
<stop offset="0.8125" stop-color="#d7c983"/>
<stop offset="0.8281" stop-color="#dacc80"/>
<stop offset="0.8438" stop-color="#dece7e"/>
<stop offset="0.8594" stop-color="#e1d17c"/>
<stop offset="0.8750" stop-color="#e5d479"/>
<stop offset="0.8906" stop-color="#e8d776"/>
<stop offset="0.9062" stop-color="#ecda73"/>
<stop offset="0.9219" stop-color="#efdd6f"/>
<stop offset="0.9375" stop-color="#f3e06b"/>
<stop offset="0.9531" stop-color="#f7e367"/>
<stop offset="0.9688" stop-color="#fae662"/>
<stop offset="0.9844" stop-color="#fee95d"/>
<stop offset="1.0000" stop-color="#feed5f"/>
</linearGradient></defs>
<rect x="445.7" y="282.8" width="83.8" height="1940.2" fill="url(#cb)" stroke="#000" stroke-width="6.67"/>
<line x1="529.5" y1="2223" x2="558.7" y2="2223" stroke="#000" stroke-width="6.67"/>
<g transform="translate(586.3,2256) rotate(0.00)" fill="#000"><text x="0" y="0" font-size="87.08" textLength="159.1" lengthAdjust="spacingAndGlyphs" xml:space="preserve">148</text></g>
<line x1="529.5" y1="2018" x2="558.7" y2="2018" stroke="#000" stroke-width="6.67"/>
<g transform="translate(586.3,2051) rotate(0.00)" fill="#000"><text x="0" y="0" font-size="87.08" textLength="159.1" lengthAdjust="spacingAndGlyphs" xml:space="preserve">163</text></g>
<line x1="529.5" y1="1813.1" x2="558.7" y2="1813.1" stroke="#000" stroke-width="6.67"/>
<g transform="translate(586.3,1846.1) rotate(0.00)" fill="#000"><text x="0" y="0" font-size="87.08" textLength="159.1" lengthAdjust="spacingAndGlyphs" xml:space="preserve">178</text></g>
<line x1="529.5" y1="1608.1" x2="558.7" y2="1608.1" stroke="#000" stroke-width="6.67"/>
<g transform="translate(586.3,1641.1) rotate(0.00)" fill="#000"><text x="0" y="0" font-size="87.08" textLength="159.1" lengthAdjust="spacingAndGlyphs" xml:space="preserve">193</text></g>
<line x1="529.5" y1="1403.2" x2="558.7" y2="1403.2" stroke="#000" stroke-width="6.67"/>
<g transform="translate(586.3,1436.2) rotate(0.00)" fill="#000"><text x="0" y="0" font-size="87.08" textLength="159.1" lengthAdjust="spacingAndGlyphs" xml:space="preserve">208</text></g>
<line x1="529.5" y1="1198.2" x2="558.7" y2="1198.2" stroke="#000" stroke-width="6.67"/>
<g transform="translate(586.3,1231.2) rotate(0.00)" fill="#000"><text x="0" y="0" font-size="87.08" textLength="159.1" lengthAdjust="spacingAndGlyphs" xml:space="preserve">223</text></g>
<line x1="529.5" y1="993.3" x2="558.7" y2="993.3" stroke="#000" stroke-width="6.67"/>
<g transform="translate(586.3,1026.3) rotate(0.00)" fill="#000"><text x="0" y="0" font-size="87.08" textLength="159.1" lengthAdjust="spacingAndGlyphs" xml:space="preserve">238</text></g>
<line x1="529.5" y1="788.3" x2="558.7" y2="788.3" stroke="#000" stroke-width="6.67"/>
<g transform="translate(586.3,821.3) rotate(0.00)" fill="#000"><text x="0" y="0" font-size="87.08" textLength="159.1" lengthAdjust="spacingAndGlyphs" xml:space="preserve">253</text></g>
<line x1="529.5" y1="583.4" x2="558.7" y2="583.4" stroke="#000" stroke-width="6.67"/>
<g transform="translate(586.3,616.4) rotate(0.00)" fill="#000"><text x="0" y="0" font-size="87.08" textLength="159.1" lengthAdjust="spacingAndGlyphs" xml:space="preserve">268</text></g>
<line x1="529.5" y1="378.4" x2="558.7" y2="378.4" stroke="#000" stroke-width="6.67"/>
<g transform="translate(586.3,411.4) rotate(0.00)" fill="#000"><text x="0" y="0" font-size="87.08" textLength="159.1" lengthAdjust="spacingAndGlyphs" xml:space="preserve">283</text></g>
<g transform="translate(857,1250) rotate(-90.00)" fill="#000"><text x="-514.3" y="-0.9" font-size="87.08" textLength="905" lengthAdjust="spacingAndGlyphs" xml:space="preserve">Nozzle Temperature (</text><text x="422.9" y="-0.9" font-size="87.08" font-style="italic" textLength="58.2" lengthAdjust="spacingAndGlyphs" xml:space="preserve">C</text><text x="481.1" y="-0.9" font-size="87.08" textLength="32.5" lengthAdjust="spacingAndGlyphs" xml:space="preserve">)</text><circle cx="408.1" cy="-65.8" r="7.87" fill="none" stroke="#000" stroke-width="3.92"/></g>
<rect x="1502.9" y="218.8" width="1600.6" height="553.7" fill="#fff"/>
<line x1="1529.5" y1="274.0" x2="1662.9" y2="274.0" stroke="#00224e" stroke-width="8.3" stroke-dasharray="30.8 13.3"/>
<line x1="1529.5" y1="384.0" x2="1662.9" y2="384.0" stroke="#fee838" stroke-width="13.5" stroke-linecap="square"/>
<circle cx="1596.2" cy="498.2" r="29" fill="#000"/>
<rect x="1567.2" y="579.9" width="58" height="58" rx="3" fill="#000"/>
<polygon points="1596.2,689.3 1570.2,741.3 1622.2,741.3" fill="#000" stroke="#000" stroke-width="6" stroke-linejoin="round"/>
<g transform="translate(1716,299) rotate(0.00)" fill="#000"><text x="0" y="0" font-size="69.67" textLength="771.5" lengthAdjust="spacingAndGlyphs" xml:space="preserve">Steady State Boundary</text></g>
<g transform="translate(1716,408.2) rotate(0.00)" fill="#000"><text x="0" y="-0.1" font-size="69.67" textLength="523.2" lengthAdjust="spacingAndGlyphs" xml:space="preserve">Selected: 208.6</text><text x="548.8" y="-0.1" font-size="69.67" font-style="italic" textLength="46.5" lengthAdjust="spacingAndGlyphs" xml:space="preserve">C</text><text x="595.4" y="-0.1" font-size="69.67" textLength="770.6" lengthAdjust="spacingAndGlyphs" xml:space="preserve"> k = 9.98 @ k_lin=0.12</text><circle cx="537.1" cy="-52.7" r="6.30" fill="none" stroke="#000" stroke-width="3.13"/></g>
<g transform="translate(1716,515.9) rotate(0.00)" fill="#000"><text x="0" y="-0.5" font-size="69.67" textLength="148.3" lengthAdjust="spacingAndGlyphs" xml:space="preserve">18.3</text><text x="148.3" y="-0.5" font-size="69.67" font-style="italic" textLength="129.8" lengthAdjust="spacingAndGlyphs" xml:space="preserve">mm</text><text x="281.3" y="-26.2" font-size="48.77" textLength="29.7" lengthAdjust="spacingAndGlyphs" xml:space="preserve">3</text><text x="312.8" y="-0.5" font-size="69.67" textLength="22.4" lengthAdjust="spacingAndGlyphs" xml:space="preserve">/</text><text x="335.2" y="-0.5" font-size="69.67" font-style="italic" textLength="34.7" lengthAdjust="spacingAndGlyphs" xml:space="preserve">s</text><text x="369.9" y="-0.5" font-size="69.67" textLength="160.9" lengthAdjust="spacingAndGlyphs" xml:space="preserve"> infill</text></g>
<g transform="translate(1716,626.2) rotate(0.00)" fill="#000"><text x="0" y="-0.5" font-size="69.67" textLength="148.3" lengthAdjust="spacingAndGlyphs" xml:space="preserve">11.9</text><text x="148.3" y="-0.5" font-size="69.67" font-style="italic" textLength="129.8" lengthAdjust="spacingAndGlyphs" xml:space="preserve">mm</text><text x="281.3" y="-26.2" font-size="48.77" textLength="29.7" lengthAdjust="spacingAndGlyphs" xml:space="preserve">3</text><text x="312.8" y="-0.5" font-size="69.67" textLength="22.4" lengthAdjust="spacingAndGlyphs" xml:space="preserve">/</text><text x="335.2" y="-0.5" font-size="69.67" font-style="italic" textLength="34.7" lengthAdjust="spacingAndGlyphs" xml:space="preserve">s</text><text x="369.9" y="-0.5" font-size="69.67" textLength="385.5" lengthAdjust="spacingAndGlyphs" xml:space="preserve"> perimeters</text></g>
<g transform="translate(1716,732.8) rotate(0.00)" fill="#000"><text x="0" y="-0.5" font-size="69.67" textLength="106" lengthAdjust="spacingAndGlyphs" xml:space="preserve">5.6</text><text x="106" y="-0.5" font-size="69.67" font-style="italic" textLength="129.8" lengthAdjust="spacingAndGlyphs" xml:space="preserve">mm</text><text x="238.9" y="-26.2" font-size="48.77" textLength="29.7" lengthAdjust="spacingAndGlyphs" xml:space="preserve">3</text><text x="270.4" y="-0.5" font-size="69.67" textLength="22.4" lengthAdjust="spacingAndGlyphs" xml:space="preserve">/</text><text x="292.8" y="-0.5" font-size="69.67" font-style="italic" textLength="34.7" lengthAdjust="spacingAndGlyphs" xml:space="preserve">s</text><text x="327.5" y="-0.5" font-size="69.67" textLength="243.1" lengthAdjust="spacingAndGlyphs" xml:space="preserve"> details</text></g>
</svg></body></html>
